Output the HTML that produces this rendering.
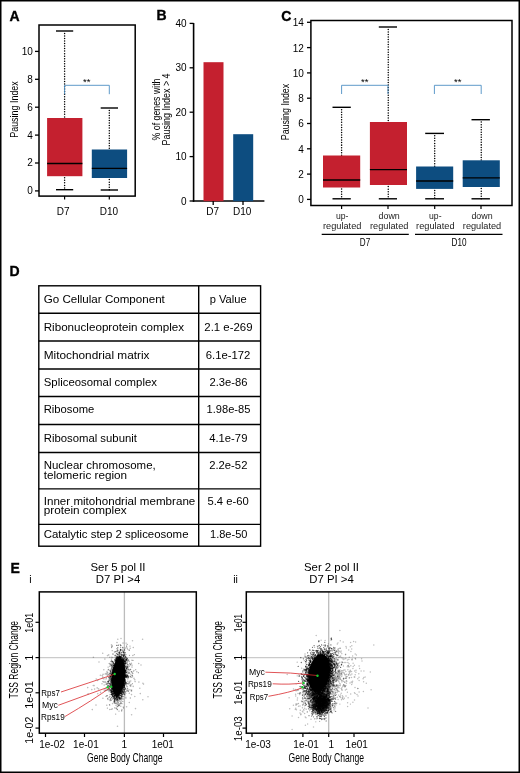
<!DOCTYPE html>
<html><head><meta charset="utf-8"><title>Figure</title>
<style>
html,body{margin:0;padding:0;background:#fff;}
body{width:520px;height:773px;overflow:hidden;position:relative;}
svg{display:block;font-family:"Liberation Sans",sans-serif;}
</style></head><body>
<svg width="520" height="773" viewBox="0 0 520 773">
<rect x="0.75" y="0.75" width="518.5" height="771.5" fill="#fff" stroke="#000" stroke-width="1.5"/>
<text transform="translate(9.6 20.5)" font-size="14" text-anchor="start" font-weight="bold" stroke="#000" stroke-width="0.35" fill="#000">A</text>
<rect x="39.00" y="25.00" width="96.20" height="171.10" fill="none" stroke="#000" stroke-width="1.5"/>
<line x1="35" y1="190.9" x2="39" y2="190.9" stroke="#000" stroke-width="1.3" />
<text transform="translate(32.8 194.3)" font-size="10" text-anchor="end" fill="#000">0</text>
<line x1="35" y1="163.0" x2="39" y2="163.0" stroke="#000" stroke-width="1.3" />
<text transform="translate(32.8 166.4)" font-size="10" text-anchor="end" fill="#000">2</text>
<line x1="35" y1="135.10000000000002" x2="39" y2="135.10000000000002" stroke="#000" stroke-width="1.3" />
<text transform="translate(32.8 138.50000000000003)" font-size="10" text-anchor="end" fill="#000">4</text>
<line x1="35" y1="107.20000000000002" x2="39" y2="107.20000000000002" stroke="#000" stroke-width="1.3" />
<text transform="translate(32.8 110.60000000000002)" font-size="10" text-anchor="end" fill="#000">6</text>
<line x1="35" y1="79.30000000000001" x2="39" y2="79.30000000000001" stroke="#000" stroke-width="1.3" />
<text transform="translate(32.8 82.70000000000002)" font-size="10" text-anchor="end" fill="#000">8</text>
<line x1="35" y1="51.400000000000006" x2="39" y2="51.400000000000006" stroke="#000" stroke-width="1.3" />
<text transform="translate(32.8 54.800000000000004)" font-size="10" text-anchor="end" fill="#000">10</text>
<text transform="translate(17.5 109.5) rotate(-90)" font-size="11" text-anchor="middle" textLength="56.5" lengthAdjust="spacingAndGlyphs" fill="#000">Pausing Index</text>
<line x1="64.6" y1="33.4" x2="64.6" y2="118" stroke="#000" stroke-width="1.5" stroke-dasharray="0.01 2.52" stroke-linecap="round"/>
<line x1="64.6" y1="177.79999999999998" x2="64.6" y2="189.7" stroke="#000" stroke-width="1.5" stroke-dasharray="0.01 2.52" stroke-linecap="round"/>
<line x1="56" y1="31" x2="73.2" y2="31" stroke="#000" stroke-width="1.4" />
<line x1="56" y1="189.7" x2="73.2" y2="189.7" stroke="#000" stroke-width="1.4" />
<rect x="47.10" y="118.00" width="35.30" height="58.20" fill="#c4202f" stroke="none" stroke-width="1"/>
<line x1="47.1" y1="163.5" x2="82.4" y2="163.5" stroke="#000" stroke-width="1.3" />
<line x1="109.3" y1="110.4" x2="109.3" y2="149.5" stroke="#000" stroke-width="1.5" stroke-dasharray="0.01 2.52" stroke-linecap="round"/>
<line x1="109.3" y1="179.6" x2="109.3" y2="190" stroke="#000" stroke-width="1.5" stroke-dasharray="0.01 2.52" stroke-linecap="round"/>
<line x1="100.7" y1="108" x2="118" y2="108" stroke="#000" stroke-width="1.4" />
<line x1="100.7" y1="190" x2="118" y2="190" stroke="#000" stroke-width="1.4" />
<rect x="91.80" y="149.50" width="35.30" height="28.50" fill="#0d4d80" stroke="none" stroke-width="1"/>
<line x1="91.8" y1="168.4" x2="127.1" y2="168.4" stroke="#000" stroke-width="1.3" />
<path d="M64.6 94.2 V85.3 H109.3 V94.2" fill="none" stroke="#4d8fc4" stroke-width="0.9"/>
<text transform="translate(86.7 84.9)" font-size="9.5" text-anchor="middle" fill="#000">**</text>
<line x1="64.6" y1="196" x2="64.6" y2="199.5" stroke="#000" stroke-width="1.2" />
<line x1="109.3" y1="196" x2="109.3" y2="199.5" stroke="#000" stroke-width="1.2" />
<text transform="translate(63.1 214.6)" font-size="10" text-anchor="middle" fill="#000">D7</text>
<text transform="translate(108.9 214.6)" font-size="10" text-anchor="middle" fill="#000">D10</text>
<text transform="translate(156.4 20.3)" font-size="14" text-anchor="start" font-weight="bold" stroke="#000" stroke-width="0.35" fill="#000">B</text>
<line x1="193.6" y1="23" x2="193.6" y2="201.8" stroke="#000" stroke-width="1.6" />
<line x1="192.8" y1="201" x2="264.4" y2="201" stroke="#000" stroke-width="1.6" />
<line x1="189.6" y1="201.0" x2="193.6" y2="201.0" stroke="#000" stroke-width="1.3" />
<text transform="translate(186.6 204.6)" font-size="10" text-anchor="end" fill="#000">0</text>
<line x1="189.6" y1="156.6" x2="193.6" y2="156.6" stroke="#000" stroke-width="1.3" />
<text transform="translate(186.6 160.2)" font-size="10" text-anchor="end" fill="#000">10</text>
<line x1="189.6" y1="112.19999999999999" x2="193.6" y2="112.19999999999999" stroke="#000" stroke-width="1.3" />
<text transform="translate(186.6 115.79999999999998)" font-size="10" text-anchor="end" fill="#000">20</text>
<line x1="189.6" y1="67.79999999999998" x2="193.6" y2="67.79999999999998" stroke="#000" stroke-width="1.3" />
<text transform="translate(186.6 71.39999999999998)" font-size="10" text-anchor="end" fill="#000">30</text>
<line x1="189.6" y1="23.399999999999977" x2="193.6" y2="23.399999999999977" stroke="#000" stroke-width="1.3" />
<text transform="translate(186.6 26.99999999999998)" font-size="10" text-anchor="end" fill="#000">40</text>
<rect x="203.50" y="62.20" width="20.00" height="139.00" fill="#c4202f" stroke="none" stroke-width="1"/>
<rect x="233.20" y="134.20" width="20.00" height="67.00" fill="#0d4d80" stroke="none" stroke-width="1"/>
<text transform="translate(212.7 215)" font-size="10" text-anchor="middle" fill="#000">D7</text>
<text transform="translate(242.2 215)" font-size="10" text-anchor="middle" fill="#000">D10</text>
<line x1="213.2" y1="201" x2="213.2" y2="205" stroke="#000" stroke-width="1.3" />
<line x1="243" y1="201" x2="243" y2="205" stroke="#000" stroke-width="1.3" />
<text transform="translate(160.2 109.5) rotate(-90)" font-size="11" text-anchor="middle" textLength="62" lengthAdjust="spacingAndGlyphs" fill="#000">% of genes with</text>
<text transform="translate(169.6 109.4) rotate(-90)" font-size="11" text-anchor="middle" textLength="72" lengthAdjust="spacingAndGlyphs" fill="#000">Pausing Index &gt; 4</text>
<text transform="translate(281.2 20.8)" font-size="14" text-anchor="start" font-weight="bold" stroke="#000" stroke-width="0.35" fill="#000">C</text>
<rect x="310.90" y="20.50" width="201.10" height="185.00" fill="none" stroke="#000" stroke-width="1.5"/>
<line x1="307" y1="199.4" x2="311" y2="199.4" stroke="#000" stroke-width="1.3" />
<text transform="translate(303.8 203.3)" font-size="10" text-anchor="end" fill="#000">0</text>
<line x1="307" y1="174.1" x2="311" y2="174.1" stroke="#000" stroke-width="1.3" />
<text transform="translate(303.8 178.0)" font-size="10" text-anchor="end" fill="#000">2</text>
<line x1="307" y1="148.8" x2="311" y2="148.8" stroke="#000" stroke-width="1.3" />
<text transform="translate(303.8 152.70000000000002)" font-size="10" text-anchor="end" fill="#000">4</text>
<line x1="307" y1="123.5" x2="311" y2="123.5" stroke="#000" stroke-width="1.3" />
<text transform="translate(303.8 127.4)" font-size="10" text-anchor="end" fill="#000">6</text>
<line x1="307" y1="98.2" x2="311" y2="98.2" stroke="#000" stroke-width="1.3" />
<text transform="translate(303.8 102.10000000000001)" font-size="10" text-anchor="end" fill="#000">8</text>
<line x1="307" y1="72.9" x2="311" y2="72.9" stroke="#000" stroke-width="1.3" />
<text transform="translate(303.8 76.80000000000001)" font-size="10" text-anchor="end" fill="#000">10</text>
<line x1="307" y1="47.599999999999994" x2="311" y2="47.599999999999994" stroke="#000" stroke-width="1.3" />
<text transform="translate(303.8 51.49999999999999)" font-size="10" text-anchor="end" fill="#000">12</text>
<line x1="307" y1="22.30000000000001" x2="311" y2="22.30000000000001" stroke="#000" stroke-width="1.3" />
<text transform="translate(303.8 26.20000000000001)" font-size="10" text-anchor="end" fill="#000">14</text>
<text transform="translate(289.3 112) rotate(-90)" font-size="11" text-anchor="middle" textLength="56.5" lengthAdjust="spacingAndGlyphs" fill="#000">Pausing Index</text>
<line x1="341.6" y1="109.7" x2="341.6" y2="155.5" stroke="#000" stroke-width="1.5" stroke-dasharray="0.01 2.52" stroke-linecap="round"/>
<line x1="341.6" y1="189.1" x2="341.6" y2="198.8" stroke="#000" stroke-width="1.5" stroke-dasharray="0.01 2.52" stroke-linecap="round"/>
<line x1="332.5" y1="107.3" x2="350.8" y2="107.3" stroke="#000" stroke-width="1.4" />
<line x1="332.5" y1="198.8" x2="350.8" y2="198.8" stroke="#000" stroke-width="1.4" />
<rect x="323.00" y="155.50" width="37.20" height="32.00" fill="#c4202f" stroke="none" stroke-width="1"/>
<line x1="323" y1="180" x2="360.2" y2="180" stroke="#000" stroke-width="1.3" />
<line x1="388.25" y1="29.4" x2="388.25" y2="122" stroke="#000" stroke-width="1.5" stroke-dasharray="0.01 2.52" stroke-linecap="round"/>
<line x1="388.25" y1="186.6" x2="388.25" y2="198.8" stroke="#000" stroke-width="1.5" stroke-dasharray="0.01 2.52" stroke-linecap="round"/>
<line x1="378.8" y1="27" x2="397" y2="27" stroke="#000" stroke-width="1.4" />
<line x1="378.8" y1="198.8" x2="397" y2="198.8" stroke="#000" stroke-width="1.4" />
<rect x="369.90" y="122.00" width="37.10" height="63.00" fill="#c4202f" stroke="none" stroke-width="1"/>
<line x1="369.9" y1="169.7" x2="407" y2="169.7" stroke="#000" stroke-width="1.3" />
<line x1="434.7" y1="135.8" x2="434.7" y2="166.5" stroke="#000" stroke-width="1.5" stroke-dasharray="0.01 2.52" stroke-linecap="round"/>
<line x1="434.7" y1="190.5" x2="434.7" y2="198.8" stroke="#000" stroke-width="1.5" stroke-dasharray="0.01 2.52" stroke-linecap="round"/>
<line x1="425.2" y1="133.4" x2="444" y2="133.4" stroke="#000" stroke-width="1.4" />
<line x1="425.2" y1="198.8" x2="444" y2="198.8" stroke="#000" stroke-width="1.4" />
<rect x="416.10" y="166.50" width="37.10" height="22.40" fill="#0d4d80" stroke="none" stroke-width="1"/>
<line x1="416.1" y1="181" x2="453.2" y2="181" stroke="#000" stroke-width="1.3" />
<line x1="481.25" y1="122.10000000000001" x2="481.25" y2="160.3" stroke="#000" stroke-width="1.5" stroke-dasharray="0.01 2.52" stroke-linecap="round"/>
<line x1="481.25" y1="188.6" x2="481.25" y2="198.8" stroke="#000" stroke-width="1.5" stroke-dasharray="0.01 2.52" stroke-linecap="round"/>
<line x1="471.5" y1="119.7" x2="489.9" y2="119.7" stroke="#000" stroke-width="1.4" />
<line x1="471.5" y1="198.8" x2="489.9" y2="198.8" stroke="#000" stroke-width="1.4" />
<rect x="462.70" y="160.30" width="37.10" height="26.70" fill="#0d4d80" stroke="none" stroke-width="1"/>
<line x1="462.7" y1="177.8" x2="499.8" y2="177.8" stroke="#000" stroke-width="1.3" />
<path d="M341.6 94 V85.3 H388 V94" fill="none" stroke="#4d8fc4" stroke-width="0.9"/>
<text transform="translate(364.8 84.9)" font-size="9.5" text-anchor="middle" fill="#000">**</text>
<path d="M434.4 94 V85.3 H481.2 V94" fill="none" stroke="#4d8fc4" stroke-width="0.9"/>
<text transform="translate(457.8 84.9)" font-size="9.5" text-anchor="middle" fill="#000">**</text>
<line x1="341.6" y1="205.5" x2="341.6" y2="209" stroke="#000" stroke-width="1.2" />
<line x1="388" y1="205.5" x2="388" y2="209" stroke="#000" stroke-width="1.2" />
<line x1="434.7" y1="205.5" x2="434.7" y2="209" stroke="#000" stroke-width="1.2" />
<line x1="481" y1="205.5" x2="481" y2="209" stroke="#000" stroke-width="1.2" />
<text transform="translate(342.2 219.2)" font-size="9.4" text-anchor="middle" textLength="12.5" lengthAdjust="spacingAndGlyphs" fill="#222">up-</text>
<text transform="translate(342.2 228.6)" font-size="9.4" text-anchor="middle" textLength="38.4" lengthAdjust="spacingAndGlyphs" fill="#222">regulated</text>
<text transform="translate(389.2 219.2)" font-size="9.4" text-anchor="middle" textLength="21.2" lengthAdjust="spacingAndGlyphs" fill="#222">down</text>
<text transform="translate(389.2 228.6)" font-size="9.4" text-anchor="middle" textLength="38.4" lengthAdjust="spacingAndGlyphs" fill="#222">regulated</text>
<text transform="translate(435.3 219.2)" font-size="9.4" text-anchor="middle" textLength="12.5" lengthAdjust="spacingAndGlyphs" fill="#222">up-</text>
<text transform="translate(435.3 228.6)" font-size="9.4" text-anchor="middle" textLength="38.4" lengthAdjust="spacingAndGlyphs" fill="#222">regulated</text>
<text transform="translate(482 219.2)" font-size="9.4" text-anchor="middle" textLength="21.2" lengthAdjust="spacingAndGlyphs" fill="#222">down</text>
<text transform="translate(482 228.6)" font-size="9.4" text-anchor="middle" textLength="38.4" lengthAdjust="spacingAndGlyphs" fill="#222">regulated</text>
<line x1="321.7" y1="234.3" x2="408.8" y2="234.3" stroke="#000" stroke-width="1.3" />
<line x1="415" y1="234.3" x2="502.5" y2="234.3" stroke="#000" stroke-width="1.3" />
<text transform="translate(365 246.3)" font-size="11.5" text-anchor="middle" textLength="10.4" lengthAdjust="spacingAndGlyphs" fill="#000">D7</text>
<text transform="translate(459 246.3)" font-size="11.5" text-anchor="middle" textLength="15" lengthAdjust="spacingAndGlyphs" fill="#000">D10</text>
<text transform="translate(9.6 276)" font-size="14" text-anchor="start" font-weight="bold" stroke="#000" stroke-width="0.35" fill="#000">D</text>
<rect x="38.80" y="285.80" width="221.80" height="260.40" fill="none" stroke="#000" stroke-width="1.4"/>
<line x1="38.8" y1="313.3" x2="260.6" y2="313.3" stroke="#000" stroke-width="1.4" />
<line x1="38.8" y1="341" x2="260.6" y2="341" stroke="#000" stroke-width="1.4" />
<line x1="38.8" y1="369" x2="260.6" y2="369" stroke="#000" stroke-width="1.4" />
<line x1="38.8" y1="396.5" x2="260.6" y2="396.5" stroke="#000" stroke-width="1.4" />
<line x1="38.8" y1="424.5" x2="260.6" y2="424.5" stroke="#000" stroke-width="1.4" />
<line x1="38.8" y1="452.5" x2="260.6" y2="452.5" stroke="#000" stroke-width="1.4" />
<line x1="38.8" y1="488.9" x2="260.6" y2="488.9" stroke="#000" stroke-width="1.4" />
<line x1="38.8" y1="524.4" x2="260.6" y2="524.4" stroke="#000" stroke-width="1.4" />
<line x1="198.7" y1="285.8" x2="198.7" y2="546.2" stroke="#000" stroke-width="1.4" />
<text transform="translate(43.7 303.09999999999997)" font-size="11" text-anchor="start" textLength="121.1" lengthAdjust="spacingAndGlyphs" fill="#000">Go Cellular Component</text>
<text transform="translate(209.7 303.09999999999997)" font-size="11" text-anchor="start" textLength="36.9" lengthAdjust="spacingAndGlyphs" fill="#000">p Value</text>
<text transform="translate(43.7 330.7)" font-size="11" text-anchor="start" textLength="140.3" lengthAdjust="spacingAndGlyphs" fill="#000">Ribonucleoprotein complex</text>
<text transform="translate(204.3 330.7)" font-size="11" text-anchor="start" textLength="48.2" lengthAdjust="spacingAndGlyphs" fill="#000">2.1 e-269</text>
<text transform="translate(43.7 358.7)" font-size="11" text-anchor="start" textLength="105.8" lengthAdjust="spacingAndGlyphs" fill="#000">Mitochondrial matrix</text>
<text transform="translate(205.7 358.7)" font-size="11" text-anchor="start" textLength="44.7" lengthAdjust="spacingAndGlyphs" fill="#000">6.1e-172</text>
<text transform="translate(43.7 386.2)" font-size="11" text-anchor="start" textLength="113.3" lengthAdjust="spacingAndGlyphs" fill="#000">Spliceosomal complex</text>
<text transform="translate(209.4 386.2)" font-size="11" text-anchor="start" textLength="38.0" lengthAdjust="spacingAndGlyphs" fill="#000">2.3e-86</text>
<text transform="translate(43.7 413.29999999999995)" font-size="11" text-anchor="start" textLength="50.6" lengthAdjust="spacingAndGlyphs" fill="#000">Ribosome</text>
<text transform="translate(206.5 413.29999999999995)" font-size="11" text-anchor="start" textLength="43.9" lengthAdjust="spacingAndGlyphs" fill="#000">1.98e-85</text>
<text transform="translate(43.7 441.59999999999997)" font-size="11" text-anchor="start" textLength="93.2" lengthAdjust="spacingAndGlyphs" fill="#000">Ribosomal subunit</text>
<text transform="translate(209.2 441.59999999999997)" font-size="11" text-anchor="start" textLength="38.2" lengthAdjust="spacingAndGlyphs" fill="#000">4.1e-79</text>
<text transform="translate(43.7 469.4)" font-size="11" text-anchor="start" textLength="112" lengthAdjust="spacingAndGlyphs" fill="#000">Nuclear chromosome,</text>
<text transform="translate(43.7 478.9)" font-size="11" text-anchor="start" textLength="83.4" lengthAdjust="spacingAndGlyphs" fill="#000">telomeric region</text>
<text transform="translate(209.2 469.4)" font-size="11" text-anchor="start" textLength="38.2" lengthAdjust="spacingAndGlyphs" fill="#000">2.2e-52</text>
<text transform="translate(43.7 504.9)" font-size="11" text-anchor="start" textLength="151.6" lengthAdjust="spacingAndGlyphs" fill="#000">Inner mitohondrial membrane</text>
<text transform="translate(43.7 514.4)" font-size="11" text-anchor="start" textLength="82.9" lengthAdjust="spacingAndGlyphs" fill="#000">protein complex</text>
<text transform="translate(207.5 504.9)" font-size="11" text-anchor="start" textLength="41.2" lengthAdjust="spacingAndGlyphs" fill="#000">5.4 e-60</text>
<text transform="translate(43.7 537.6999999999999)" font-size="11" text-anchor="start" textLength="144.8" lengthAdjust="spacingAndGlyphs" fill="#000">Catalytic step 2 spliceosome</text>
<text transform="translate(210 537.6999999999999)" font-size="11" text-anchor="start" textLength="37.4" lengthAdjust="spacingAndGlyphs" fill="#000">1.8e-50</text>
<text transform="translate(10.4 573.4)" font-size="14" text-anchor="start" font-weight="bold" stroke="#000" stroke-width="0.35" fill="#000">E</text>
<defs><clipPath id="ci"><rect x="39.3" y="591.9" width="157" height="141.3"/></clipPath><clipPath id="cii"><rect x="246.3" y="591.9" width="157.3" height="141.3"/></clipPath></defs>
<g clip-path="url(#ci)">
<line x1="124.4" y1="591.9" x2="124.4" y2="733.2" stroke="#bcbcbc" stroke-width="1.3" />
<line x1="39.3" y1="657.6" x2="196.3" y2="657.6" stroke="#cbcbcb" stroke-width="1.2" />
<g fill="none" stroke="#000" stroke-opacity="0.6" stroke-width="1.3" stroke-linecap="round">
<path d="M118.5 679.7h0M118.8 677.3h0M117.2 675.5h0M118.8 671.4h0M115.2 683.1h0M114.6 688.4h0M117.1 685.0h0M118.8 667.0h0M116.1 684.4h0M120.1 692.5h0M119.0 680.1h0M116.5 670.0h0M119.3 676.0h0M116.6 672.0h0M116.5 676.5h0M113.4 686.9h0M115.7 682.7h0M120.4 672.2h0M116.6 675.6h0M117.8 682.5h0M120.7 674.0h0M114.0 677.4h0M119.0 692.8h0M121.3 680.8h0M124.3 687.1h0M119.6 679.5h0M121.1 674.2h0M115.1 677.7h0M118.1 674.6h0M119.9 685.2h0M114.3 682.8h0M121.3 671.1h0M116.6 673.8h0M123.3 675.2h0M123.8 669.1h0M114.8 678.8h0M118.1 668.7h0M117.0 685.2h0M118.0 678.8h0M118.9 691.0h0M113.3 678.5h0M115.3 672.4h0M114.0 665.5h0M114.4 686.6h0M116.5 686.1h0M120.6 674.4h0M114.8 683.6h0M120.4 678.0h0M122.9 672.8h0M115.1 673.0h0M117.4 681.1h0M125.1 672.2h0M114.9 689.7h0M119.2 662.1h0M122.5 671.0h0M114.2 668.2h0M115.2 672.7h0M117.6 679.0h0M116.8 673.3h0M107.8 681.4h0M114.8 687.1h0M121.9 672.8h0M118.6 677.1h0M119.9 674.1h0M116.2 675.1h0M120.4 681.1h0M120.7 680.1h0M115.2 675.2h0M120.6 663.5h0M115.1 679.3h0M121.6 683.1h0M118.5 658.8h0M119.0 672.4h0M121.5 667.9h0M118.4 695.6h0M119.4 681.6h0M116.4 677.6h0M117.7 681.6h0M125.2 672.9h0M122.6 682.2h0M118.7 679.5h0M115.7 678.0h0M122.6 672.5h0M117.1 677.2h0M122.0 683.0h0M113.3 696.6h0M122.0 673.4h0M114.5 690.1h0M118.7 681.1h0M122.2 675.3h0M118.9 663.6h0M121.5 684.5h0M119.1 676.2h0M118.3 667.7h0M119.2 663.8h0M119.9 688.4h0M125.0 681.9h0M117.9 668.8h0M121.2 668.3h0M112.3 672.3h0M120.8 684.6h0M116.8 669.2h0M116.6 676.8h0M121.4 677.9h0M118.6 676.2h0M115.2 676.8h0M121.1 678.7h0M117.0 662.0h0M117.9 692.7h0M119.4 675.2h0M118.5 681.5h0M115.4 682.0h0M116.1 681.0h0M119.3 677.4h0M120.9 689.9h0M114.9 688.0h0M114.2 668.5h0M122.9 684.5h0M120.1 668.1h0M117.7 675.2h0M122.1 680.5h0M117.4 675.6h0M121.2 670.8h0M119.4 678.4h0M115.1 692.4h0M122.0 679.5h0M119.8 671.1h0M123.5 667.7h0M118.8 657.7h0M118.2 688.2h0M120.0 682.2h0M122.7 657.6h0M125.8 660.3h0M113.4 676.8h0M116.0 671.6h0M120.2 658.5h0M121.3 661.2h0M115.5 688.2h0M114.8 679.2h0M123.1 674.0h0M117.5 675.9h0M119.3 666.1h0M117.2 678.7h0M120.5 683.7h0M117.7 666.6h0M124.2 676.3h0M118.7 687.9h0M108.9 689.1h0M120.0 678.5h0M120.0 661.7h0"/>
<path d="M117.7 669.7h0M114.7 681.2h0M119.6 674.9h0M118.1 659.2h0M122.9 659.8h0M120.0 683.5h0M118.2 678.0h0M117.7 676.2h0M123.2 669.8h0M120.3 675.8h0M117.3 687.4h0M121.1 669.9h0M119.0 677.0h0M118.3 667.7h0M120.5 679.1h0M118.3 680.0h0M116.5 665.1h0M120.0 667.5h0M111.3 694.6h0M120.7 664.9h0M119.6 676.9h0M119.0 674.9h0M115.6 678.6h0M119.0 677.2h0M112.4 673.8h0M117.2 696.5h0M123.9 654.1h0M117.8 679.2h0M120.9 665.0h0M117.0 671.0h0M116.9 675.2h0M115.6 692.7h0M120.1 680.8h0M119.3 663.5h0M114.9 668.4h0M111.7 667.9h0M118.8 680.8h0M120.5 669.9h0M119.9 662.5h0M119.5 667.8h0M118.4 678.1h0M116.9 698.2h0M114.5 677.0h0M119.6 678.5h0M124.1 676.3h0M113.7 698.1h0M115.5 680.3h0M115.3 679.7h0M125.0 663.0h0M123.3 685.4h0M118.0 669.4h0M116.2 680.1h0M123.9 663.6h0M120.9 676.2h0M117.6 669.0h0M120.0 698.9h0M122.2 692.6h0M118.0 671.4h0M115.6 690.4h0M118.0 686.3h0M117.8 681.2h0M119.3 677.9h0M120.7 670.7h0M121.9 678.6h0M118.0 691.3h0M114.7 677.6h0M124.1 674.4h0M115.1 674.1h0M122.2 666.4h0M118.9 670.7h0M116.1 678.7h0M114.5 687.4h0M118.2 676.7h0M121.5 673.8h0M120.1 680.9h0M119.9 665.5h0M118.1 666.8h0M121.6 674.2h0M116.6 666.9h0M116.6 677.1h0M124.2 694.5h0M113.0 683.1h0M121.7 668.2h0M118.5 678.0h0M119.8 678.7h0M114.5 681.7h0M117.3 674.0h0M116.8 682.0h0M118.0 666.8h0M123.0 671.6h0M120.1 672.7h0M121.3 679.1h0M126.5 676.6h0M121.6 664.5h0M123.8 681.9h0M117.5 659.3h0M120.6 675.5h0M120.0 692.2h0M123.1 684.8h0M121.4 664.7h0M115.4 691.3h0M120.0 679.4h0M121.7 660.3h0M121.5 672.9h0M118.3 683.7h0M121.7 672.5h0M116.1 685.9h0M118.3 671.5h0M123.0 678.2h0M119.4 665.6h0M119.1 658.4h0M117.2 682.3h0M121.4 676.0h0M112.7 695.4h0M117.7 662.3h0M117.1 679.9h0M117.6 691.4h0M116.9 675.0h0M116.2 666.0h0M124.2 680.0h0M119.6 677.9h0M115.8 680.7h0M127.6 666.5h0M117.4 673.8h0M118.2 693.5h0M119.8 673.5h0M125.6 675.7h0M117.7 678.6h0M122.8 663.1h0M116.1 683.0h0M119.0 669.1h0M119.1 675.7h0M119.2 684.4h0M120.1 664.6h0M122.3 681.0h0M120.8 676.1h0M117.1 671.2h0M121.0 685.7h0M120.0 671.4h0M114.9 692.5h0M116.6 665.6h0M112.4 685.3h0M116.4 665.4h0M121.2 689.2h0M120.1 675.3h0M118.3 665.3h0M120.2 678.6h0M121.9 692.1h0M120.7 677.1h0M111.8 679.6h0"/>
<path d="M117.1 669.3h0M122.7 659.1h0M117.9 667.5h0M115.0 683.5h0M117.9 671.9h0M124.3 685.1h0M117.6 688.3h0M122.2 676.6h0M116.6 680.4h0M113.3 685.3h0M119.2 665.4h0M123.1 665.7h0M124.4 662.1h0M120.4 674.3h0M119.1 662.7h0M113.2 678.5h0M121.7 678.5h0M117.4 668.7h0M119.3 686.3h0M117.9 685.9h0M120.5 675.5h0M113.0 677.9h0M119.9 682.4h0M121.7 669.9h0M120.6 682.3h0M119.7 692.0h0M117.6 685.8h0M119.3 674.3h0M122.7 673.5h0M113.4 673.3h0M113.1 673.9h0M120.6 677.1h0M122.8 676.8h0M122.9 689.3h0M119.5 678.8h0M118.8 667.8h0M114.1 673.7h0M115.7 682.1h0M124.8 681.9h0M118.3 688.7h0M114.9 686.2h0M117.2 673.4h0M117.5 673.3h0M111.7 682.4h0M114.7 683.8h0M115.8 681.7h0M121.8 683.3h0M117.7 656.7h0M120.7 665.9h0M116.2 668.4h0M120.9 669.9h0M115.3 673.1h0M117.6 687.4h0M117.2 688.7h0M112.7 678.9h0M115.4 688.5h0M119.5 669.6h0M117.3 684.9h0M118.5 685.7h0M120.4 680.6h0M117.2 681.0h0M119.4 678.0h0M122.0 678.0h0M116.7 685.1h0M123.1 670.4h0M118.9 683.9h0M122.3 664.2h0M117.9 668.5h0M118.9 680.1h0M120.0 673.6h0M121.7 668.1h0M122.8 674.9h0M119.1 680.1h0M121.2 669.7h0M118.9 674.8h0M121.6 667.0h0M123.4 671.3h0M124.9 670.4h0M116.3 685.6h0M118.9 667.7h0M115.7 689.1h0M120.5 673.8h0M114.1 671.0h0M118.0 686.5h0M115.1 678.9h0M116.8 662.2h0M123.1 685.8h0M119.8 668.5h0M118.4 680.8h0M117.5 665.3h0M117.6 664.4h0M120.5 650.7h0M117.0 683.5h0M120.1 662.7h0M121.1 663.8h0M123.2 673.5h0M116.6 677.3h0M118.8 687.9h0M117.0 676.4h0M117.1 680.3h0M117.0 669.1h0M117.8 673.9h0M121.8 692.3h0M114.0 697.2h0M117.0 666.9h0M120.4 680.0h0M113.5 670.7h0M119.9 666.2h0M119.2 667.2h0M119.6 677.4h0M117.3 682.2h0M119.3 693.4h0M118.9 676.3h0M117.2 676.2h0M122.3 678.5h0M112.0 693.1h0M121.0 668.5h0M122.6 689.0h0M114.7 687.7h0M115.5 676.4h0M115.7 674.6h0M116.4 671.5h0M116.7 689.1h0M118.6 668.3h0M117.9 656.3h0M116.9 676.2h0M117.8 679.6h0M115.9 670.7h0M111.8 674.6h0M118.7 670.6h0M117.8 677.0h0M112.6 688.3h0M119.0 682.5h0M115.6 694.0h0M116.3 668.7h0M117.3 674.3h0M117.3 685.8h0M124.0 663.4h0M122.1 680.8h0M122.1 667.8h0M117.5 683.1h0M113.5 683.9h0M116.4 674.4h0M119.6 683.0h0M118.8 679.8h0M118.6 657.7h0M117.8 680.5h0M118.7 661.6h0M118.5 681.6h0M116.5 676.8h0"/>
<path d="M118.7 689.0h0M121.2 675.6h0M118.5 673.0h0M111.9 690.7h0M113.0 688.7h0M114.9 665.0h0M118.4 657.1h0M118.5 690.9h0M118.5 668.0h0M112.5 669.8h0M115.6 687.0h0M119.7 673.8h0M113.7 672.3h0M119.3 674.6h0M120.2 686.1h0M116.6 670.9h0M120.0 671.3h0M122.0 673.5h0M124.6 671.6h0M119.3 677.3h0M122.3 677.3h0M121.0 679.8h0M117.1 681.0h0M116.3 677.3h0M120.8 674.3h0M121.5 668.3h0M117.4 670.8h0M122.0 654.4h0M116.2 674.7h0M120.2 675.9h0M118.4 685.1h0M121.4 684.0h0M121.8 687.7h0M118.6 674.9h0M114.2 672.0h0M118.0 676.5h0M115.6 686.5h0M118.2 686.6h0M120.8 671.6h0M121.5 674.3h0M114.6 678.5h0M116.8 677.1h0M118.8 657.4h0M120.5 668.2h0M122.8 668.6h0M119.1 689.2h0M123.3 669.9h0M120.4 680.2h0M124.1 668.8h0M116.5 674.3h0M117.0 665.9h0M119.7 670.9h0M119.5 694.2h0M120.6 649.5h0M116.4 683.4h0M119.3 666.3h0M117.2 687.9h0M120.5 686.8h0M117.7 678.4h0M119.2 682.4h0M116.2 678.9h0M116.1 660.2h0M119.0 676.9h0M116.9 662.2h0M123.5 672.0h0M116.5 668.3h0M114.2 693.9h0M114.1 668.7h0M120.3 659.0h0M115.3 680.3h0M116.2 686.6h0M120.9 671.1h0M116.9 671.7h0M116.9 668.0h0M121.5 684.2h0M115.0 674.7h0M114.2 690.9h0M128.4 677.0h0M120.9 672.9h0M120.0 684.9h0M120.4 678.8h0M119.9 667.2h0M116.6 669.4h0M118.5 678.6h0M119.2 672.7h0M117.5 684.0h0M111.9 674.6h0M116.7 659.9h0M115.3 683.0h0M116.7 691.6h0M116.7 672.0h0M121.1 672.1h0M114.7 675.0h0M121.9 664.6h0M117.2 673.2h0M118.9 677.1h0M120.4 668.1h0M117.1 673.8h0M115.9 681.2h0M122.3 673.3h0M118.0 664.2h0M125.6 663.6h0M120.4 680.2h0M118.0 690.0h0M114.6 699.7h0M117.4 663.9h0M114.0 671.0h0M117.1 669.2h0M120.1 675.6h0M115.7 698.6h0M119.3 686.3h0M120.1 674.9h0M121.0 657.5h0M111.5 691.3h0M120.5 676.4h0M119.6 680.6h0M121.3 663.5h0M113.7 677.1h0M119.8 664.9h0M116.2 678.9h0M120.7 676.0h0M124.0 678.5h0M120.8 674.6h0M114.6 692.4h0M121.1 671.3h0M118.7 681.6h0M121.4 684.8h0M117.3 686.0h0M116.0 684.4h0M117.8 663.5h0M122.4 688.1h0M118.6 672.3h0M119.0 683.3h0M122.6 658.6h0M118.5 672.8h0M123.9 685.9h0M116.5 683.9h0M121.8 684.3h0M115.4 682.7h0M125.3 661.6h0M117.0 678.6h0M118.9 687.0h0M118.5 687.7h0M123.4 669.8h0M120.7 669.6h0M117.6 692.7h0M122.2 655.1h0M120.4 670.1h0M113.3 693.6h0M117.0 681.9h0"/>
<path d="M117.0 672.8h0M116.5 697.0h0M122.1 679.6h0M113.1 688.8h0M118.4 677.7h0M121.0 665.5h0M116.4 661.1h0M116.8 675.1h0M119.9 694.0h0M121.1 681.0h0M119.9 658.5h0M116.2 684.5h0M114.4 687.6h0M116.2 670.5h0M121.6 676.2h0M111.5 680.4h0M121.7 671.9h0M116.2 675.9h0M112.9 674.0h0M123.3 666.4h0M119.7 679.6h0M118.3 669.2h0M117.6 678.9h0M122.2 661.0h0M119.9 681.6h0M117.3 682.0h0M117.7 665.3h0M118.5 670.5h0M116.4 680.4h0M115.4 676.5h0M121.6 673.5h0M119.6 653.8h0M119.0 663.1h0M113.5 689.6h0M120.2 680.7h0M124.5 683.3h0M123.8 679.9h0M126.7 677.1h0M118.2 682.3h0M118.7 675.8h0M122.7 666.7h0M120.5 676.8h0M120.0 662.7h0M118.8 655.2h0M116.1 688.4h0M117.1 687.4h0M115.1 689.3h0M117.1 666.1h0M118.3 685.5h0M113.6 681.8h0M116.1 685.1h0M117.1 693.4h0M116.7 683.5h0M118.6 663.7h0M113.9 694.2h0M117.6 675.7h0M115.7 692.8h0M113.3 678.3h0M118.0 681.7h0M123.0 663.2h0M120.3 675.8h0M116.4 660.6h0M120.1 684.7h0M124.8 668.0h0M119.7 683.9h0M121.6 684.2h0M123.1 677.4h0M119.9 676.2h0M123.5 677.5h0M124.3 665.5h0M123.3 662.1h0M117.3 672.1h0M120.8 659.5h0M120.3 683.9h0M114.5 690.3h0M118.2 683.8h0M116.2 683.7h0M120.0 671.1h0M118.7 674.1h0M117.0 696.2h0M120.0 675.4h0M114.0 675.4h0M122.2 685.7h0M118.3 668.1h0M118.8 669.2h0M117.9 686.1h0M124.0 668.6h0M115.7 663.3h0M122.4 683.1h0M119.5 682.7h0M118.4 663.9h0M118.8 674.2h0M112.7 695.3h0M121.1 660.2h0M117.2 668.0h0M120.5 680.0h0M121.4 665.4h0M116.4 677.7h0M122.1 660.6h0M118.2 672.3h0M118.5 679.6h0M117.8 680.0h0M118.5 666.4h0M119.8 681.9h0M111.2 682.1h0M121.6 675.7h0M121.2 662.4h0M115.1 686.2h0M119.0 671.4h0M115.3 671.6h0M114.3 685.1h0M121.8 671.0h0M119.5 667.1h0M121.4 668.3h0M125.5 670.7h0M122.2 671.4h0M121.5 670.3h0M119.1 687.1h0M115.0 674.7h0M119.0 697.0h0M124.1 668.5h0M122.2 674.0h0M117.8 681.5h0M117.8 677.5h0M117.8 691.9h0M119.8 673.1h0M120.4 686.5h0M117.2 676.5h0M115.7 682.3h0M116.8 660.5h0M119.8 669.0h0M116.3 708.2h0M122.5 671.3h0M114.3 684.3h0M123.6 659.0h0M124.2 661.4h0M120.7 659.5h0M118.5 679.2h0M124.6 685.5h0M119.5 686.8h0M112.1 681.0h0M123.7 675.6h0M113.3 683.0h0M123.9 687.8h0M118.2 662.7h0M119.6 686.4h0M118.2 673.8h0M113.1 676.7h0M114.6 688.5h0M118.0 672.6h0"/>
<path d="M120.0 678.8h0M120.9 664.0h0M118.4 683.1h0M115.9 686.5h0M116.2 683.3h0M118.5 684.6h0M108.4 681.5h0M112.9 696.4h0M117.7 675.9h0M118.0 661.9h0M122.7 678.6h0M118.0 682.9h0M121.0 666.0h0M117.8 672.7h0M113.7 690.0h0M121.3 677.9h0M121.9 665.6h0M117.8 684.0h0M114.8 675.9h0M118.8 672.1h0M114.0 679.7h0M120.5 670.0h0M118.1 667.0h0M122.2 667.8h0M118.3 686.5h0M118.7 677.3h0M118.9 698.8h0M118.9 678.6h0M116.3 689.4h0M118.6 681.5h0M117.9 670.0h0M116.4 674.8h0M114.8 667.3h0M126.9 675.8h0M116.5 684.5h0M118.4 688.1h0M117.4 691.3h0M118.4 675.5h0M119.8 660.2h0M116.7 696.7h0M116.9 688.5h0M124.9 673.1h0M116.5 675.1h0M120.6 669.1h0M118.9 666.6h0M116.2 689.3h0M119.5 686.3h0M123.1 675.2h0M122.4 663.3h0M114.5 669.7h0M113.5 681.0h0M121.2 681.8h0M114.6 699.6h0M121.8 696.5h0M119.3 674.0h0M116.4 696.5h0M122.9 673.6h0M117.2 679.7h0M121.1 676.8h0M117.1 665.7h0M117.1 668.5h0M118.7 676.8h0M121.4 677.7h0M116.6 681.8h0M119.4 698.1h0M119.6 670.4h0M119.2 677.9h0M121.7 683.5h0M117.2 668.9h0M122.1 686.2h0M110.4 671.3h0M121.5 677.3h0M116.6 692.8h0M125.1 682.7h0M120.1 684.2h0M120.4 675.0h0M118.4 679.3h0M109.7 683.6h0M115.1 692.0h0M117.6 676.0h0M123.4 678.1h0M122.1 683.0h0M119.3 666.8h0M115.9 669.8h0M123.3 692.1h0M117.4 678.1h0M114.3 680.9h0M119.9 676.3h0M113.6 672.7h0M120.7 674.9h0M118.7 678.0h0M114.2 676.1h0M120.3 664.7h0M117.1 688.9h0M119.8 677.8h0M113.6 691.4h0M113.0 672.9h0M124.2 661.3h0M121.3 662.4h0M123.6 682.0h0M117.9 682.4h0M114.9 681.4h0M120.2 679.0h0M124.2 674.9h0M123.0 677.2h0M121.5 656.0h0M114.9 671.7h0M117.0 682.1h0M118.3 675.1h0M119.2 658.4h0M116.3 680.3h0M117.2 698.0h0M114.5 680.2h0M118.6 679.9h0M119.9 658.4h0M117.8 683.7h0M120.7 680.2h0M115.8 685.0h0M120.1 664.5h0M112.7 691.3h0M111.0 680.6h0M121.4 681.2h0M121.1 681.5h0M118.1 677.6h0M117.7 688.3h0M118.7 680.4h0M123.1 661.7h0M117.1 666.1h0M115.6 699.9h0M125.6 684.2h0M116.2 677.4h0M117.3 661.8h0M119.1 675.9h0M114.8 678.1h0M112.8 679.9h0M116.5 687.1h0M114.9 676.9h0M109.2 680.4h0M118.3 685.3h0M111.5 692.5h0M118.1 666.2h0M116.8 667.9h0M111.6 673.8h0M120.9 691.4h0M111.6 665.7h0M117.4 665.7h0M117.7 660.1h0M121.9 685.1h0M118.7 687.3h0M117.3 684.4h0"/>
<path d="M118.8 668.3h0M118.7 682.0h0M117.4 687.5h0M118.9 662.7h0M116.8 677.2h0M113.4 662.6h0M122.6 673.6h0M121.5 682.6h0M115.3 682.9h0M117.3 671.9h0M122.7 669.7h0M118.4 667.3h0M114.2 677.7h0M119.2 676.3h0M118.0 654.5h0M116.6 678.6h0M115.9 681.3h0M113.6 672.1h0M118.7 658.6h0M123.1 655.1h0M117.7 679.6h0M114.9 673.1h0M118.4 685.0h0M115.1 691.6h0M111.5 689.2h0M117.6 661.4h0M122.0 663.7h0M115.7 673.8h0M116.1 658.6h0M116.7 676.4h0M119.7 673.6h0M115.4 681.6h0M123.4 664.8h0M122.4 678.3h0M120.3 659.2h0M116.1 676.2h0M113.8 694.9h0M115.8 671.2h0M120.9 701.9h0M118.5 666.4h0M117.3 675.4h0M123.0 675.4h0M114.9 667.9h0M121.2 657.8h0M117.3 671.2h0M116.1 675.9h0M118.5 687.8h0M121.7 686.9h0M117.4 665.3h0M121.3 668.2h0M120.7 671.5h0M120.1 679.9h0M116.2 659.1h0M116.9 679.2h0M116.3 671.9h0M112.6 685.9h0M120.5 682.0h0M117.1 673.6h0M116.4 671.9h0M123.5 684.1h0M119.0 679.6h0M113.3 688.0h0M121.2 675.6h0M113.7 669.2h0M119.3 665.5h0M119.8 676.8h0M116.4 692.9h0M117.4 684.0h0M113.2 669.5h0M123.1 665.3h0M115.4 678.6h0M117.8 674.7h0M110.1 678.4h0M119.3 674.4h0M119.9 664.4h0M121.4 675.1h0M119.0 671.3h0M119.1 693.9h0M119.7 698.4h0M117.8 671.3h0M119.6 687.3h0M117.1 689.2h0M118.1 671.1h0M119.1 670.0h0M117.3 681.7h0M117.3 681.2h0M118.2 676.4h0M121.3 677.6h0M113.5 691.3h0M117.9 678.7h0M115.0 674.5h0M120.5 688.0h0M118.3 685.8h0M116.0 679.9h0M119.6 671.4h0M116.9 674.3h0M113.3 669.3h0M123.6 663.2h0M115.8 663.2h0M118.2 664.6h0M117.5 677.9h0M124.1 680.3h0M120.8 698.2h0M122.8 659.6h0M115.9 679.4h0M113.4 662.3h0M119.1 673.4h0M114.9 680.8h0M119.3 688.7h0M115.9 665.1h0M119.6 681.7h0M115.8 674.5h0M117.1 683.0h0M121.3 674.8h0M116.5 672.1h0M119.7 673.3h0M117.5 680.5h0M117.4 699.2h0M117.8 657.7h0M119.7 669.1h0M119.3 679.5h0M122.2 694.9h0M117.6 681.8h0M118.6 677.5h0M118.5 670.2h0M113.5 674.7h0M117.1 670.0h0M123.2 651.7h0M120.2 693.3h0M122.3 676.3h0M122.8 676.1h0M115.6 676.3h0M117.2 678.0h0M117.1 683.4h0M118.5 678.2h0M114.8 673.9h0M116.7 681.5h0M124.0 655.7h0M116.4 665.8h0M118.3 677.0h0M113.1 685.7h0M116.0 679.6h0M116.9 658.0h0M121.1 666.6h0M123.3 656.1h0M117.1 674.9h0M120.9 667.5h0M120.8 665.7h0M118.8 668.6h0M121.6 682.8h0"/>
<path d="M118.4 683.4h0M117.9 683.7h0M118.5 682.3h0M122.4 686.5h0M115.1 669.1h0M119.3 676.7h0M114.9 671.8h0M120.6 676.1h0M114.6 670.5h0M120.5 695.6h0M117.6 667.6h0M118.2 677.8h0M122.8 647.5h0M114.3 681.5h0M119.7 662.4h0M120.8 649.8h0M116.3 685.1h0M117.3 701.0h0M119.6 662.3h0M116.4 674.1h0M114.3 695.7h0M123.0 674.9h0M115.5 677.6h0M118.2 665.5h0M115.3 688.6h0M117.8 657.5h0M115.8 675.8h0M121.0 677.9h0M116.2 660.9h0M112.9 671.7h0M120.4 691.1h0M122.2 669.2h0M122.3 678.8h0M115.4 691.9h0M117.5 681.7h0M121.3 663.2h0M116.5 653.7h0M115.4 676.3h0M112.6 691.6h0M117.0 685.2h0M119.2 686.1h0M120.4 662.2h0M115.4 679.8h0M120.6 672.9h0M119.4 677.1h0M124.4 674.5h0M121.1 681.1h0M116.9 685.8h0M118.9 675.7h0M118.3 682.9h0M119.2 666.2h0M123.0 672.7h0M118.1 676.1h0M117.7 680.9h0M115.0 675.3h0M119.5 670.8h0M123.3 663.0h0M120.9 676.4h0M123.6 669.7h0M120.8 664.0h0M117.7 670.8h0M121.2 675.4h0M122.4 673.2h0M117.0 673.7h0M122.5 669.5h0M121.1 663.3h0M120.5 679.7h0M114.0 701.8h0M120.2 672.4h0M124.7 672.3h0M120.4 673.9h0M120.2 678.3h0M120.6 660.1h0M119.7 675.6h0M114.9 696.9h0M121.3 661.7h0M118.6 695.3h0M114.2 698.2h0M116.2 677.9h0M119.8 676.0h0M121.3 678.6h0M117.5 691.6h0M123.0 675.7h0M115.2 682.2h0M117.8 689.1h0M124.4 674.9h0M117.0 675.6h0M116.5 681.9h0M120.4 681.6h0M120.6 679.2h0M115.8 687.7h0M116.6 670.6h0M120.0 679.1h0M117.0 657.4h0M122.5 675.0h0M123.9 680.4h0M122.0 672.0h0M117.8 685.2h0M125.0 671.5h0M116.1 684.5h0M114.0 681.5h0M120.5 680.6h0M120.8 678.8h0M121.2 672.3h0M121.2 685.5h0M115.8 688.9h0M121.2 668.1h0M113.2 677.2h0M119.5 660.7h0M115.3 678.2h0M116.5 680.0h0M118.5 666.9h0M121.7 652.4h0M123.7 669.5h0M118.2 679.9h0M118.5 672.0h0M115.0 679.1h0M119.7 674.3h0M114.4 684.1h0M117.9 672.7h0M118.6 669.2h0M117.8 679.9h0M121.1 681.5h0M116.0 687.7h0M120.1 670.1h0M116.1 677.5h0M118.9 689.9h0M116.5 684.1h0M115.4 686.0h0M121.6 685.7h0M118.3 670.2h0M117.3 677.4h0M115.0 687.0h0M110.7 664.2h0M120.8 693.6h0M112.9 698.9h0M112.5 689.0h0M116.8 681.1h0M120.2 677.7h0M115.2 683.1h0M116.0 683.7h0M112.1 683.6h0M112.7 683.7h0M122.0 676.7h0M120.0 689.0h0M122.3 691.6h0M117.9 673.3h0M126.4 659.5h0M122.0 675.9h0M120.8 645.5h0"/>
<path d="M114.3 676.7h0M118.3 683.2h0M114.5 683.8h0M118.3 674.7h0M122.6 668.6h0M117.7 678.0h0M122.0 675.2h0M119.2 674.1h0M122.5 665.1h0M119.2 669.3h0M126.4 668.2h0M121.5 666.1h0M120.1 665.8h0M114.3 675.2h0M114.5 674.9h0M118.1 682.3h0M119.3 667.9h0M121.5 673.3h0M119.4 675.2h0M120.6 680.6h0M118.8 665.7h0M122.1 669.4h0M120.6 665.4h0M117.4 686.5h0M117.8 669.6h0M119.7 669.4h0M121.6 666.7h0M116.4 697.4h0M118.4 686.7h0M123.5 652.6h0M118.4 663.5h0M115.0 698.6h0M123.8 681.2h0M114.7 678.6h0M116.7 659.2h0M117.6 665.8h0M126.7 683.7h0M117.2 685.0h0M119.7 674.9h0M120.5 673.8h0M111.5 675.7h0M118.1 676.7h0M120.3 680.4h0M121.0 666.3h0M122.1 680.2h0M118.8 697.0h0M120.1 679.2h0M117.8 677.1h0M117.4 671.8h0M121.0 671.6h0M122.6 683.2h0M124.3 663.1h0M124.4 668.5h0M120.5 686.8h0M118.5 675.4h0M119.0 684.5h0M122.2 670.2h0M114.9 692.4h0M117.6 691.1h0M119.0 674.4h0M120.2 697.9h0M123.7 689.2h0M112.1 695.0h0M118.7 687.0h0M117.6 650.8h0M118.9 675.2h0M119.7 685.4h0M122.2 671.6h0M115.0 675.4h0M117.7 675.6h0M116.3 680.4h0M115.9 694.9h0M126.6 646.1h0M123.0 681.4h0M119.3 663.4h0M113.6 688.5h0M111.6 684.0h0M117.7 684.3h0M121.2 672.3h0M123.7 677.8h0M119.5 692.0h0M120.0 671.5h0M120.0 672.0h0M120.1 659.5h0M119.8 676.5h0M119.1 670.8h0M117.1 681.3h0M117.3 683.6h0M115.8 668.9h0M120.0 677.0h0M110.7 681.1h0M123.0 664.9h0M115.8 673.7h0M119.5 680.0h0M110.0 679.0h0M117.5 661.1h0M119.2 686.9h0M120.5 677.8h0M119.3 670.2h0M116.3 687.1h0M115.9 675.3h0M118.8 685.4h0M123.3 660.4h0M118.1 677.5h0M115.7 686.5h0M120.3 675.1h0M114.5 676.1h0M116.8 683.5h0M115.4 665.1h0M119.3 685.7h0M114.7 667.2h0M111.8 692.2h0M118.1 694.6h0M116.4 674.1h0M116.0 694.5h0M120.6 683.1h0M121.7 710.8h0M117.3 687.3h0M121.2 663.6h0M118.5 685.8h0M123.1 666.5h0M118.3 645.2h0M108.9 677.7h0M116.4 688.4h0M122.3 682.2h0M117.7 675.5h0M120.6 665.8h0M114.2 686.6h0M115.6 685.1h0M121.7 682.5h0M121.2 677.1h0M115.3 684.9h0M123.8 687.6h0M114.7 689.7h0M117.4 673.0h0M121.8 678.1h0M120.8 673.4h0M120.3 690.1h0M120.1 675.3h0M115.1 671.4h0M117.2 683.8h0M118.5 682.9h0M118.7 675.7h0M119.8 677.2h0M117.1 693.1h0M116.3 676.0h0M113.4 677.9h0M118.4 664.4h0M119.0 677.7h0M115.6 677.4h0"/>
<path d="M112.6 670.7h0M123.0 666.8h0M113.3 663.4h0M118.0 668.6h0M119.4 675.9h0M115.8 665.7h0M118.6 676.4h0M117.9 678.1h0M121.9 687.7h0M114.9 679.8h0M123.4 666.6h0M118.4 661.5h0M121.7 664.3h0M117.6 659.0h0M122.4 670.0h0M120.6 690.5h0M118.7 673.6h0M120.7 693.6h0M117.5 677.2h0M122.8 658.8h0M113.2 679.3h0M121.4 668.9h0M119.1 666.9h0M122.2 669.7h0M119.7 667.7h0M116.3 677.1h0M116.4 687.0h0M125.7 657.2h0M120.5 663.0h0M117.5 679.9h0M115.8 666.2h0M117.1 667.1h0M118.2 675.5h0M119.4 684.2h0M117.6 684.6h0M118.9 691.5h0M115.3 681.5h0M117.3 676.3h0M122.9 662.0h0M116.4 679.2h0M115.3 669.9h0M117.7 658.2h0M115.4 672.7h0M116.6 699.1h0M113.7 685.1h0M119.6 668.6h0M119.2 678.4h0M118.2 677.2h0M117.3 671.3h0M118.6 669.4h0M119.2 660.4h0M117.7 665.2h0M118.5 682.4h0M115.4 694.1h0M114.1 678.6h0M119.0 680.3h0M116.1 680.1h0M121.6 669.0h0M121.9 678.7h0M118.8 675.1h0M117.6 680.9h0M114.8 689.8h0M118.8 666.1h0M117.0 682.8h0M121.6 681.6h0M115.1 682.1h0M120.1 682.3h0M114.9 683.8h0M123.3 669.5h0M120.4 675.7h0M115.5 679.3h0M119.3 676.4h0M123.0 687.0h0M115.9 673.2h0M119.6 672.7h0M114.2 678.2h0M119.8 666.2h0M110.6 685.5h0M114.2 672.4h0M120.2 673.5h0M120.1 674.8h0M121.0 667.7h0M112.3 675.7h0M123.7 672.5h0M117.8 678.8h0M116.2 692.4h0M116.0 676.7h0M119.5 667.1h0M118.7 677.7h0M116.1 676.8h0M113.4 677.8h0M124.9 671.5h0M118.8 685.1h0M115.1 685.4h0M118.3 685.9h0M119.0 681.4h0M122.4 668.8h0M113.4 685.0h0M121.8 654.9h0M119.6 678.6h0M118.2 679.0h0M118.0 673.6h0M115.0 676.9h0M119.6 691.0h0M119.3 686.3h0M118.9 683.5h0M118.6 668.4h0M118.9 674.7h0M115.9 684.0h0M120.8 685.1h0M120.0 674.6h0M115.9 674.0h0M121.0 687.3h0M110.5 676.6h0M115.0 675.6h0M118.4 693.7h0M120.5 675.5h0M120.5 664.9h0M116.0 686.2h0M113.7 693.0h0M120.6 672.2h0M114.1 681.1h0M116.1 677.1h0M112.6 672.8h0M118.7 682.3h0M115.8 685.7h0M117.7 687.3h0M122.4 665.8h0M120.7 660.7h0M115.7 683.5h0M118.3 678.1h0M117.0 666.0h0M122.5 664.6h0M118.0 662.0h0M113.0 684.2h0M119.2 672.6h0M114.2 681.0h0M113.0 682.4h0M119.5 671.4h0M117.1 667.2h0M117.4 664.3h0M117.5 678.9h0M116.0 698.8h0M122.7 678.1h0M124.2 680.3h0M118.1 674.4h0M112.9 673.9h0M122.7 677.5h0M121.8 681.9h0M119.3 662.1h0"/>
<path d="M112.8 680.1h0M119.1 672.2h0M117.6 669.7h0M121.9 668.9h0M117.1 673.7h0M118.0 668.7h0M118.6 684.2h0M123.2 677.7h0M119.3 681.3h0M118.0 667.1h0M119.0 661.4h0M120.5 665.3h0M117.6 664.2h0M118.8 678.1h0M119.3 692.1h0M122.0 676.6h0M121.3 668.7h0M117.8 674.3h0M116.8 673.0h0M120.8 672.2h0M118.2 670.7h0M118.0 700.0h0M122.0 694.7h0M119.8 682.3h0M115.7 665.4h0M119.3 663.2h0M121.2 671.1h0M119.4 698.9h0M116.1 695.3h0M117.3 670.7h0M114.8 692.2h0M119.2 680.2h0M118.8 678.3h0M119.8 679.3h0M123.4 652.6h0M116.2 681.2h0M117.8 678.5h0M114.7 695.4h0M119.0 690.1h0M113.2 669.8h0M115.8 671.7h0M121.2 671.0h0M115.6 683.7h0M115.9 673.0h0M121.3 678.6h0M120.8 664.2h0M121.6 669.5h0M122.0 674.9h0M120.1 689.2h0M123.9 677.9h0M115.3 688.8h0M117.4 682.7h0M123.4 671.9h0M115.6 682.2h0M115.7 681.0h0M120.6 656.6h0M117.8 668.7h0M121.1 668.0h0M117.3 699.5h0M120.1 671.9h0M119.7 652.7h0M119.9 679.5h0M117.9 669.6h0M120.4 665.5h0M121.0 683.6h0M118.6 673.2h0M114.9 685.0h0M112.7 675.3h0M116.7 690.9h0M118.0 689.1h0M116.5 703.1h0M123.1 682.1h0M121.3 672.4h0M122.7 675.9h0M112.8 661.5h0M118.2 672.9h0M114.3 700.5h0M117.4 684.2h0M118.8 679.8h0M114.1 680.2h0M115.9 676.3h0M115.6 666.5h0M115.0 683.5h0M118.2 687.0h0M115.4 686.0h0M115.1 671.9h0M118.1 689.2h0M118.5 677.5h0M115.9 680.7h0M115.6 688.8h0M121.1 668.9h0M115.8 688.4h0M115.9 669.2h0M116.0 670.2h0M117.6 675.6h0M118.3 665.9h0M122.6 676.7h0M115.3 703.2h0M118.6 696.9h0M120.5 679.7h0M113.4 667.5h0M118.8 684.9h0M116.5 685.2h0M112.8 682.7h0M122.8 669.9h0M117.6 681.5h0M119.3 692.6h0M121.0 676.1h0M119.6 670.1h0M120.2 670.8h0M113.3 673.6h0M117.2 668.8h0M118.6 663.3h0M121.4 676.2h0M119.1 664.7h0M113.6 679.0h0M115.2 689.2h0M119.0 663.9h0M117.1 672.9h0M117.2 691.5h0M114.7 693.1h0M120.4 669.9h0M119.1 684.8h0M121.6 672.8h0M120.3 672.9h0M119.4 661.4h0M116.9 677.8h0M119.2 666.5h0M115.0 669.8h0M116.9 667.9h0M123.7 670.7h0M116.0 675.8h0M123.2 666.2h0M120.0 682.0h0M121.1 672.2h0M117.3 683.7h0M116.8 683.7h0M121.2 662.6h0M120.0 683.2h0M123.4 660.5h0M118.2 674.3h0M116.2 674.9h0M118.0 669.6h0M116.3 683.4h0M125.9 675.9h0M114.7 681.5h0M117.6 678.1h0M121.4 675.5h0M119.4 662.6h0M123.1 676.1h0"/>
<path d="M114.6 683.1h0M118.9 665.9h0M119.0 696.9h0M118.3 670.0h0M120.5 672.5h0M113.4 686.3h0M120.2 677.4h0M118.3 671.9h0M124.6 669.7h0M118.9 666.2h0M117.3 687.0h0M112.9 681.6h0M115.5 692.3h0M118.0 673.6h0M123.4 671.5h0M119.4 683.3h0M117.1 689.2h0M122.3 678.0h0M113.3 681.5h0M116.4 683.8h0M118.8 670.9h0M120.9 670.3h0M124.8 669.3h0M116.5 682.1h0M118.4 681.6h0M113.1 672.3h0M115.0 666.1h0M120.9 676.8h0M119.5 676.1h0M118.3 677.1h0M119.2 662.6h0M116.3 686.2h0M116.9 678.2h0M116.1 667.5h0M126.6 659.3h0M115.7 669.1h0M113.9 675.1h0M120.1 691.8h0M117.9 673.7h0M121.0 670.2h0M119.5 667.9h0M117.1 675.9h0M112.2 694.0h0M117.6 668.5h0M121.7 669.1h0M122.0 684.7h0M123.9 671.1h0M118.0 674.9h0M112.5 681.5h0M115.1 680.2h0M123.8 674.8h0M123.0 666.9h0M121.7 678.7h0M122.1 680.2h0M124.3 677.3h0M123.1 693.4h0M113.5 673.0h0M122.0 671.8h0M119.7 680.8h0M121.1 676.8h0M118.9 670.2h0M121.4 667.8h0M125.0 675.5h0M119.2 667.8h0M123.7 671.8h0M119.7 663.0h0M125.3 666.1h0M120.8 675.5h0M119.9 676.1h0M116.3 669.6h0M121.0 667.1h0M118.2 682.1h0M119.6 667.9h0M117.8 688.4h0M113.5 684.0h0M117.1 690.9h0M117.3 696.9h0M118.8 666.4h0M118.2 686.4h0M115.9 688.0h0M115.3 681.0h0M119.3 675.8h0M118.8 669.5h0M118.7 671.3h0M116.3 683.9h0M118.2 673.4h0M119.7 674.9h0M117.5 686.0h0M120.5 677.2h0M112.0 681.0h0M118.9 668.9h0M123.7 659.2h0M122.0 665.3h0M118.5 670.8h0M116.4 684.9h0M116.0 667.9h0M118.5 681.0h0M117.8 679.3h0M117.3 678.2h0M115.8 676.5h0M117.6 682.2h0M119.5 682.2h0M117.5 693.7h0M116.3 689.6h0M114.0 684.7h0M118.9 656.8h0M116.7 679.0h0M120.0 682.1h0M119.2 669.1h0M121.8 669.1h0M118.4 690.7h0M115.0 681.2h0M114.8 686.3h0M115.8 682.2h0M120.1 680.8h0M123.7 668.0h0M113.2 674.2h0M116.0 667.1h0M120.0 677.0h0M119.7 686.8h0M110.6 676.3h0M122.0 685.4h0M120.4 674.1h0M116.4 682.3h0M121.3 672.4h0M118.6 666.8h0M119.5 659.7h0M120.1 676.5h0M113.9 674.8h0M115.0 684.2h0M123.7 683.4h0M121.1 679.0h0M118.3 693.9h0M117.7 674.7h0M122.2 673.9h0M116.3 690.2h0M118.2 683.8h0M118.4 694.2h0M118.3 684.5h0M116.2 676.3h0M120.5 671.0h0M113.0 683.2h0M123.7 677.8h0M120.8 668.3h0M116.2 683.8h0M119.7 679.6h0M118.8 675.8h0M118.4 679.0h0M117.4 679.4h0M116.8 680.6h0"/>
<path d="M119.0 674.9h0M116.7 676.9h0M115.9 673.7h0M116.6 667.2h0M118.0 677.6h0M118.3 680.9h0M115.3 684.6h0M116.5 693.3h0M116.7 666.4h0M121.9 683.5h0M114.6 690.3h0M121.9 660.0h0M121.0 671.0h0M117.3 669.2h0M117.8 666.3h0M116.8 678.2h0M125.4 688.7h0M120.6 670.5h0M124.2 689.7h0M115.6 660.8h0M120.2 668.9h0M118.2 680.2h0M120.8 676.0h0M118.4 672.2h0M121.7 672.8h0M112.2 674.1h0M116.3 658.8h0M117.9 672.7h0M121.8 696.2h0M118.2 660.2h0M120.5 686.6h0M117.0 670.0h0M123.5 657.0h0M118.7 670.4h0M121.5 685.5h0M114.7 693.7h0M120.0 677.7h0M121.0 688.2h0M118.9 672.5h0M119.7 687.3h0M118.9 680.4h0M117.8 681.3h0M117.0 671.3h0M122.2 689.2h0M115.6 688.1h0M116.7 672.9h0M121.6 673.4h0M119.6 667.9h0M117.2 682.7h0M120.7 679.3h0M122.4 667.9h0M118.5 673.7h0M117.6 678.5h0M115.6 673.3h0M117.5 663.2h0M121.5 683.4h0M123.0 690.6h0M116.0 675.9h0M118.0 664.7h0M117.6 676.8h0M122.8 670.8h0M116.7 671.2h0M113.6 686.4h0M121.8 678.1h0M121.4 667.6h0M118.3 681.1h0M118.1 685.5h0M117.0 687.0h0M116.6 664.7h0M121.0 681.1h0M115.4 675.9h0M115.2 674.2h0M121.0 664.5h0M117.3 675.6h0M118.4 674.9h0M110.7 692.2h0M120.2 676.2h0M121.4 680.6h0M121.6 677.1h0M118.4 692.2h0M119.3 657.7h0M118.3 673.5h0M117.3 692.3h0M125.3 661.0h0M118.9 686.6h0M124.6 650.0h0M120.2 679.2h0M123.8 668.8h0M115.3 660.8h0M125.9 667.1h0M124.5 679.7h0M123.3 670.0h0M121.8 676.1h0M125.6 656.4h0M117.1 672.8h0M119.2 683.8h0M114.1 673.9h0M114.9 675.9h0M120.6 667.7h0M125.8 659.4h0M119.6 684.1h0M112.2 693.6h0M123.2 679.6h0M117.2 682.3h0M124.0 678.1h0M117.3 690.4h0M122.7 667.2h0M118.2 674.3h0M114.0 668.0h0M116.4 692.2h0M121.6 680.9h0M125.8 676.5h0M121.3 667.3h0M112.1 679.8h0M117.4 694.8h0M113.4 693.9h0M119.5 664.7h0M114.2 674.3h0M121.8 680.8h0M120.1 685.0h0M119.8 672.4h0M117.2 691.0h0M118.6 692.9h0M115.3 680.7h0M120.4 666.6h0M123.8 668.1h0M121.0 678.0h0M119.2 688.9h0M115.6 666.7h0M121.8 661.6h0M118.7 684.9h0M117.5 678.1h0M115.2 687.7h0M119.9 686.7h0M123.2 675.7h0M117.0 670.5h0M117.2 691.3h0M122.6 678.1h0M113.0 674.9h0M118.5 684.2h0M117.3 685.9h0M123.3 674.1h0M117.4 688.9h0M117.2 674.8h0M117.1 666.5h0M114.8 679.6h0M125.2 675.1h0M112.8 691.6h0M124.2 675.7h0M117.6 671.5h0"/>
<path d="M110.7 679.3h0M121.3 684.8h0M119.1 680.9h0M122.4 672.0h0M122.1 679.8h0M115.4 673.9h0M116.4 688.9h0M120.1 676.2h0M118.6 690.3h0M121.9 669.6h0M119.5 666.6h0M115.1 673.4h0M115.8 662.3h0M117.7 672.8h0M116.3 682.8h0M121.3 692.2h0M118.7 678.8h0M124.5 687.0h0M122.6 679.6h0M117.4 664.5h0M118.4 686.0h0M122.3 669.1h0M118.8 690.7h0M117.0 679.0h0M121.7 674.2h0M123.4 662.9h0M120.8 669.2h0M117.8 672.6h0M122.5 674.6h0M118.0 669.7h0M117.4 671.9h0M119.1 683.5h0M119.3 668.0h0M114.4 669.3h0M121.5 675.6h0M125.8 674.6h0M122.2 674.3h0M117.7 684.2h0M123.4 664.0h0M120.6 675.3h0M116.2 680.3h0M114.6 672.2h0M119.6 685.4h0M116.3 663.4h0M115.2 660.5h0M119.0 676.6h0M117.7 696.1h0M116.9 678.0h0M115.5 678.4h0M124.2 684.2h0M117.9 677.6h0M116.2 668.3h0M118.6 668.6h0M117.1 677.9h0M114.1 665.7h0M114.1 679.9h0M120.5 685.9h0M116.1 680.9h0M114.4 684.5h0M117.1 685.6h0M116.1 677.2h0M116.2 678.3h0M117.3 695.5h0M118.6 664.8h0M117.4 687.6h0M119.4 685.9h0M121.5 679.9h0M115.3 682.5h0M114.9 676.0h0M121.9 664.2h0M113.4 675.1h0M111.5 694.5h0M117.7 686.8h0M117.1 660.5h0M119.4 681.6h0M125.6 670.7h0M120.0 681.4h0M120.3 684.4h0M118.6 674.6h0M120.8 682.5h0M118.6 682.8h0M123.0 669.1h0M115.5 671.4h0M118.2 685.0h0M118.4 686.3h0M119.6 682.4h0M121.9 678.5h0M117.4 657.6h0M117.7 679.2h0M115.0 680.1h0M122.0 661.8h0M123.1 669.3h0M121.2 690.3h0M120.8 683.9h0M116.2 684.2h0M121.7 667.4h0M118.2 682.8h0M114.5 689.6h0M118.6 685.6h0M117.0 688.0h0M122.5 677.8h0M125.8 682.4h0M117.3 683.7h0M117.3 684.2h0M119.2 698.1h0M117.3 676.8h0M115.8 669.4h0M119.4 672.0h0M115.7 692.0h0M120.8 676.4h0M112.8 680.8h0M120.6 660.9h0M117.5 679.8h0M120.0 681.5h0M118.6 679.0h0M120.0 664.3h0M123.1 682.2h0M115.3 684.3h0M116.6 677.3h0M118.6 669.1h0M120.7 673.8h0M123.9 676.2h0M116.6 681.5h0M111.6 679.2h0M118.8 680.5h0M117.3 679.0h0M120.3 666.6h0M120.0 688.0h0M118.9 681.8h0M123.9 685.4h0M118.1 669.8h0M119.2 694.9h0M119.4 674.8h0M119.0 681.4h0M115.2 674.2h0M122.5 672.0h0M111.4 674.4h0M110.4 683.3h0M123.0 688.8h0M121.0 671.9h0M122.1 680.6h0M119.6 667.1h0M119.0 682.4h0M116.6 681.9h0M114.6 701.6h0M113.2 690.4h0M114.8 675.1h0M121.5 671.1h0M118.4 688.4h0M120.3 671.8h0"/>
<path d="M118.3 678.2h0M114.4 673.6h0M118.0 675.6h0M121.5 674.4h0M119.7 670.8h0M115.4 671.8h0M114.6 679.4h0M117.4 667.9h0M121.5 665.7h0M120.1 674.3h0M116.9 674.3h0M115.0 683.7h0M117.3 677.8h0M118.8 665.8h0M119.7 676.9h0M118.0 677.0h0M123.3 671.5h0M120.3 681.6h0M116.4 692.0h0M116.5 682.2h0M126.5 660.5h0M113.1 679.4h0M114.4 690.3h0M118.6 671.8h0M118.2 682.5h0M120.5 662.7h0M120.0 692.6h0M120.8 671.3h0M119.6 681.6h0M116.8 680.6h0M117.5 680.5h0M116.5 681.8h0M119.1 684.1h0M117.0 661.6h0M114.9 686.0h0M116.3 685.4h0M125.8 663.8h0M126.9 658.2h0M121.3 662.8h0M125.3 677.0h0M123.7 675.2h0M119.4 677.5h0M119.6 685.6h0M122.1 683.7h0M121.7 667.5h0M115.5 684.9h0M117.5 666.3h0M116.7 677.5h0M115.3 686.3h0M116.8 677.7h0M119.8 661.9h0M118.7 661.1h0M122.3 661.0h0M122.1 662.0h0M120.8 668.0h0M116.0 674.0h0M116.9 677.8h0M119.0 676.8h0M119.7 673.7h0M117.7 680.4h0M119.0 671.5h0M114.0 671.7h0M115.2 659.6h0M118.9 669.7h0M119.7 663.8h0M114.8 666.8h0M113.5 686.2h0M117.0 670.7h0M117.8 680.9h0M121.9 678.3h0M116.2 687.1h0M112.6 688.6h0M115.0 676.9h0M121.2 663.6h0M112.0 680.3h0M118.4 683.6h0M122.2 677.6h0M121.9 673.7h0M120.2 683.8h0M119.2 678.2h0M119.0 667.9h0M116.3 690.4h0M117.8 671.3h0M115.2 679.1h0M115.6 685.2h0M115.0 674.4h0M124.1 684.1h0M118.1 673.4h0M117.7 673.9h0M122.5 671.9h0M115.1 689.9h0M113.6 686.0h0M120.6 682.1h0M112.4 666.9h0M116.8 663.3h0M119.2 681.4h0M117.3 676.9h0M117.7 682.8h0M119.1 679.8h0M118.0 670.1h0M118.4 667.7h0M117.5 670.2h0M121.0 665.0h0M121.6 670.5h0M115.3 688.1h0M116.6 674.3h0M119.7 680.4h0M119.6 685.7h0M114.2 691.8h0M120.7 682.5h0M119.8 678.8h0M118.2 666.0h0M112.9 678.4h0M115.9 687.1h0M115.4 664.2h0M120.8 665.2h0M116.6 673.3h0M120.8 672.3h0M118.2 664.6h0M120.5 681.3h0M117.0 697.7h0M115.4 693.1h0M123.4 675.7h0M116.5 683.7h0M116.1 675.5h0M117.9 677.1h0M116.2 673.9h0M120.5 664.4h0M114.5 675.8h0M117.3 673.9h0M117.7 669.5h0M116.6 683.0h0M115.8 683.3h0M118.4 673.7h0M113.7 665.6h0M120.2 671.7h0M120.0 661.9h0M119.7 673.1h0M119.3 675.3h0M117.3 678.4h0M121.7 678.2h0M122.9 666.0h0M119.2 667.0h0M121.7 691.2h0M116.8 678.4h0M115.4 677.6h0M116.6 677.5h0M118.6 680.0h0M118.3 677.4h0M114.3 675.6h0"/>
<path d="M113.8 677.0h0M120.5 657.1h0M120.7 679.7h0M116.3 676.0h0M114.2 689.5h0M119.1 669.3h0M118.5 665.0h0M118.3 685.1h0M115.8 674.9h0M117.3 675.0h0M118.3 672.3h0M116.0 672.8h0M118.2 676.4h0M119.2 677.6h0M121.6 667.2h0M119.1 688.6h0M115.5 680.8h0M112.2 688.6h0M118.3 676.5h0M119.5 690.5h0M117.1 670.7h0M118.5 677.9h0M118.3 689.9h0M117.2 688.3h0M121.8 670.9h0M119.4 673.2h0M122.1 663.2h0M117.1 667.4h0M116.6 669.2h0M120.5 683.3h0M120.5 685.9h0M118.2 702.9h0M118.3 684.2h0M114.3 666.0h0M116.3 656.2h0M117.5 685.2h0M119.3 658.9h0M122.1 689.0h0M120.6 674.1h0M117.4 684.9h0M116.5 678.3h0M117.3 672.9h0M118.9 687.8h0M121.0 685.1h0M117.6 665.2h0M112.2 678.9h0M116.3 676.2h0M116.6 696.9h0M118.8 675.3h0M114.5 682.9h0M121.4 686.3h0M118.8 676.9h0M122.1 682.3h0M119.9 681.2h0M118.7 671.2h0M121.5 667.0h0M119.4 666.4h0M116.8 645.4h0M114.9 667.3h0M117.3 664.7h0M118.3 664.9h0M120.3 674.7h0M118.7 673.7h0M120.7 673.9h0M119.6 674.3h0M119.2 680.4h0M114.8 672.9h0M119.9 666.7h0M120.2 677.4h0M124.0 660.7h0M117.2 671.1h0M115.9 670.5h0M119.0 664.4h0M116.7 671.9h0M115.9 668.2h0M124.2 661.0h0M118.9 678.2h0M114.3 668.3h0M118.7 680.9h0M120.5 683.5h0M122.4 667.1h0M122.9 676.0h0M117.2 683.0h0M119.7 697.7h0M117.8 679.4h0M119.8 690.5h0M118.4 673.4h0M111.8 685.8h0M116.4 685.5h0M120.4 676.2h0M117.9 675.2h0M121.4 693.4h0M115.7 673.3h0M120.2 671.0h0M120.4 668.9h0M116.9 677.1h0M121.5 687.0h0M116.4 674.4h0M117.4 680.9h0M114.4 685.6h0M115.6 675.5h0M119.4 667.3h0M119.6 682.4h0M118.7 664.0h0M116.7 679.1h0M122.0 671.4h0M118.0 677.7h0M121.0 670.8h0M122.5 671.3h0M114.1 679.7h0M119.6 673.3h0M120.7 672.4h0M123.3 691.8h0M124.1 667.5h0M116.4 675.6h0M114.2 679.1h0M114.3 667.8h0M114.9 687.2h0M115.3 688.4h0M124.9 652.6h0M117.7 676.0h0M118.0 674.0h0M112.2 686.2h0M121.2 666.8h0M116.9 685.1h0M123.3 674.7h0M119.3 677.0h0M119.4 680.8h0M118.6 675.0h0M118.3 686.1h0M120.1 675.7h0M120.8 666.3h0M117.1 687.8h0M115.7 681.9h0M119.3 684.1h0M111.5 688.4h0M120.8 663.9h0M118.3 705.1h0M114.6 683.9h0M121.0 681.0h0M120.9 682.8h0M121.0 675.7h0M121.5 675.7h0M122.2 682.9h0M116.5 680.2h0M117.2 673.2h0M116.7 671.2h0M123.5 676.7h0M119.2 663.3h0M118.3 667.9h0"/>
<path d="M115.5 672.5h0M117.1 677.4h0M115.3 679.2h0M116.8 678.7h0M121.5 673.0h0M119.6 679.1h0M123.8 685.3h0M117.3 676.1h0M119.4 674.3h0M114.5 667.6h0M115.9 676.6h0M120.3 668.5h0M115.0 679.6h0M118.1 673.4h0M118.3 683.8h0M118.4 690.4h0M119.9 668.2h0M117.9 681.5h0M117.6 678.7h0M117.9 663.7h0M120.9 664.4h0M122.6 676.1h0M119.1 670.4h0M119.2 684.4h0M117.7 676.2h0M118.3 682.3h0M121.2 685.0h0M118.3 669.0h0M118.7 668.3h0M117.0 686.8h0M122.3 684.3h0M116.3 691.6h0M113.6 691.6h0M119.1 680.2h0M127.3 675.4h0M119.4 678.7h0M114.6 692.6h0M119.8 682.7h0M110.3 684.5h0M119.8 667.8h0M115.6 682.2h0M115.9 678.8h0M122.4 672.5h0M115.8 677.9h0M114.4 670.3h0M117.2 675.7h0M125.2 672.7h0M122.6 677.3h0M119.6 673.7h0M119.0 701.1h0M114.9 668.0h0M116.5 669.7h0M118.2 670.3h0M120.2 679.6h0M118.8 689.4h0M118.1 660.1h0M115.4 680.7h0M118.8 659.6h0M117.5 664.7h0M121.3 664.8h0M117.8 684.7h0M119.7 658.8h0M117.2 658.8h0M116.0 687.7h0M116.0 683.3h0M125.1 676.5h0M120.2 672.8h0M124.4 666.3h0M119.2 667.2h0M119.2 673.9h0M114.3 670.2h0M117.9 680.0h0M122.1 676.8h0M120.8 674.3h0M116.8 677.4h0M118.8 675.1h0M122.7 680.6h0M122.7 679.6h0M117.5 665.1h0M116.3 683.5h0M114.7 670.7h0M113.1 676.5h0M123.9 655.9h0M115.7 679.1h0M118.7 685.3h0M115.6 665.3h0M121.2 679.2h0M120.3 668.7h0M118.3 678.3h0M117.3 706.6h0M119.5 664.7h0M123.8 678.4h0M120.5 689.1h0M119.7 686.2h0M119.6 679.4h0M125.1 672.8h0M120.9 686.3h0M122.5 664.5h0M118.7 690.0h0M121.7 686.8h0M119.3 678.2h0M120.7 670.2h0M119.2 690.6h0M119.4 683.9h0M118.8 690.5h0M115.3 651.7h0M122.4 681.1h0M114.4 679.9h0M118.2 671.3h0M114.7 681.1h0M123.8 685.0h0M118.4 675.7h0M118.0 693.5h0M120.6 660.4h0M116.9 685.0h0M116.9 668.1h0M119.7 681.1h0M112.1 664.9h0M113.4 690.3h0M117.8 687.0h0M115.1 673.2h0M118.9 671.8h0M117.3 677.1h0M123.5 667.0h0M116.3 683.0h0M121.1 684.9h0M119.0 693.0h0M114.1 693.3h0M116.4 686.4h0M117.3 668.1h0M120.3 682.9h0M119.1 677.9h0M122.3 661.0h0M117.6 675.6h0M124.6 670.9h0M114.3 690.6h0M118.8 668.4h0M117.8 668.8h0M120.9 661.4h0M116.9 659.8h0M119.8 676.4h0M115.5 689.0h0M115.4 673.0h0M122.0 685.8h0M117.8 674.0h0M115.3 664.2h0M123.7 672.9h0M118.8 672.5h0M121.6 678.5h0M122.6 663.9h0"/>
<path d="M121.8 666.7h0M122.4 679.7h0M118.6 667.3h0M117.3 675.4h0M120.2 682.5h0M124.8 658.6h0M117.1 685.3h0M117.8 678.6h0M119.2 679.1h0M121.0 673.0h0M115.3 668.2h0M119.8 667.0h0M118.4 688.8h0M120.2 660.3h0M120.3 685.0h0M115.5 678.1h0M113.4 668.7h0M120.6 672.0h0M117.2 677.5h0M116.2 670.8h0M117.0 678.1h0M121.0 664.7h0M119.4 682.9h0M122.2 678.9h0M118.8 668.6h0M123.9 673.8h0M116.2 670.5h0M117.9 687.0h0M118.3 678.0h0M122.1 684.0h0M122.7 679.1h0M118.3 676.0h0M116.6 684.4h0M124.7 657.7h0M124.1 663.6h0M120.4 670.0h0M115.6 684.5h0M122.5 667.3h0M115.1 676.0h0M118.7 675.2h0M121.2 666.9h0M122.2 664.0h0M123.0 674.4h0M114.2 668.1h0M117.4 681.4h0M119.5 665.0h0M121.4 665.3h0M118.3 697.0h0M113.7 686.8h0M118.8 657.8h0M119.6 670.1h0M114.2 697.9h0M117.8 681.9h0M123.2 677.1h0M116.4 675.9h0M118.0 678.3h0M117.5 668.3h0M119.3 686.6h0M121.3 684.9h0M120.6 678.9h0M124.6 677.8h0M116.1 674.2h0M119.8 690.9h0M120.7 669.6h0M117.2 663.9h0M115.8 686.8h0M121.0 703.2h0M124.7 661.4h0M111.8 678.4h0M113.6 675.1h0M118.3 675.2h0M120.4 691.3h0M113.8 680.9h0M118.5 661.7h0M117.7 664.6h0M120.2 676.8h0M115.4 674.1h0M118.8 672.8h0M115.4 686.8h0M126.6 668.7h0M118.5 686.0h0M120.4 675.4h0M118.4 677.4h0M120.5 675.9h0M112.2 685.7h0M121.5 688.0h0M118.2 663.9h0M117.3 669.3h0M115.5 674.1h0M118.7 671.9h0M120.9 675.0h0M117.8 673.0h0M122.8 694.0h0M117.3 668.4h0M122.2 683.0h0M121.2 670.5h0M117.2 675.4h0M112.9 685.8h0M120.7 672.7h0M118.7 686.3h0M118.5 675.6h0M121.5 686.6h0M122.3 666.1h0M116.8 688.7h0M115.6 674.8h0M116.7 660.8h0M114.1 680.8h0M118.0 687.1h0M118.3 682.7h0M116.3 690.9h0M118.0 668.0h0M116.5 664.5h0M116.7 670.8h0M112.2 687.8h0M110.9 673.2h0M117.2 668.6h0M119.4 678.1h0M120.6 680.6h0M119.3 674.7h0M114.5 678.3h0M120.4 680.1h0M121.8 681.0h0M121.8 678.3h0M112.1 661.3h0M123.2 675.9h0M115.5 695.2h0M122.6 666.9h0M118.8 680.3h0M121.2 680.8h0M119.6 657.3h0M108.8 688.7h0M117.0 683.5h0M116.9 675.5h0M121.4 678.8h0M117.8 667.6h0M113.7 664.5h0M117.1 679.8h0M119.3 673.4h0M120.2 679.9h0M125.1 679.5h0M118.9 698.4h0M118.5 678.6h0M121.5 670.9h0M117.3 684.4h0M114.8 667.7h0M124.0 674.6h0M117.6 675.9h0M114.0 676.1h0M117.8 667.8h0M124.1 680.5h0"/>
<path d="M118.4 685.1h0M117.5 674.6h0M119.3 668.5h0M114.2 673.6h0M121.1 683.0h0M121.3 673.7h0M119.7 652.2h0M113.6 679.4h0M117.6 677.5h0M119.2 685.5h0M118.4 685.1h0M114.7 663.8h0M124.3 670.4h0M119.9 677.9h0M119.7 673.1h0M117.9 684.7h0M120.6 668.2h0M113.3 685.2h0M115.1 676.7h0M114.7 684.4h0M115.5 671.1h0M121.2 693.5h0M118.6 681.3h0M125.5 663.0h0M121.7 670.4h0M118.9 667.8h0M118.2 662.8h0M119.6 680.5h0M125.8 662.6h0M122.8 671.7h0M113.8 680.2h0M120.7 683.0h0M119.1 653.0h0M116.4 687.2h0M123.0 687.2h0M117.2 662.6h0M118.3 667.7h0M119.8 667.8h0M123.4 662.1h0M112.2 681.2h0M117.8 687.9h0M123.2 680.3h0M118.8 668.4h0M121.5 668.1h0M111.4 690.4h0M120.3 673.7h0M119.6 682.1h0M119.5 675.3h0M119.4 674.8h0M116.4 679.9h0M111.2 691.1h0M114.3 694.9h0M120.8 677.5h0M121.2 679.7h0M116.0 687.2h0M116.3 672.5h0M119.7 673.5h0M119.3 672.7h0M127.3 676.9h0M113.4 673.2h0M119.3 687.0h0M118.6 671.6h0M112.6 693.1h0M122.1 671.0h0M115.1 696.2h0M115.9 665.9h0M120.9 681.3h0M120.4 664.4h0M115.5 673.8h0M122.0 669.5h0M122.0 668.1h0M119.6 684.0h0M116.1 673.3h0M118.2 663.9h0M117.0 696.6h0M120.5 671.3h0M119.5 670.4h0M118.6 677.1h0M119.9 690.1h0M117.7 671.5h0M122.1 675.6h0M123.3 660.2h0M118.2 675.5h0M114.8 684.1h0M113.9 692.2h0M117.5 657.9h0M112.8 685.4h0M120.9 661.1h0M119.0 667.4h0M117.0 681.8h0M120.0 669.6h0M117.6 670.3h0M119.5 678.0h0M110.0 686.6h0M116.7 677.1h0M118.6 661.3h0M119.5 673.4h0M115.0 676.3h0M110.9 690.5h0M115.3 681.5h0M120.5 677.1h0M112.2 685.4h0M118.9 669.1h0M112.1 666.1h0M113.6 686.0h0M112.8 689.4h0M118.8 683.1h0M117.2 675.9h0M118.4 685.7h0M119.9 667.8h0M124.7 665.8h0M120.1 662.4h0M111.4 691.7h0M118.5 678.4h0M112.7 694.1h0M118.5 676.3h0M116.6 681.6h0M121.4 672.0h0M120.0 679.5h0M125.0 683.6h0M118.4 670.5h0M122.3 678.8h0M117.7 685.8h0M123.3 671.8h0M113.5 682.8h0M120.7 683.8h0M116.5 694.5h0M115.8 680.3h0M117.9 695.7h0M118.9 687.1h0M112.9 683.6h0M121.7 684.3h0M114.8 670.2h0M121.2 660.2h0M121.6 677.7h0M119.5 680.0h0M118.2 673.8h0M117.5 677.1h0M119.9 665.5h0M119.3 679.3h0M118.5 674.8h0M119.9 675.5h0M118.6 682.8h0M119.5 674.9h0M116.2 681.8h0M119.4 695.4h0M117.9 690.4h0M118.9 674.8h0M119.3 689.4h0M115.8 681.2h0"/>
<path d="M116.7 677.7h0M117.7 691.5h0M121.5 676.0h0M123.6 666.2h0M117.1 692.0h0M118.5 663.9h0M119.3 675.7h0M115.9 687.5h0M119.1 675.7h0M113.1 674.8h0M113.8 681.4h0M124.3 668.8h0M116.1 678.6h0M119.4 679.7h0M119.6 666.9h0M121.7 660.3h0M118.1 679.3h0M116.2 676.1h0M125.6 669.9h0M116.5 660.9h0M117.0 659.3h0M120.9 677.1h0M116.9 659.1h0M121.0 671.8h0M119.9 668.2h0M120.3 673.1h0M123.1 651.0h0M119.6 676.5h0M118.1 675.9h0M118.0 685.0h0M119.5 672.6h0M122.4 676.4h0M116.2 681.2h0M117.8 674.7h0M123.3 672.4h0M117.1 665.4h0M117.4 673.3h0M116.4 673.2h0M115.1 693.5h0M117.6 673.7h0M116.9 680.2h0M117.1 685.4h0M117.6 684.9h0M125.6 671.2h0M114.8 670.7h0M116.5 666.5h0M124.1 665.6h0M119.4 678.9h0M121.6 685.2h0M114.6 672.7h0M119.0 672.2h0M120.4 672.0h0M121.6 669.1h0M124.1 654.7h0M115.3 669.7h0M124.3 660.7h0M121.7 674.0h0M117.9 676.3h0M116.7 670.8h0M116.9 671.0h0M121.7 689.2h0M121.4 673.8h0M116.7 699.9h0M117.5 679.0h0M113.8 683.3h0M126.6 672.5h0M115.7 673.7h0M114.3 682.3h0M117.6 666.5h0M116.3 686.9h0M121.8 676.3h0M116.6 685.2h0M118.7 670.3h0M119.5 679.4h0M115.2 664.7h0M118.7 670.8h0M117.3 669.4h0M117.5 671.6h0M118.7 684.7h0M114.0 691.9h0M114.8 674.5h0M120.6 669.4h0M117.4 687.1h0M118.8 680.7h0M112.4 673.5h0M123.0 671.1h0M120.9 682.1h0M117.5 695.6h0M114.6 677.6h0M119.8 682.8h0M120.1 669.1h0M117.6 654.7h0M121.6 674.3h0M115.6 682.5h0M114.5 695.9h0M118.4 687.9h0M116.9 693.4h0M121.3 667.0h0M120.8 666.5h0M116.4 680.5h0M119.4 678.9h0M116.3 666.2h0M120.3 667.5h0M114.2 676.6h0M117.1 682.1h0M120.7 657.6h0M117.7 671.6h0M120.6 670.3h0M122.0 676.4h0M118.3 665.7h0M122.0 690.5h0M114.7 677.3h0M117.2 698.9h0M116.5 675.7h0M116.6 673.6h0M120.7 670.4h0M113.8 681.0h0M114.4 675.7h0M122.1 669.6h0M115.7 692.3h0M120.6 659.5h0M116.0 677.8h0M119.8 676.7h0M116.5 672.1h0M121.7 671.5h0M115.9 687.0h0M117.6 690.5h0M119.5 673.3h0M123.9 668.5h0M119.5 683.2h0M115.8 680.4h0M117.9 679.3h0M118.8 674.9h0M120.2 670.1h0M116.7 684.9h0M118.8 665.7h0M125.2 670.9h0M120.9 676.9h0M120.2 661.9h0M116.9 669.4h0M117.4 677.7h0M117.3 682.3h0M118.9 662.8h0M117.1 673.7h0M125.0 680.7h0M118.3 682.5h0M120.1 686.0h0M118.9 683.8h0M116.7 669.5h0M122.4 672.3h0"/>
</g>
<g fill="none" stroke="#000" stroke-opacity="0.36" stroke-width="1.3" stroke-linecap="round">
<path d="M112.9 683.0h0M122.6 679.3h0M121.5 659.5h0M125.1 691.5h0M116.7 674.9h0M127.2 644.4h0M128.5 676.0h0M125.3 652.8h0M117.4 669.8h0M113.1 668.1h0M110.0 673.2h0M133.0 660.4h0M120.2 678.4h0M115.6 680.3h0M121.4 681.9h0M119.7 666.0h0M120.1 665.4h0M109.5 688.9h0M126.0 654.7h0M115.3 665.5h0M114.8 692.4h0M121.2 657.4h0M121.9 676.6h0M113.9 685.7h0M109.4 683.3h0M117.8 670.4h0M106.9 674.6h0M113.3 663.7h0M113.1 684.2h0M114.6 683.7h0M116.0 692.3h0M124.5 684.1h0M125.7 664.0h0M118.9 684.8h0M114.2 693.0h0M117.2 681.1h0M124.2 678.3h0M112.3 690.1h0M116.0 661.2h0M121.9 670.4h0M114.4 684.7h0M122.0 666.2h0M117.7 685.7h0M118.4 689.7h0M111.5 697.7h0M113.4 673.0h0M122.0 669.9h0M124.2 671.4h0M114.0 701.9h0M119.2 677.3h0M127.3 675.9h0M119.6 660.3h0M107.8 682.9h0M115.6 685.4h0M119.7 692.1h0M117.1 704.8h0M116.1 671.8h0M125.2 677.2h0M116.6 669.5h0M118.6 688.7h0M120.8 680.7h0M113.7 688.0h0M120.6 664.2h0M115.8 679.6h0M112.6 679.9h0M112.0 675.2h0M115.0 677.6h0M122.9 662.3h0M120.5 689.9h0M112.5 674.1h0M118.5 678.5h0M126.4 666.0h0M117.0 675.2h0M126.1 643.1h0M116.2 679.5h0M122.7 671.5h0M112.7 694.7h0M112.2 650.7h0M119.9 674.2h0M123.3 692.5h0M121.1 650.2h0M117.7 690.6h0M117.8 675.1h0M116.9 681.6h0M115.7 675.3h0M119.3 692.3h0M115.2 680.1h0M121.7 676.1h0M112.8 680.5h0M120.0 679.1h0M111.6 647.5h0M124.4 681.6h0M121.3 675.3h0M110.2 670.2h0M117.8 690.7h0M121.4 676.1h0M119.0 674.4h0M118.0 693.3h0M115.4 680.3h0M120.4 680.7h0M121.9 683.3h0M120.6 695.3h0M122.3 671.4h0M117.7 682.1h0M116.1 690.1h0M116.5 667.8h0M120.1 693.0h0M121.1 672.2h0M121.9 666.9h0M116.5 672.9h0M117.4 680.5h0M124.4 664.9h0M120.7 677.4h0M116.5 679.6h0M122.0 694.8h0M109.8 705.1h0M110.0 700.7h0M113.5 676.5h0M115.1 695.4h0M127.8 690.8h0M116.7 677.7h0M125.9 682.9h0M123.3 686.7h0M110.2 690.0h0M128.0 668.4h0M122.0 670.6h0M123.2 680.9h0M120.8 693.4h0M123.7 676.0h0M107.9 672.9h0M131.1 690.8h0M121.3 695.5h0M106.0 696.4h0M120.1 672.3h0M107.3 675.3h0M123.5 656.5h0M122.0 691.4h0M113.1 679.2h0M121.4 691.2h0M113.4 691.8h0M123.5 696.6h0M126.0 677.1h0M116.5 658.0h0M113.0 680.3h0M116.2 679.3h0M115.8 659.1h0M116.5 660.0h0M117.0 675.2h0M117.8 687.7h0M114.3 673.2h0M132.4 683.6h0M132.3 675.5h0M116.4 690.6h0M117.9 690.1h0M122.3 678.7h0M116.4 695.4h0M119.5 682.8h0M115.7 692.1h0"/>
<path d="M129.5 655.4h0M125.4 680.0h0M112.1 690.9h0M121.1 675.4h0M122.0 666.8h0M118.3 683.0h0M115.0 674.6h0M111.7 670.4h0M122.6 682.6h0M114.5 682.5h0M120.6 647.4h0M117.7 665.8h0M119.7 677.5h0M111.9 646.5h0M123.0 698.8h0M117.9 673.0h0M114.8 669.4h0M114.6 659.4h0M114.9 682.5h0M115.7 660.1h0M114.4 680.9h0M111.8 691.4h0M113.8 696.7h0M122.3 672.3h0M117.5 695.5h0M122.4 690.9h0M126.4 682.7h0M119.8 667.0h0M121.0 668.0h0M123.5 666.4h0M112.2 680.0h0M119.2 664.0h0M116.8 664.8h0M114.6 669.5h0M122.5 675.4h0M111.3 691.7h0M121.1 678.6h0M126.1 672.5h0M117.7 703.9h0M109.1 687.5h0M116.2 685.5h0M117.3 675.4h0M114.1 672.9h0M123.5 678.7h0M117.0 642.5h0M121.1 653.6h0M123.0 690.9h0M119.4 659.8h0M111.4 686.6h0M130.0 646.1h0M119.8 683.5h0M113.3 684.4h0M117.5 690.0h0M116.8 680.1h0M107.4 708.1h0M117.1 694.4h0M115.2 676.1h0M118.4 670.6h0M120.7 683.4h0M113.3 693.1h0M126.5 659.2h0M123.0 668.7h0M114.0 670.4h0M116.8 683.4h0M109.1 677.7h0M117.0 674.8h0M119.7 678.6h0M112.3 677.0h0M111.0 671.5h0M115.2 673.8h0M121.6 666.7h0M124.1 686.0h0M110.8 661.6h0M126.0 674.0h0M123.1 679.5h0M116.8 689.6h0M119.7 666.7h0M115.5 676.5h0M110.6 689.7h0M108.8 681.6h0M115.2 688.4h0M109.9 696.4h0M114.6 677.3h0M118.9 700.1h0M126.0 659.8h0M123.5 668.4h0M111.5 694.0h0M113.9 688.7h0M121.2 654.7h0M114.4 675.3h0M121.5 692.7h0M123.3 670.0h0M120.4 679.9h0M121.7 672.7h0M118.9 678.5h0M120.4 665.8h0M127.7 667.3h0M116.2 663.3h0M116.9 651.0h0M118.2 680.4h0M115.0 665.3h0M126.5 676.5h0M125.6 687.9h0M113.4 686.2h0M113.8 683.3h0M119.7 684.3h0M117.1 673.9h0M118.9 679.9h0M122.6 663.5h0M110.4 673.9h0M114.0 682.4h0M118.1 671.4h0M117.7 676.9h0M120.7 658.8h0M120.5 670.6h0M119.7 663.8h0M125.8 660.2h0M114.4 680.6h0M119.4 667.5h0M114.3 677.8h0M122.5 676.1h0M115.4 663.0h0M117.3 666.3h0M119.6 703.8h0M121.4 697.0h0M114.6 687.7h0M113.8 692.7h0M132.8 673.5h0M118.8 681.5h0M109.1 697.5h0M119.0 673.4h0M124.0 669.9h0M123.4 681.8h0M123.7 684.4h0M118.3 672.8h0M102.9 681.5h0M124.4 664.0h0M116.9 677.5h0M127.4 688.4h0M120.1 688.3h0M116.3 690.6h0M124.1 678.5h0M120.0 670.0h0M115.5 663.4h0M114.1 682.2h0M108.8 674.5h0M121.2 674.1h0M107.1 690.2h0M121.9 668.2h0M116.5 677.6h0M124.2 671.1h0M119.5 694.5h0M122.3 678.4h0M121.0 689.8h0M116.3 669.3h0M117.6 663.1h0M118.7 677.3h0"/>
<path d="M122.0 677.4h0M124.7 675.7h0M111.1 700.2h0M110.5 690.8h0M116.9 668.1h0M125.1 662.5h0M113.5 686.3h0M124.2 671.1h0M108.9 686.4h0M119.2 690.6h0M116.7 685.3h0M119.5 662.3h0M115.0 673.5h0M118.7 658.3h0M120.3 681.0h0M113.3 680.2h0M119.7 686.7h0M130.8 674.2h0M121.6 688.6h0M120.6 657.3h0M109.6 673.9h0M113.0 672.4h0M109.5 704.7h0M113.7 668.1h0M130.3 669.5h0M116.6 661.6h0M111.4 660.6h0M121.7 672.6h0M118.9 657.7h0M111.6 687.0h0M115.5 697.1h0M122.2 676.7h0M124.7 677.8h0M119.9 675.8h0M121.1 686.5h0M118.2 679.8h0M117.9 668.5h0M122.4 650.2h0M115.0 684.6h0M120.3 670.0h0M124.3 676.8h0M118.6 652.5h0M121.1 698.1h0M118.7 679.3h0M117.6 685.7h0M108.7 679.9h0M120.8 693.0h0M119.3 691.6h0M112.7 682.9h0M115.2 657.6h0M111.0 671.8h0M110.5 685.1h0M116.8 648.7h0M119.5 684.9h0M117.6 663.3h0M115.1 669.6h0M111.8 680.5h0M118.6 694.6h0M111.3 668.6h0M122.2 665.5h0M124.2 665.0h0M111.1 709.3h0M120.0 673.8h0M119.9 667.3h0M115.0 664.9h0M115.6 680.8h0M114.3 670.4h0M130.7 664.5h0M118.0 688.1h0M114.2 673.3h0M124.5 693.8h0M111.9 684.3h0M120.9 678.4h0M109.1 691.7h0M130.3 698.0h0M121.1 682.0h0M112.9 676.8h0M123.3 669.6h0M120.4 661.1h0M122.3 690.7h0M111.4 678.3h0M117.8 691.8h0M110.7 698.4h0M121.9 660.5h0M112.3 687.7h0M114.8 687.8h0M116.9 675.1h0M110.8 688.9h0M118.0 683.5h0M111.2 682.2h0M111.1 672.6h0M123.5 661.9h0M125.5 676.1h0M120.1 699.6h0M121.7 684.0h0M113.6 683.3h0M108.3 683.2h0M118.9 665.8h0M118.0 693.7h0M118.4 680.9h0M117.2 677.8h0M123.9 693.8h0M112.2 692.8h0M112.4 687.4h0M116.6 689.1h0M115.7 676.9h0M116.7 700.7h0M116.3 686.2h0M114.2 680.2h0M115.0 698.6h0M118.4 670.3h0M114.5 703.0h0M121.3 663.9h0M121.0 668.4h0M120.1 680.3h0M122.7 667.2h0M126.8 676.1h0M120.7 679.8h0M117.3 690.4h0M117.8 673.8h0M125.3 666.3h0M118.7 674.0h0M116.5 657.7h0M118.2 673.2h0M115.7 676.5h0M121.6 667.9h0M123.3 660.4h0M106.0 678.9h0M113.7 679.9h0M119.8 668.7h0M119.8 689.9h0M123.4 667.8h0M109.9 664.2h0M114.6 702.4h0M125.8 666.4h0M121.2 672.4h0M123.8 685.9h0M119.5 675.4h0M122.0 661.8h0M120.3 691.0h0M121.2 685.0h0M121.6 670.6h0M128.7 673.1h0M127.5 649.0h0M126.6 670.1h0M119.7 692.6h0M128.7 669.7h0M119.3 666.8h0M118.3 679.7h0M119.5 675.5h0M122.0 703.7h0M116.5 679.4h0M113.0 687.3h0M112.8 668.3h0M106.7 695.7h0M117.3 685.4h0M115.9 674.5h0"/>
<path d="M118.5 674.2h0M124.2 680.5h0M117.8 682.5h0M123.6 671.7h0M119.0 679.7h0M121.0 688.4h0M127.0 672.4h0M118.3 687.8h0M112.2 671.9h0M120.0 679.8h0M116.2 666.3h0M119.1 691.8h0M121.4 676.1h0M114.1 666.0h0M118.3 679.8h0M116.7 672.3h0M124.4 669.1h0M117.1 686.9h0M120.4 703.8h0M129.3 693.2h0M121.2 670.8h0M121.6 672.0h0M115.2 698.3h0M122.4 685.3h0M123.8 687.6h0M118.8 659.2h0M122.9 674.7h0M124.1 670.1h0M117.0 689.2h0M120.4 688.3h0M119.9 672.3h0M122.1 675.8h0M116.2 658.6h0M117.4 680.7h0M127.8 660.4h0M120.4 698.8h0M114.6 684.9h0M116.7 658.6h0M115.8 688.8h0M116.8 682.2h0M110.7 672.7h0M117.5 662.1h0M118.6 705.2h0M119.4 684.5h0M120.7 691.9h0M120.0 671.4h0M115.5 690.5h0M122.9 681.6h0M113.4 681.0h0M117.1 675.9h0M120.5 683.7h0M115.3 669.6h0M125.5 661.3h0M115.5 677.7h0M119.3 704.9h0M123.8 682.8h0M110.9 682.3h0M121.4 671.3h0M124.8 678.6h0M118.7 677.1h0M122.4 692.1h0M124.3 679.3h0M117.1 682.2h0M117.5 689.6h0M121.6 667.4h0M126.6 672.3h0M121.3 680.2h0M112.2 686.3h0M121.1 671.5h0M118.4 672.4h0M124.5 669.0h0M115.8 667.7h0M113.9 678.8h0M124.0 689.6h0M112.8 673.7h0M123.5 663.2h0M118.5 669.2h0M126.2 691.4h0M119.2 686.2h0M127.3 662.2h0M118.1 688.7h0M119.1 687.8h0M120.9 699.4h0M123.7 659.0h0M110.4 677.1h0M109.2 676.7h0M116.7 670.2h0M113.9 684.5h0M119.0 664.9h0M121.1 667.8h0M119.8 687.8h0M120.3 644.7h0M110.8 677.6h0M116.7 680.7h0M112.2 694.4h0M110.3 670.8h0M118.3 678.9h0M120.4 663.1h0M119.8 683.4h0M113.5 671.9h0M114.4 680.8h0M118.6 680.2h0M116.4 694.2h0M120.8 684.4h0M117.0 668.1h0M122.5 684.4h0M108.5 685.9h0M126.7 685.9h0M111.6 681.3h0M123.7 659.8h0M114.7 683.4h0M123.4 655.5h0M118.8 676.6h0M117.6 677.3h0M119.0 669.4h0M121.5 676.9h0M117.7 677.5h0M115.9 670.2h0M112.9 696.6h0M111.5 691.8h0M119.8 661.1h0M115.6 676.2h0M125.6 675.4h0M115.3 689.6h0M112.8 679.2h0M115.7 687.2h0M128.6 659.9h0M113.4 681.7h0M124.0 688.2h0M117.4 709.6h0M111.4 659.1h0M111.5 687.8h0M124.0 685.2h0M113.0 686.3h0M125.2 681.8h0M113.6 685.7h0M121.3 689.1h0M117.7 653.2h0M125.5 689.3h0M124.2 686.4h0M111.9 689.0h0M122.9 691.2h0M118.9 670.7h0M126.4 657.8h0M119.7 692.5h0M116.3 677.6h0M123.1 687.5h0M118.7 706.0h0M116.9 678.9h0M114.6 697.5h0M121.1 690.0h0M115.0 680.4h0M112.5 683.6h0M135.7 669.7h0M111.6 677.0h0M113.4 690.2h0M120.5 684.1h0"/>
<path d="M117.5 692.2h0M130.3 664.8h0M119.6 683.7h0M123.4 692.5h0M124.3 686.1h0M116.9 656.5h0M124.0 664.9h0M119.8 681.2h0M123.3 666.2h0M120.8 676.3h0M128.2 691.2h0M120.2 674.8h0M113.0 672.7h0M122.3 662.0h0M117.1 668.1h0M122.4 663.4h0M119.2 658.0h0M114.8 699.1h0M116.2 681.0h0M124.3 672.3h0M116.2 688.3h0M121.0 665.7h0M118.3 661.4h0M114.2 663.2h0M115.8 668.2h0M115.2 694.0h0M115.4 684.0h0M115.1 655.1h0M127.0 671.4h0M119.0 669.4h0M122.8 676.3h0M115.0 667.0h0M117.7 690.2h0M119.7 665.8h0M121.7 674.5h0M118.8 673.3h0M119.3 697.2h0M119.5 677.4h0M120.9 673.8h0M115.6 683.4h0M123.4 672.4h0M125.8 693.2h0M132.9 655.5h0M118.7 683.9h0M121.9 677.8h0M106.9 683.8h0M120.1 665.3h0M116.0 667.4h0M117.9 672.8h0M138.4 672.7h0M114.0 676.2h0M122.1 668.0h0M118.4 661.3h0M119.8 678.3h0M121.3 661.5h0M109.7 689.8h0M118.2 665.3h0M115.2 674.3h0M121.3 670.3h0M121.9 684.2h0M111.5 686.0h0M113.3 673.2h0M119.8 695.0h0M124.2 686.1h0M116.8 675.5h0M117.9 673.3h0M107.9 684.0h0M119.8 697.1h0M113.4 690.8h0M122.0 675.1h0M110.5 676.4h0M109.2 663.4h0M122.0 698.1h0M124.8 674.4h0M112.0 666.9h0M119.7 669.6h0M121.5 659.5h0M124.2 691.0h0M118.1 687.4h0M116.7 665.9h0M120.1 680.3h0M126.3 667.3h0M114.1 665.7h0M119.1 662.4h0M124.4 674.8h0M116.9 664.9h0M113.5 693.7h0M125.5 680.8h0M123.7 660.0h0M113.6 673.7h0M121.6 690.8h0M113.1 688.4h0M124.8 680.7h0M115.4 670.9h0M113.4 681.8h0M121.5 668.1h0M110.1 694.5h0M117.6 674.7h0M120.6 670.4h0M121.2 671.7h0M121.7 682.5h0M122.6 674.7h0M120.9 675.5h0M115.7 714.1h0M120.7 662.5h0M118.3 668.7h0M120.8 677.3h0M119.7 655.0h0M121.3 661.5h0M122.7 678.6h0M123.0 679.7h0M120.9 670.6h0M116.4 687.6h0M122.7 684.6h0M106.5 677.8h0M113.1 688.4h0M117.5 695.0h0M122.9 674.9h0M122.1 673.2h0M119.2 678.9h0M118.2 670.2h0M110.7 699.1h0M115.2 669.2h0M110.8 690.5h0M118.4 673.3h0M120.6 667.4h0M114.2 676.4h0M119.3 663.4h0M121.1 673.6h0M125.0 659.0h0M128.4 676.8h0M126.0 684.8h0M121.3 673.8h0M124.4 690.9h0M111.3 669.5h0M128.9 671.9h0M115.9 678.5h0M124.5 667.6h0M123.2 685.8h0M111.7 691.6h0M119.6 686.9h0M118.5 688.1h0M120.3 670.9h0M119.4 705.3h0M129.1 666.4h0M122.4 685.6h0M127.4 658.6h0M120.9 672.8h0M115.3 671.3h0M123.5 677.4h0M125.3 682.9h0M117.0 685.7h0M119.2 671.2h0M117.5 680.9h0M127.3 669.3h0M122.8 701.4h0M122.1 688.4h0"/>
<path d="M122.3 664.9h0M125.4 681.4h0M117.7 674.9h0M119.7 691.5h0M120.1 681.3h0M117.3 664.9h0M120.8 706.2h0M117.5 693.3h0M121.0 673.2h0M120.7 687.5h0M117.8 695.4h0M127.1 663.7h0M115.4 679.5h0M120.4 671.7h0M129.3 650.4h0M121.1 669.5h0M107.3 672.9h0M110.7 665.7h0M123.1 671.7h0M115.5 694.0h0M118.2 692.9h0M120.1 690.0h0M119.0 681.3h0M124.9 655.4h0M126.8 669.0h0M130.5 676.3h0M115.5 655.5h0M112.8 689.0h0M117.2 683.6h0M116.3 666.0h0M116.1 697.4h0M122.2 691.6h0M117.1 673.2h0M115.2 684.7h0M117.6 692.1h0M127.6 667.3h0M114.7 673.7h0M114.7 691.1h0M109.5 675.9h0M117.6 649.7h0M114.5 678.7h0M127.3 683.5h0M118.6 666.4h0M112.0 690.7h0M108.6 669.3h0M111.9 689.1h0M118.3 671.7h0M118.3 661.9h0M121.4 694.9h0M128.0 689.2h0M118.1 676.3h0M114.3 671.8h0M113.0 674.5h0M114.5 700.7h0M116.3 695.1h0M122.0 668.6h0M123.0 699.1h0M121.7 698.9h0M116.7 684.2h0M111.9 664.5h0M117.2 674.8h0M119.9 665.4h0M117.6 665.9h0M123.0 671.5h0M114.9 696.6h0M131.6 690.9h0M125.1 666.8h0M112.2 661.7h0M123.5 708.0h0M118.6 695.4h0M119.4 687.3h0M120.8 672.0h0M114.1 687.3h0M114.8 674.0h0M121.4 664.5h0M123.9 685.0h0M118.6 677.7h0M120.4 670.1h0M122.5 658.0h0M122.8 659.7h0M116.4 678.9h0M119.0 675.4h0M120.1 656.8h0M114.4 695.6h0M116.1 670.2h0M113.4 684.2h0M119.5 675.6h0M115.4 678.5h0M121.7 694.9h0M118.3 677.9h0M118.0 682.2h0M116.0 680.2h0M116.1 685.4h0M117.9 659.8h0M131.3 671.7h0M113.8 666.0h0M118.1 676.6h0M118.1 671.0h0M111.6 689.9h0M106.1 684.4h0M113.1 654.1h0M115.9 669.5h0M121.7 669.1h0M117.3 679.6h0M113.8 688.7h0M113.9 672.9h0M130.1 685.7h0M124.0 687.7h0M123.3 669.2h0M116.9 684.1h0M114.6 688.6h0M124.4 676.3h0M112.5 676.8h0M127.4 675.9h0M123.9 678.0h0M112.3 696.5h0M119.5 656.6h0M129.7 663.5h0M125.4 694.8h0M125.7 668.2h0M125.4 683.4h0M113.2 672.9h0M121.6 694.0h0M120.0 671.6h0M115.2 661.4h0M120.0 677.1h0M122.6 683.0h0M113.0 677.7h0M114.7 695.6h0M118.1 663.6h0M127.0 676.9h0M112.3 691.6h0M120.8 670.4h0M107.4 695.7h0M116.4 680.4h0M115.0 669.5h0M116.1 688.6h0M117.5 668.5h0M119.2 671.5h0M119.1 664.3h0M119.0 691.5h0M121.2 663.8h0M114.4 679.8h0M108.1 667.1h0M120.5 670.9h0M118.4 678.0h0M127.0 674.7h0M127.7 664.6h0M119.2 665.9h0M123.8 679.9h0M126.9 677.2h0M118.3 671.5h0M114.8 672.0h0M123.9 661.8h0M122.0 674.3h0M115.7 687.6h0M124.9 654.2h0"/>
<path d="M127.3 658.9h0M120.1 671.3h0M118.5 691.9h0M120.8 656.7h0M119.8 679.9h0M122.6 666.7h0M111.9 697.4h0M115.2 701.2h0M129.2 672.7h0M123.2 670.0h0M125.9 661.5h0M124.1 672.4h0M120.0 679.1h0M112.5 662.1h0M120.2 683.0h0M121.0 677.8h0M115.3 660.6h0M118.0 668.8h0M117.1 672.7h0M119.5 684.0h0M106.0 690.5h0M120.2 649.9h0M121.3 689.1h0M119.3 667.2h0M118.4 674.0h0M113.0 689.6h0M122.7 667.5h0M134.3 654.6h0M124.2 680.6h0M113.6 673.0h0M122.2 696.8h0M117.1 683.8h0M121.9 661.0h0M124.4 691.3h0M122.8 663.3h0M115.9 662.2h0M113.4 696.9h0M120.5 670.5h0M124.8 671.8h0M117.9 670.9h0M121.3 679.7h0M116.2 690.6h0M118.0 671.7h0M127.7 675.8h0M119.7 685.6h0M118.2 681.3h0M115.9 680.3h0M112.4 692.4h0M115.7 690.1h0M116.5 684.8h0M122.3 677.5h0M119.0 711.1h0M123.1 685.9h0M116.3 688.1h0M111.4 679.0h0M119.8 680.4h0M125.5 657.8h0M113.2 680.3h0M116.1 665.4h0M123.9 676.5h0M118.8 664.8h0M126.9 675.4h0M118.6 695.4h0M116.8 689.8h0M116.1 681.3h0M121.5 684.8h0M119.9 659.6h0M117.0 683.0h0M117.7 697.6h0M120.3 678.8h0M117.7 674.5h0M120.0 664.3h0M129.4 673.3h0M118.5 682.7h0M113.3 677.0h0M113.3 696.4h0M109.1 686.0h0M122.0 687.8h0M117.1 684.3h0M124.7 686.1h0M118.0 686.8h0M119.7 657.6h0M119.8 668.6h0M115.8 671.2h0M113.9 672.7h0M110.1 670.5h0M123.6 666.3h0M116.5 664.0h0M107.9 685.3h0M117.8 678.2h0M120.4 670.9h0M110.0 699.6h0M118.9 684.0h0M107.6 698.5h0M126.8 668.8h0M119.0 672.3h0M110.3 686.6h0M114.2 678.3h0M123.6 681.2h0M106.8 705.2h0M118.3 669.3h0M118.4 669.9h0M120.0 681.0h0M114.7 695.8h0M109.3 690.7h0M121.9 682.7h0M122.4 665.5h0M117.7 672.8h0M121.4 679.1h0M122.6 669.5h0M119.6 684.4h0M117.9 680.0h0M114.7 686.2h0M116.5 673.4h0M108.1 683.2h0M119.1 666.1h0M129.0 683.2h0M122.6 676.7h0M121.7 678.6h0M118.5 681.3h0M121.3 698.0h0M121.6 657.9h0M112.5 674.4h0M114.4 692.4h0M112.2 669.8h0M124.3 665.2h0M118.3 694.2h0M117.8 647.8h0M121.4 671.7h0M110.1 684.3h0M126.3 667.0h0M122.3 670.8h0M117.2 668.2h0M125.1 692.5h0M124.0 673.3h0M129.0 672.6h0M115.4 684.5h0M124.0 664.4h0M124.4 690.9h0M122.5 659.7h0M120.3 685.8h0M120.8 693.4h0M114.8 696.2h0M125.7 677.2h0M115.7 675.1h0M128.5 669.7h0M118.5 674.9h0M118.2 672.1h0M121.1 675.0h0M117.7 679.9h0M121.5 669.6h0M117.5 677.6h0M129.3 670.2h0M120.4 677.2h0M122.4 676.9h0M110.6 677.3h0M116.3 677.6h0"/>
</g>
<g fill="none" stroke="#000" stroke-opacity="0.26" stroke-width="1.6" stroke-linecap="round">
<path d="M127.7 674.0h0M121.1 696.3h0M116.1 673.4h0M129.3 682.4h0M134.8 679.7h0M127.7 667.4h0M109.9 679.4h0M91.8 689.6h0M130.0 676.3h0M117.5 694.3h0M119.3 692.3h0M142.9 683.3h0M129.7 682.7h0M122.4 681.0h0M120.5 693.6h0M102.8 677.0h0M126.7 663.1h0M118.7 667.1h0M124.4 689.4h0M135.1 681.6h0M112.2 682.8h0M125.8 697.4h0M97.2 687.9h0M100.6 692.4h0M124.5 683.9h0M129.1 681.2h0M113.0 684.1h0M132.4 672.8h0M120.1 659.0h0M132.0 667.1h0M112.0 672.3h0M110.7 675.5h0M133.2 686.4h0M134.8 696.5h0M110.4 686.7h0M135.5 708.6h0M104.9 659.1h0M124.7 671.2h0M109.3 685.4h0M111.5 644.9h0M119.5 679.3h0M126.5 690.1h0M121.7 673.3h0M112.8 654.0h0M115.2 693.4h0M126.6 706.8h0M118.2 650.7h0M128.4 691.1h0M107.5 655.6h0M121.3 687.7h0M108.0 674.7h0M111.6 661.2h0M105.9 682.4h0M115.8 668.0h0M92.3 709.6h0M109.8 677.3h0M107.7 685.6h0M103.8 682.1h0M117.7 691.5h0M108.2 669.9h0M117.2 709.4h0M104.2 685.0h0M112.8 683.4h0M126.5 677.8h0M122.4 680.8h0M113.5 675.2h0M102.2 675.6h0M111.5 675.1h0M127.3 681.2h0M124.5 692.7h0M94.6 689.1h0M119.3 675.7h0M105.9 688.4h0M131.6 690.0h0M118.7 686.9h0M129.3 702.5h0M132.5 676.4h0M120.6 679.4h0M121.9 669.1h0M127.7 664.9h0M111.1 684.3h0M113.5 674.7h0M97.8 693.8h0M119.5 675.1h0M124.4 679.2h0M112.2 708.9h0M114.8 692.8h0M138.7 663.5h0M120.5 664.5h0M130.6 669.6h0M108.0 699.4h0M129.2 661.5h0M131.9 677.3h0M148.0 696.7h0M113.7 674.2h0M110.3 681.0h0M120.0 688.0h0M120.4 654.6h0M111.0 700.2h0M131.6 671.9h0M118.1 674.8h0M119.7 651.6h0M128.9 665.0h0M121.0 638.5h0M122.0 696.7h0M96.0 705.1h0M124.5 664.9h0M102.9 698.2h0M122.2 685.4h0M116.7 665.6h0M128.6 660.6h0M129.0 649.7h0M109.8 657.2h0M133.3 647.5h0M107.5 689.6h0M121.9 709.6h0M138.9 682.1h0M126.8 647.8h0M110.2 674.1h0M117.6 656.6h0M109.7 666.3h0M130.7 681.0h0M116.0 673.6h0M122.6 665.8h0M116.7 651.6h0M126.5 690.0h0M123.3 683.4h0M123.3 707.0h0M121.6 656.5h0M108.5 690.2h0M130.7 686.2h0M128.3 677.9h0M103.8 669.7h0M100.4 675.3h0M105.1 681.6h0M117.7 647.8h0M127.2 686.8h0M104.8 682.3h0M127.0 670.9h0M128.5 677.8h0M130.8 677.3h0M117.7 685.1h0M127.7 678.9h0M114.7 665.9h0M115.5 669.0h0M121.6 679.0h0M118.5 677.0h0M121.2 700.3h0M132.1 665.3h0M123.8 670.8h0M118.3 673.3h0M112.7 657.5h0M93.3 685.5h0M131.9 660.3h0M124.7 669.7h0M122.3 663.8h0M116.9 675.6h0M94.1 685.6h0M117.8 639.2h0M126.2 674.7h0M121.5 681.8h0M114.9 661.3h0M114.5 671.2h0M142.8 699.7h0M114.1 671.5h0M122.7 684.6h0M111.9 663.0h0M139.8 688.3h0M102.7 653.2h0M110.4 681.9h0M125.0 670.2h0M102.0 683.8h0M125.6 675.2h0M113.9 686.6h0M118.6 659.5h0M120.2 656.5h0M129.5 681.6h0M108.5 682.2h0M132.5 640.7h0M117.7 702.3h0M102.6 677.6h0M103.9 678.9h0M93.4 657.2h0M113.4 680.0h0M123.2 682.3h0M131.5 684.7h0M127.1 659.7h0M117.5 726.2h0M143.5 684.1h0M127.1 690.2h0M114.8 707.9h0M115.1 676.2h0M142.6 639.2h0M123.1 649.0h0M112.1 676.7h0M115.4 680.1h0M110.9 676.8h0M106.3 673.4h0M104.2 690.1h0M105.2 690.4h0M114.7 672.9h0M132.0 675.5h0M98.6 688.9h0M87.7 687.6h0M114.8 655.7h0M120.0 671.6h0M141.0 665.0h0M140.3 693.6h0M112.5 665.3h0M133.5 671.3h0M120.9 672.2h0M106.0 673.6h0M108.7 654.9h0M116.0 705.3h0M136.8 671.8h0M120.7 684.3h0M134.0 678.4h0M114.0 671.6h0M131.6 714.8h0M112.3 645.9h0M128.0 673.5h0M120.7 695.7h0M119.9 655.6h0M97.7 680.5h0M106.5 683.9h0M105.2 674.1h0M103.1 674.4h0M114.3 687.1h0M133.9 670.5h0M109.7 709.5h0M123.2 685.4h0M125.9 698.1h0M130.3 684.9h0M127.6 661.3h0M112.5 676.4h0M120.2 676.7h0M122.6 676.3h0M114.5 652.1h0M128.4 683.9h0M109.6 686.6h0M123.5 676.9h0M99.0 662.0h0M112.6 703.6h0M109.8 673.2h0M107.0 671.5h0M123.0 643.1h0M88.1 693.9h0M119.6 667.0h0M129.9 689.7h0M96.2 679.0h0M131.4 663.4h0M115.8 692.5h0M116.3 658.4h0M111.7 657.3h0M125.3 648.1h0M130.2 648.2h0M119.7 653.4h0M115.7 693.6h0M131.5 694.6h0M118.2 678.6h0"/>
</g>
<path d="M119.6 655.5C127.5 664 128 686 116.6 697.5C109.5 689 109 668 119.6 655.5Z" fill="#000"/>
</g>
<path d="M61 692 Q90 682.5 114.5 674.2" fill="none" stroke="#d8282c" stroke-width="0.8"/>
<path d="M58.3 705.3 Q85 695.5 107.5 687.4" fill="none" stroke="#d8282c" stroke-width="0.8"/>
<path d="M65 716.5 Q93 700 111 687" fill="none" stroke="#d8282c" stroke-width="0.8"/>
<circle cx="114.7" cy="674" r="1.2" fill="#16cc30"/>
<circle cx="107.7" cy="687.2" r="1.2" fill="#16cc30"/>
<circle cx="111.2" cy="686.7" r="1.2" fill="#16cc30"/>
<rect x="39.30" y="591.90" width="157.00" height="141.30" fill="none" stroke="#000" stroke-width="1.5"/>
<line x1="45.5" y1="733.2" x2="45.5" y2="737.0" stroke="#000" stroke-width="1.2" />
<text transform="translate(52 748.4)" font-size="10" text-anchor="middle" fill="#000">1e-02</text>
<line x1="84.5" y1="733.2" x2="84.5" y2="737.0" stroke="#000" stroke-width="1.2" />
<text transform="translate(85.9 748.4)" font-size="10" text-anchor="middle" fill="#000">1e-01</text>
<line x1="124.4" y1="733.2" x2="124.4" y2="737.0" stroke="#000" stroke-width="1.2" />
<text transform="translate(124.2 748.4)" font-size="10" text-anchor="middle" fill="#000">1</text>
<line x1="163.5" y1="733.2" x2="163.5" y2="737.0" stroke="#000" stroke-width="1.2" />
<text transform="translate(162.8 748.4)" font-size="10" text-anchor="middle" fill="#000">1e01</text>
<line x1="35.5" y1="622.3" x2="39.3" y2="622.3" stroke="#000" stroke-width="1.2" />
<text transform="translate(33.1 622.8) rotate(-90)" font-size="10" text-anchor="middle" textLength="20" lengthAdjust="spacingAndGlyphs" fill="#000">1e01</text>
<line x1="35.5" y1="657.6" x2="39.3" y2="657.6" stroke="#000" stroke-width="1.2" />
<text transform="translate(33.1 657.6) rotate(-90)" font-size="10" text-anchor="middle" fill="#000">1</text>
<line x1="35.5" y1="692.8" x2="39.3" y2="692.8" stroke="#000" stroke-width="1.2" />
<text transform="translate(33.1 695.1) rotate(-90)" font-size="10" text-anchor="middle" textLength="27.5" lengthAdjust="spacingAndGlyphs" fill="#000">1e-01</text>
<line x1="35.5" y1="728.1" x2="39.3" y2="728.1" stroke="#000" stroke-width="1.2" />
<text transform="translate(33.1 730.2) rotate(-90)" font-size="10" text-anchor="middle" textLength="27" lengthAdjust="spacingAndGlyphs" fill="#000">1e-02</text>
<text transform="translate(18 659.7) rotate(-90)" font-size="12.2" text-anchor="middle" textLength="77.5" lengthAdjust="spacingAndGlyphs" fill="#000">TSS Region Change</text>
<text transform="translate(124.8 761.8)" font-size="12.2" text-anchor="middle" textLength="75.5" lengthAdjust="spacingAndGlyphs" fill="#000">Gene Body Change</text>
<text transform="translate(30.5 582.6)" font-size="10.5" text-anchor="middle" fill="#000">i</text>
<text transform="translate(118 570.5)" font-size="11" text-anchor="middle" textLength="55" lengthAdjust="spacingAndGlyphs" fill="#000">Ser 5 pol II</text>
<text transform="translate(118 583.2)" font-size="11" text-anchor="middle" textLength="44.5" lengthAdjust="spacingAndGlyphs" fill="#000">D7 PI &gt;4</text>
<text transform="translate(41.3 695.6)" font-size="9.2" text-anchor="start" textLength="18.6" lengthAdjust="spacingAndGlyphs" fill="#000">Rps7</text>
<text transform="translate(42 707.5)" font-size="9.2" text-anchor="start" textLength="15.9" lengthAdjust="spacingAndGlyphs" fill="#000">Myc</text>
<text transform="translate(41 719.6)" font-size="9.2" text-anchor="start" textLength="23.7" lengthAdjust="spacingAndGlyphs" fill="#000">Rps19</text>
<g clip-path="url(#cii)">
<line x1="328.7" y1="591.9" x2="328.7" y2="733.2" stroke="#bcbcbc" stroke-width="1.3" />
<line x1="246.3" y1="657.6" x2="403.6" y2="657.6" stroke="#cbcbcb" stroke-width="1.2" />
<g fill="none" stroke="#000" stroke-opacity="0.6" stroke-width="1.3" stroke-linecap="round">
<path d="M320.7 678.2h0M318.8 682.7h0M318.5 671.9h0M319.9 666.7h0M322.5 658.9h0M324.9 686.6h0M316.5 666.7h0M321.5 678.0h0M326.6 678.3h0M316.4 689.8h0M320.1 687.1h0M314.4 681.3h0M308.5 665.6h0M323.2 689.7h0M317.6 683.6h0M316.6 693.5h0M319.8 682.8h0M316.1 682.9h0M320.4 651.9h0M321.0 679.5h0M326.7 671.9h0M305.0 656.1h0M314.2 680.0h0M315.8 668.3h0M312.4 686.4h0M323.0 685.9h0M315.0 668.3h0M311.5 674.3h0M310.3 669.4h0M322.2 657.6h0M312.8 655.7h0M316.8 676.7h0M324.6 670.1h0M326.6 671.2h0M319.9 675.4h0M320.9 681.3h0M314.8 685.4h0M309.9 665.6h0M314.5 677.2h0M322.4 655.3h0M306.5 669.8h0M322.5 678.9h0M327.8 676.2h0M315.4 661.9h0M312.5 686.7h0M316.8 659.8h0M325.1 673.1h0M313.4 684.6h0M316.7 660.6h0M317.4 656.2h0M329.6 663.4h0M310.3 668.9h0M313.0 681.1h0M326.6 661.1h0M316.8 679.0h0M305.3 694.5h0M313.9 675.8h0M321.3 697.3h0M335.1 664.0h0M314.6 668.7h0M312.5 670.2h0M325.9 651.4h0M319.0 669.4h0M326.5 665.5h0M318.4 663.3h0M321.4 665.0h0M329.9 679.9h0M325.5 657.7h0M317.4 661.3h0M324.7 670.6h0M319.6 677.1h0M312.9 676.2h0M316.4 668.3h0M316.0 674.1h0M321.9 677.6h0M318.1 668.8h0M317.5 681.5h0M319.4 667.6h0M317.4 665.7h0M307.0 667.1h0M319.4 673.7h0M325.0 674.4h0M319.7 673.1h0M323.2 678.9h0M329.0 672.6h0M298.1 689.9h0M312.6 687.8h0M326.4 653.2h0M327.3 688.7h0M321.0 681.7h0M315.2 676.9h0M317.6 692.9h0M314.4 669.3h0M318.8 666.9h0M315.4 656.6h0M319.3 676.3h0M301.9 679.1h0M324.5 685.9h0M309.3 698.6h0M306.4 670.4h0M331.6 639.3h0M314.2 670.1h0M317.7 666.9h0M321.1 681.4h0M325.9 670.1h0M323.0 653.8h0M321.7 664.9h0M317.7 658.5h0M330.8 650.7h0M311.3 670.5h0M313.1 689.9h0M330.5 658.9h0M319.9 669.6h0M326.5 676.2h0M323.2 672.6h0M322.7 675.6h0M327.8 664.8h0M318.6 694.0h0M327.6 659.9h0M319.3 668.9h0M309.0 683.0h0M318.2 678.6h0M320.9 671.2h0M319.6 678.5h0M315.3 675.0h0M315.4 662.5h0M329.9 648.1h0M315.4 680.7h0M321.1 681.0h0M321.3 667.1h0M325.7 659.3h0M326.3 658.2h0M319.5 668.9h0M321.2 667.5h0M318.6 679.6h0M316.4 675.7h0M329.6 672.1h0M321.2 678.6h0M323.6 656.8h0M306.5 664.5h0M322.2 677.5h0M322.3 676.5h0M318.2 669.0h0M327.1 687.2h0M323.1 672.8h0M310.5 674.8h0M333.1 668.9h0M315.0 669.9h0M324.3 676.9h0M317.8 671.8h0"/>
<path d="M316.8 684.5h0M333.2 678.3h0M325.9 658.2h0M336.6 663.5h0M318.6 673.4h0M316.4 677.6h0M324.4 670.0h0M334.2 675.3h0M327.5 676.1h0M322.6 679.3h0M315.9 679.8h0M325.6 679.2h0M326.0 676.3h0M326.5 664.4h0M324.9 668.8h0M320.0 662.9h0M317.6 664.9h0M326.2 671.5h0M311.1 667.7h0M317.3 673.4h0M322.2 669.6h0M319.4 671.1h0M319.0 674.8h0M318.9 668.3h0M309.6 681.6h0M319.2 690.9h0M319.1 660.8h0M312.9 667.9h0M322.6 679.9h0M305.4 673.3h0M323.8 666.9h0M320.2 684.3h0M335.1 667.0h0M318.2 670.3h0M321.7 690.2h0M320.6 669.6h0M320.0 691.4h0M322.3 671.2h0M311.6 681.4h0M314.2 686.5h0M313.3 692.1h0M319.0 661.2h0M332.9 678.7h0M309.6 683.5h0M311.0 686.2h0M313.8 667.1h0M321.9 658.2h0M320.2 680.5h0M313.7 663.9h0M330.1 681.9h0M323.6 668.6h0M305.3 680.0h0M321.0 680.2h0M310.6 676.7h0M316.4 686.8h0M316.4 679.4h0M318.0 690.3h0M322.7 671.8h0M318.5 684.5h0M313.9 673.0h0M317.6 662.0h0M322.9 653.6h0M318.9 671.4h0M325.0 667.9h0M322.6 671.1h0M324.8 678.5h0M310.0 671.0h0M326.4 663.2h0M323.8 665.3h0M309.8 669.9h0M316.7 684.9h0M312.3 684.7h0M320.2 673.3h0M318.6 667.6h0M320.0 659.7h0M318.9 662.5h0M311.8 674.2h0M313.8 670.4h0M328.7 663.6h0M320.4 677.6h0M318.1 680.0h0M319.6 665.9h0M316.1 673.9h0M313.6 693.0h0M325.8 659.3h0M319.4 671.1h0M314.8 665.4h0M322.8 678.4h0M314.8 680.9h0M311.2 665.0h0M313.0 677.0h0M333.2 682.4h0M310.4 668.9h0M319.8 666.9h0M322.9 677.0h0M314.1 679.5h0M327.9 684.8h0M303.8 685.0h0M320.5 671.3h0M320.9 662.1h0M325.2 662.7h0M323.1 674.5h0M316.5 663.8h0M320.2 660.1h0M325.8 664.0h0M316.0 683.5h0M324.7 677.7h0M323.6 673.7h0M323.7 678.1h0M318.4 676.9h0M322.7 664.2h0M328.0 662.9h0M313.1 650.5h0M318.7 657.5h0M326.5 660.3h0M320.0 691.7h0M313.3 671.0h0M313.1 673.0h0M314.6 685.7h0M310.3 681.1h0M316.4 684.7h0M315.1 684.0h0M306.5 668.8h0M330.7 669.3h0M315.9 673.0h0M313.9 682.4h0M318.6 681.6h0M319.4 696.4h0M312.4 671.4h0M327.2 671.3h0M325.0 657.7h0M319.1 656.1h0M323.3 670.3h0M319.9 682.6h0M322.1 686.4h0M320.9 667.6h0M332.1 655.5h0M326.7 674.8h0M308.1 664.4h0M316.4 670.6h0M316.3 679.0h0M312.4 687.4h0M319.1 661.7h0M321.3 665.8h0M316.3 673.5h0M317.6 672.7h0M316.6 675.2h0M327.8 669.1h0M321.9 668.2h0M319.7 661.2h0"/>
<path d="M321.2 683.1h0M310.5 675.5h0M328.0 669.4h0M322.6 684.5h0M320.5 682.9h0M320.9 664.7h0M327.3 666.9h0M321.8 685.2h0M322.1 685.9h0M323.1 675.1h0M321.6 670.4h0M307.9 680.2h0M315.8 668.9h0M314.9 673.2h0M314.4 696.0h0M317.1 659.9h0M308.4 675.5h0M317.6 677.2h0M324.8 680.9h0M323.6 676.1h0M319.7 692.4h0M318.8 675.9h0M315.7 680.4h0M308.7 682.8h0M310.8 691.6h0M315.7 682.1h0M316.6 672.8h0M319.7 668.1h0M310.7 673.0h0M317.8 658.7h0M318.8 698.8h0M315.4 676.7h0M314.1 679.8h0M320.5 684.7h0M314.3 679.1h0M313.1 669.4h0M329.8 675.8h0M320.4 683.9h0M317.6 682.7h0M326.5 672.4h0M315.8 682.0h0M310.6 695.6h0M322.1 671.6h0M308.1 691.3h0M316.9 665.0h0M324.3 684.5h0M317.3 681.9h0M318.1 656.4h0M330.3 655.5h0M323.6 681.8h0M312.7 687.8h0M309.6 650.0h0M317.9 686.0h0M325.1 654.5h0M319.5 682.4h0M328.1 680.6h0M323.3 655.8h0M328.3 662.1h0M318.2 665.1h0M315.9 677.9h0M312.2 673.2h0M319.9 690.1h0M313.0 670.4h0M307.8 668.3h0M323.2 686.0h0M320.0 680.0h0M319.6 679.6h0M318.0 684.8h0M315.7 658.8h0M330.9 676.2h0M308.4 679.9h0M313.6 672.9h0M318.2 660.0h0M316.9 674.5h0M320.6 680.4h0M319.2 658.5h0M320.9 667.9h0M306.2 674.5h0M321.2 668.2h0M318.1 682.7h0M319.8 665.0h0M304.1 685.3h0M319.9 668.6h0M318.6 689.8h0M312.7 671.4h0M317.3 674.2h0M321.8 666.4h0M316.0 684.8h0M318.1 682.9h0M318.4 673.6h0M319.6 664.5h0M314.1 662.1h0M319.8 676.8h0M317.4 662.9h0M313.5 693.9h0M322.1 671.2h0M316.4 666.3h0M321.2 664.2h0M314.7 665.0h0M316.1 676.3h0M331.6 659.4h0M320.3 672.2h0M327.5 674.0h0M312.6 659.8h0M316.7 679.1h0M320.7 664.6h0M305.6 672.5h0M321.8 682.1h0M314.3 670.8h0M318.6 665.1h0M313.9 672.8h0M313.7 677.5h0M318.7 670.9h0M327.8 665.0h0M321.9 677.1h0M319.1 669.6h0M317.9 664.0h0M320.5 663.5h0M317.9 671.7h0M312.4 668.5h0M315.6 670.9h0M315.7 666.7h0M320.2 697.7h0M317.1 671.6h0M323.8 673.2h0M312.0 686.9h0M312.3 662.0h0M307.3 694.3h0M321.4 680.7h0M321.4 676.5h0M328.3 672.8h0M319.2 668.5h0M323.2 663.7h0M316.4 672.6h0M326.1 673.5h0M325.5 684.4h0M325.3 673.8h0M325.4 686.6h0M321.2 658.7h0M311.7 672.6h0M308.9 680.2h0M316.0 666.0h0M317.2 680.6h0M320.7 671.6h0M321.5 664.7h0M316.4 669.5h0M328.4 660.2h0M319.2 658.2h0M320.7 670.3h0M329.8 675.2h0"/>
<path d="M322.2 678.2h0M316.7 670.4h0M326.4 660.3h0M310.9 668.2h0M325.1 644.8h0M308.8 669.8h0M321.4 672.8h0M313.3 685.5h0M315.4 680.7h0M325.4 659.8h0M321.5 665.3h0M306.9 696.7h0M319.2 656.7h0M318.4 674.7h0M328.5 671.5h0M320.1 684.3h0M312.7 681.9h0M320.3 661.6h0M323.6 674.4h0M327.1 672.9h0M312.2 676.5h0M318.2 663.8h0M320.0 651.2h0M316.2 686.4h0M324.9 662.7h0M311.5 677.5h0M316.3 671.8h0M321.1 657.3h0M309.0 671.7h0M320.0 675.9h0M328.7 675.3h0M321.4 672.8h0M308.0 693.6h0M329.1 664.8h0M323.9 672.3h0M311.8 686.0h0M321.1 679.9h0M313.2 686.7h0M316.8 667.8h0M317.6 670.1h0M307.0 679.2h0M321.8 676.3h0M322.8 683.4h0M324.6 668.0h0M314.0 668.1h0M316.8 671.4h0M314.2 671.0h0M322.5 683.0h0M312.8 677.5h0M331.5 676.9h0M321.5 673.1h0M326.2 674.7h0M315.8 675.5h0M324.8 679.0h0M330.0 648.0h0M320.6 672.6h0M322.0 686.2h0M321.5 681.8h0M323.5 661.3h0M320.7 663.6h0M324.0 669.2h0M320.0 677.5h0M326.5 667.8h0M317.9 673.8h0M319.1 676.9h0M313.1 658.1h0M319.1 660.1h0M320.2 678.6h0M327.2 671.8h0M320.7 681.8h0M322.5 664.5h0M308.3 673.1h0M317.0 667.7h0M310.8 672.6h0M324.9 690.1h0M314.2 668.0h0M325.4 659.8h0M320.0 683.8h0M317.9 660.6h0M312.6 669.1h0M320.3 681.5h0M318.8 691.6h0M315.7 673.4h0M316.0 672.0h0M329.9 656.3h0M320.9 660.2h0M321.6 669.9h0M324.9 658.8h0M320.6 681.1h0M319.0 677.8h0M321.5 670.3h0M318.1 665.2h0M307.6 677.9h0M327.2 666.8h0M312.3 685.6h0M310.5 690.7h0M321.8 660.2h0M316.5 677.0h0M302.2 701.7h0M327.8 680.8h0M325.8 660.8h0M325.5 683.7h0M330.6 663.4h0M326.3 674.2h0M310.8 677.1h0M322.2 674.6h0M313.0 683.6h0M327.4 675.2h0M313.2 676.0h0M312.4 676.0h0M335.5 671.2h0M325.7 663.5h0M326.8 674.3h0M313.1 688.1h0M318.8 690.2h0M323.2 687.6h0M311.1 671.5h0M319.2 677.8h0M321.7 672.9h0M326.9 659.0h0M317.1 685.3h0M318.0 672.0h0M314.2 652.6h0M322.5 678.5h0M325.0 663.5h0M309.1 679.8h0M319.6 670.7h0M324.6 675.6h0M312.4 680.5h0M322.1 659.4h0M313.6 654.7h0M324.3 666.6h0M320.5 684.3h0M315.2 677.9h0M323.6 664.8h0M314.9 679.0h0M320.5 661.2h0M306.1 688.2h0M313.3 676.2h0M320.0 666.8h0M321.2 671.9h0M317.0 666.4h0M328.7 676.9h0M311.1 683.7h0M323.6 681.7h0M324.3 658.6h0M309.3 689.8h0M316.2 683.8h0M305.5 688.4h0M320.2 674.8h0"/>
<path d="M314.8 670.6h0M311.7 672.0h0M321.3 683.7h0M316.8 664.1h0M327.6 664.6h0M310.5 673.4h0M320.2 670.4h0M316.0 668.2h0M325.9 662.9h0M317.4 682.2h0M319.2 669.7h0M320.1 668.8h0M322.6 668.8h0M316.1 681.3h0M318.1 677.2h0M312.3 687.8h0M328.8 648.5h0M326.5 673.2h0M306.3 681.3h0M314.3 658.3h0M316.0 684.5h0M310.1 658.0h0M318.0 677.2h0M322.9 677.9h0M316.6 662.9h0M317.4 671.7h0M327.2 674.1h0M333.9 679.6h0M341.5 664.6h0M323.4 686.7h0M325.5 671.9h0M323.9 669.0h0M325.9 666.8h0M313.8 667.8h0M318.2 663.8h0M320.2 661.1h0M311.5 678.1h0M321.8 665.3h0M321.9 683.9h0M316.2 665.5h0M322.8 671.2h0M318.4 669.0h0M324.6 681.1h0M312.4 676.2h0M314.3 677.8h0M320.8 667.5h0M313.6 688.4h0M311.6 666.8h0M328.0 652.9h0M309.5 674.8h0M321.3 670.2h0M321.3 675.2h0M311.6 668.1h0M316.2 675.8h0M332.8 670.5h0M321.3 681.2h0M321.2 683.1h0M324.3 675.0h0M324.0 672.5h0M331.3 656.5h0M323.6 680.9h0M317.4 673.8h0M328.0 658.1h0M305.6 666.9h0M324.9 670.2h0M315.9 672.2h0M324.6 669.0h0M324.4 677.1h0M320.2 677.5h0M310.3 669.7h0M315.3 683.5h0M311.7 690.3h0M319.6 683.6h0M320.7 674.7h0M322.4 662.0h0M324.2 675.2h0M312.1 672.6h0M316.3 672.5h0M324.7 666.6h0M325.1 671.0h0M321.6 672.4h0M307.9 685.5h0M323.6 681.6h0M318.0 684.5h0M310.2 676.2h0M320.2 673.8h0M321.1 680.0h0M322.6 676.2h0M315.1 676.5h0M315.1 654.7h0M323.1 667.1h0M327.9 670.7h0M313.5 665.6h0M312.3 682.5h0M321.0 675.4h0M327.8 664.0h0M317.2 657.7h0M319.6 670.5h0M318.8 673.8h0M317.6 674.9h0M312.5 683.6h0M317.1 666.9h0M319.7 670.5h0M316.5 664.7h0M321.2 688.4h0M314.1 681.8h0M325.1 659.3h0M318.4 653.4h0M327.4 679.3h0M312.2 664.6h0M313.1 677.9h0M315.0 670.6h0M326.4 687.0h0M322.5 652.3h0M322.2 685.1h0M328.2 669.9h0M325.3 674.7h0M313.9 686.2h0M317.6 676.2h0M323.1 682.9h0M307.0 684.6h0M313.6 682.0h0M323.5 665.7h0M313.6 676.3h0M313.8 661.3h0M323.4 683.0h0M315.5 690.5h0M319.3 668.4h0M315.2 683.9h0M327.9 671.6h0M317.2 661.3h0M315.5 673.6h0M326.1 666.8h0M318.7 664.6h0M316.0 680.3h0M310.7 680.9h0M326.1 669.0h0M317.2 678.9h0M314.5 663.5h0M318.5 672.3h0M310.8 675.2h0M321.5 678.3h0M326.6 660.1h0M321.2 683.5h0M325.8 681.5h0M319.6 685.0h0M323.2 667.3h0M322.8 672.1h0M315.6 669.5h0M304.1 688.2h0"/>
<path d="M311.4 673.2h0M312.6 678.7h0M319.9 658.2h0M311.5 670.9h0M315.8 687.9h0M318.4 671.4h0M318.6 689.2h0M325.8 672.4h0M312.5 679.9h0M315.3 670.9h0M324.2 670.6h0M323.7 676.3h0M330.9 658.6h0M320.0 676.9h0M320.4 685.0h0M332.7 672.1h0M312.1 679.9h0M324.8 658.4h0M316.7 686.4h0M324.9 668.1h0M331.2 665.6h0M327.4 679.3h0M327.0 664.3h0M320.6 685.6h0M319.0 677.3h0M323.1 652.7h0M311.0 672.2h0M323.9 658.4h0M317.2 668.1h0M324.5 667.3h0M325.6 664.7h0M327.2 663.1h0M323.5 677.1h0M325.8 673.0h0M316.0 681.7h0M319.6 660.7h0M320.4 668.2h0M328.5 655.8h0M307.0 679.3h0M307.8 679.2h0M302.9 681.5h0M336.9 655.0h0M320.8 679.9h0M319.5 683.9h0M308.1 689.7h0M317.8 681.9h0M316.7 667.2h0M317.6 671.4h0M309.9 678.0h0M304.9 670.8h0M312.7 692.5h0M312.8 685.7h0M320.5 665.9h0M317.6 674.3h0M317.3 654.8h0M323.0 667.1h0M319.2 680.1h0M317.2 661.6h0M326.4 658.1h0M321.6 693.5h0M324.2 666.9h0M334.0 680.2h0M311.0 677.7h0M314.9 672.8h0M316.1 677.9h0M334.7 664.6h0M326.8 673.0h0M316.4 665.4h0M321.5 674.0h0M312.0 669.0h0M317.5 655.4h0M318.6 678.2h0M324.9 676.5h0M320.9 693.8h0M316.2 674.7h0M319.6 662.0h0M324.1 668.1h0M327.4 685.7h0M326.8 659.0h0M319.9 685.8h0M320.6 667.9h0M313.9 675.3h0M320.6 670.2h0M317.0 678.0h0M326.5 654.9h0M319.6 659.0h0M319.2 681.3h0M315.1 680.3h0M316.5 671.9h0M322.0 670.0h0M322.4 686.8h0M317.0 673.9h0M317.5 667.3h0M322.3 673.9h0M326.3 679.1h0M331.3 668.6h0M319.9 672.8h0M312.3 678.7h0M310.8 675.9h0M317.1 672.2h0M324.7 664.0h0M313.1 692.3h0M319.5 670.5h0M321.6 670.8h0M315.2 678.8h0M323.5 670.1h0M315.3 674.0h0M321.3 671.0h0M322.0 682.7h0M318.8 675.0h0M315.6 689.1h0M315.0 676.6h0M318.7 665.1h0M309.3 673.3h0M325.0 669.1h0M324.7 675.9h0M327.7 663.8h0M312.5 674.5h0M315.0 674.4h0M325.4 675.0h0M319.4 667.3h0M318.0 678.4h0M310.7 681.0h0M322.8 651.2h0M308.3 672.8h0M316.7 666.6h0M328.6 675.6h0M314.0 660.9h0M318.9 671.7h0M316.8 665.9h0M326.1 658.6h0M318.5 678.2h0M320.3 669.1h0M318.5 690.8h0M321.5 661.9h0M314.0 674.2h0M313.9 669.9h0M321.0 663.4h0M325.2 675.5h0M315.2 666.6h0M313.0 688.5h0M326.5 668.9h0M300.6 692.9h0M316.0 673.9h0M327.1 676.5h0M314.9 665.7h0M319.0 683.9h0M318.3 674.1h0M316.9 660.6h0M313.1 680.4h0"/>
<path d="M318.2 681.3h0M319.4 658.9h0M317.1 678.7h0M327.1 676.5h0M317.6 660.2h0M318.2 677.9h0M315.1 669.2h0M327.2 655.7h0M320.2 678.5h0M326.8 684.8h0M311.4 673.2h0M312.6 691.8h0M325.8 664.3h0M319.8 679.4h0M314.1 676.3h0M312.9 668.3h0M327.5 673.6h0M325.3 692.0h0M328.2 692.1h0M317.7 671.5h0M302.3 686.7h0M311.0 674.0h0M314.4 686.8h0M317.4 664.0h0M335.5 652.8h0M320.1 664.6h0M324.1 664.6h0M305.9 670.0h0M311.9 657.7h0M320.1 678.7h0M315.1 670.4h0M310.6 676.6h0M331.8 662.2h0M321.5 677.3h0M328.6 663.1h0M299.5 693.2h0M321.1 658.4h0M312.7 673.9h0M323.2 658.0h0M316.7 672.1h0M324.3 683.7h0M319.0 672.7h0M326.8 668.4h0M314.9 671.2h0M324.5 684.4h0M320.9 671.7h0M323.2 682.2h0M309.0 694.3h0M321.4 658.3h0M311.6 675.8h0M324.6 673.0h0M312.8 693.8h0M316.5 671.9h0M324.3 662.9h0M317.4 650.9h0M322.2 675.6h0M313.6 683.2h0M318.4 667.5h0M327.2 672.7h0M314.9 687.9h0M316.9 655.6h0M317.4 670.0h0M324.2 664.6h0M320.8 664.4h0M322.5 679.4h0M325.8 678.7h0M325.6 678.7h0M323.8 678.9h0M323.2 669.8h0M317.7 679.7h0M311.3 686.1h0M308.7 665.3h0M319.9 669.4h0M323.1 669.8h0M325.2 659.7h0M316.9 681.0h0M315.8 681.7h0M316.4 683.8h0M316.4 678.5h0M325.8 662.9h0M316.7 656.6h0M314.3 678.4h0M319.3 690.8h0M310.4 672.4h0M318.0 661.0h0M318.6 661.3h0M324.5 663.1h0M323.9 664.5h0M316.8 664.5h0M324.4 690.9h0M320.6 680.2h0M327.0 661.1h0M323.6 678.0h0M320.8 668.7h0M319.6 662.8h0M314.6 671.0h0M329.3 672.4h0M315.3 675.5h0M321.7 671.2h0M312.2 658.7h0M334.0 663.9h0M314.0 662.5h0M318.4 654.4h0M321.3 664.1h0M315.5 669.4h0M325.1 659.5h0M317.2 680.9h0M327.4 682.0h0M308.7 696.8h0M314.4 657.9h0M321.2 684.5h0M315.1 672.3h0M324.4 665.2h0M311.8 674.7h0M331.3 679.0h0M320.0 679.3h0M317.3 670.8h0M321.5 703.0h0M323.4 661.1h0M317.9 660.0h0M317.4 681.9h0M309.6 663.2h0M317.4 663.5h0M327.2 666.8h0M319.6 670.6h0M310.6 685.3h0M319.0 670.1h0M332.4 677.6h0M322.9 684.1h0M316.0 669.7h0M318.1 678.4h0M314.1 660.7h0M318.7 673.5h0M309.3 664.1h0M319.1 665.8h0M320.7 670.6h0M318.4 675.0h0M314.5 679.6h0M324.2 679.9h0M318.5 675.6h0M317.5 671.5h0M315.8 671.6h0M320.2 671.6h0M318.5 657.1h0M327.2 670.5h0M318.2 670.5h0M303.0 692.0h0M321.8 668.9h0M312.0 658.5h0M312.1 685.5h0"/>
<path d="M311.6 707.3h0M308.7 672.3h0M310.6 662.2h0M319.4 673.0h0M311.2 676.7h0M313.6 683.7h0M317.1 679.1h0M320.9 667.1h0M323.3 664.2h0M316.0 667.0h0M319.1 665.0h0M318.2 657.2h0M325.9 661.4h0M312.5 691.8h0M315.2 688.2h0M317.9 662.1h0M322.0 677.8h0M323.7 657.9h0M324.3 679.8h0M310.0 673.6h0M323.6 655.0h0M322.4 688.2h0M315.7 675.8h0M321.6 644.9h0M327.2 664.0h0M320.1 676.6h0M319.9 672.5h0M318.0 695.7h0M319.1 670.4h0M312.9 688.8h0M329.4 684.6h0M327.1 665.1h0M311.5 656.3h0M322.0 671.1h0M322.6 677.2h0M326.8 656.0h0M325.0 683.3h0M322.0 670.3h0M314.2 681.4h0M329.8 674.5h0M321.8 655.7h0M312.5 663.5h0M311.5 693.0h0M319.1 670.5h0M313.5 653.1h0M316.0 688.8h0M322.5 681.3h0M325.6 664.5h0M308.3 668.1h0M321.6 662.8h0M325.0 682.7h0M320.5 654.3h0M320.8 679.7h0M325.7 678.8h0M319.9 671.0h0M323.7 673.2h0M310.8 689.4h0M323.7 669.9h0M331.7 661.5h0M328.2 672.7h0M315.1 679.4h0M319.5 694.6h0M323.3 680.6h0M310.1 679.8h0M324.5 664.5h0M332.4 668.9h0M324.9 666.0h0M321.8 670.6h0M304.4 687.3h0M326.1 680.6h0M314.1 687.8h0M318.3 660.2h0M321.2 667.4h0M318.5 673.0h0M324.5 676.5h0M326.4 656.2h0M320.6 667.5h0M326.2 674.8h0M319.9 666.5h0M320.5 656.6h0M318.3 682.6h0M319.3 681.2h0M324.8 662.2h0M320.8 671.6h0M328.1 676.1h0M321.5 684.6h0M324.5 676.8h0M307.7 681.7h0M326.2 673.2h0M320.0 678.5h0M315.7 671.3h0M322.4 659.3h0M317.6 667.7h0M318.6 652.1h0M312.0 677.9h0M308.1 674.3h0M315.4 673.8h0M315.8 676.4h0M323.1 663.3h0M317.1 683.3h0M328.9 659.3h0M321.0 682.4h0M317.7 680.3h0M312.7 690.8h0M303.1 670.7h0M324.0 669.3h0M325.4 676.3h0M322.3 685.0h0M319.1 660.6h0M321.2 680.2h0M320.4 692.3h0M321.6 668.1h0M317.9 687.6h0M335.4 695.4h0M319.6 671.9h0M323.3 673.0h0M320.4 677.3h0M308.7 680.1h0M318.1 662.5h0M320.2 676.9h0M323.8 686.6h0M317.1 663.3h0M310.8 674.4h0M324.1 669.7h0M319.2 692.5h0M318.5 668.8h0M324.8 668.6h0M324.1 675.5h0M318.8 686.4h0M320.2 665.6h0M319.6 675.6h0M309.7 687.9h0M326.7 675.6h0M321.5 659.1h0M316.3 686.7h0M325.8 663.5h0M314.4 667.0h0M318.7 680.6h0M328.0 669.3h0M313.2 656.4h0M318.5 677.9h0M312.5 668.8h0M328.8 660.0h0M333.8 647.5h0M321.9 685.4h0M321.1 685.3h0M318.4 680.0h0M304.2 698.2h0M322.2 683.2h0M316.1 672.2h0"/>
<path d="M318.5 685.3h0M323.1 675.9h0M320.6 662.9h0M309.1 683.7h0M324.8 685.1h0M309.1 677.6h0M321.7 680.8h0M317.6 655.3h0M321.5 682.9h0M323.1 674.4h0M327.6 673.9h0M328.1 684.5h0M324.2 667.3h0M321.9 677.0h0M330.9 668.2h0M312.3 674.3h0M323.5 688.2h0M320.2 673.0h0M313.5 677.0h0M303.6 676.2h0M318.2 673.4h0M315.8 676.6h0M322.5 679.4h0M317.1 676.2h0M321.1 681.1h0M317.1 670.2h0M322.7 669.9h0M327.5 664.5h0M328.6 653.0h0M325.0 668.5h0M315.8 686.3h0M315.7 671.5h0M317.8 658.4h0M313.1 669.8h0M325.9 673.1h0M315.2 677.0h0M311.7 677.8h0M306.6 675.5h0M314.5 669.0h0M315.2 680.3h0M318.1 682.2h0M315.1 671.4h0M323.0 667.3h0M315.6 658.0h0M315.6 673.0h0M315.8 675.8h0M320.7 671.3h0M308.4 681.0h0M323.9 670.6h0M317.5 676.2h0M317.9 678.9h0M324.5 689.6h0M324.0 680.9h0M324.9 651.2h0M330.7 665.0h0M328.0 671.5h0M309.9 655.9h0M322.9 655.6h0M331.0 675.2h0M307.9 691.8h0M312.6 689.2h0M320.7 683.5h0M326.0 669.2h0M317.4 682.5h0M322.2 683.9h0M323.4 669.5h0M325.8 672.5h0M324.9 670.9h0M322.6 672.9h0M336.3 662.3h0M327.7 667.7h0M326.2 666.1h0M317.2 665.6h0M321.7 669.0h0M314.1 680.4h0M316.7 674.7h0M320.0 670.4h0M313.5 666.5h0M318.5 661.1h0M319.3 676.6h0M317.1 665.5h0M320.3 677.1h0M319.2 668.4h0M308.6 682.3h0M321.1 672.0h0M324.6 667.7h0M320.2 683.2h0M315.1 658.8h0M326.1 661.1h0M314.2 684.0h0M308.2 676.3h0M318.2 667.3h0M330.1 686.4h0M310.0 665.1h0M329.0 677.6h0M309.7 688.0h0M311.5 676.6h0M324.0 673.4h0M321.3 680.8h0M324.0 653.0h0M313.5 676.3h0M311.9 674.9h0M307.6 674.5h0M313.6 675.1h0M326.4 675.1h0M313.8 669.7h0M326.0 679.3h0M319.0 672.9h0M317.1 667.8h0M316.9 670.4h0M321.9 674.7h0M326.4 663.6h0M322.8 682.3h0M319.2 680.9h0M313.2 674.2h0M330.1 665.2h0M330.3 675.6h0M334.8 660.9h0M323.9 677.1h0M316.3 664.7h0M314.9 655.6h0M317.9 678.0h0M319.3 654.8h0M317.3 672.2h0M312.5 672.9h0M316.8 676.4h0M328.5 681.4h0M308.3 675.8h0M314.2 679.2h0M320.8 675.0h0M318.0 680.6h0M311.7 671.6h0M328.2 684.1h0M331.1 654.2h0M314.0 669.3h0M316.9 677.5h0M322.2 671.8h0M317.5 694.3h0M318.4 657.3h0M313.7 679.8h0M319.6 677.4h0M330.6 661.0h0M313.7 668.2h0M312.5 672.2h0M330.9 665.1h0M318.8 678.7h0M319.1 702.9h0M326.3 668.7h0M319.8 661.7h0M328.7 678.7h0"/>
<path d="M325.6 645.8h0M318.8 640.8h0M323.3 659.6h0M321.8 661.2h0M318.2 668.7h0M321.6 664.2h0M311.1 678.6h0M324.9 672.5h0M317.3 671.2h0M315.6 680.5h0M324.7 664.0h0M327.2 675.5h0M314.7 674.0h0M323.5 682.4h0M323.2 685.9h0M318.9 680.0h0M323.7 660.1h0M321.3 670.8h0M312.3 685.5h0M314.2 694.0h0M305.2 686.1h0M327.0 652.7h0M319.6 661.9h0M316.8 686.7h0M322.8 675.8h0M312.2 681.4h0M318.5 664.8h0M326.9 682.0h0M322.1 685.2h0M315.4 712.3h0M318.6 684.3h0M320.7 671.1h0M318.6 677.8h0M320.4 676.9h0M322.4 680.9h0M317.2 665.9h0M328.9 673.3h0M319.0 697.7h0M329.8 659.8h0M310.4 686.8h0M314.4 680.5h0M316.4 682.1h0M320.8 670.0h0M309.4 670.6h0M321.3 667.3h0M313.2 669.9h0M316.8 669.3h0M331.5 676.1h0M323.8 670.0h0M318.2 671.4h0M317.2 679.8h0M317.6 683.7h0M320.5 667.0h0M307.7 684.4h0M326.0 681.7h0M325.0 671.1h0M322.7 669.9h0M325.5 662.0h0M324.3 663.8h0M320.0 667.3h0M328.3 665.7h0M317.1 661.4h0M319.1 656.9h0M316.2 680.6h0M316.6 677.7h0M314.2 665.5h0M311.9 672.4h0M311.3 679.5h0M329.7 656.4h0M319.9 678.6h0M322.7 663.7h0M320.2 675.4h0M318.9 672.2h0M328.0 658.9h0M314.7 674.5h0M321.2 672.0h0M322.9 672.7h0M322.7 693.1h0M319.6 648.0h0M309.2 691.7h0M324.7 672.4h0M326.8 674.8h0M317.4 658.5h0M313.9 693.5h0M318.1 675.0h0M316.2 669.0h0M329.3 676.2h0M317.2 651.7h0M307.9 671.8h0M321.6 674.7h0M312.8 677.0h0M321.3 673.8h0M321.7 670.6h0M321.1 684.0h0M319.2 676.3h0M321.4 658.8h0M318.1 677.6h0M323.4 657.9h0M322.8 675.2h0M318.2 667.4h0M313.2 679.9h0M310.7 669.9h0M322.9 683.7h0M327.5 652.1h0M320.4 696.2h0M326.5 664.8h0M319.0 669.1h0M314.4 672.2h0M320.0 675.8h0M305.2 687.5h0M313.2 671.5h0M314.7 694.7h0M311.2 676.7h0M324.9 669.7h0M318.1 675.7h0M328.1 690.1h0M320.5 685.9h0M326.1 672.4h0M325.2 680.6h0M324.7 660.6h0M315.4 671.8h0M325.5 683.7h0M324.8 657.5h0M320.6 680.0h0M316.2 665.2h0M319.5 684.2h0M315.8 682.0h0M320.7 684.6h0M313.4 678.9h0M315.9 696.8h0M313.8 680.8h0M312.7 684.1h0M311.8 679.1h0M311.7 671.4h0M322.9 672.5h0M319.5 675.8h0M331.3 664.8h0M318.3 693.3h0M318.1 668.1h0M309.8 685.2h0M313.8 685.0h0M316.5 679.5h0M328.5 677.6h0M310.1 680.4h0M310.9 696.7h0M316.1 669.9h0M315.7 685.2h0M328.0 656.8h0M327.4 666.6h0M311.0 669.6h0"/>
<path d="M317.6 687.7h0M316.1 666.8h0M307.9 669.8h0M320.5 670.4h0M329.2 664.3h0M309.5 683.0h0M318.2 670.5h0M313.3 662.4h0M312.7 683.5h0M322.9 672.7h0M317.3 683.9h0M314.3 684.5h0M322.6 676.1h0M324.3 674.0h0M318.1 665.4h0M312.7 694.8h0M317.1 676.9h0M323.0 667.9h0M312.5 674.5h0M322.6 670.2h0M322.5 674.7h0M314.9 674.8h0M326.0 666.2h0M323.9 672.4h0M318.2 673.4h0M315.2 679.1h0M321.6 662.9h0M319.5 685.0h0M307.2 684.5h0M324.7 680.2h0M317.6 683.5h0M321.6 655.4h0M316.9 665.0h0M317.3 670.1h0M312.4 676.7h0M316.4 672.2h0M313.3 666.2h0M327.8 670.9h0M314.3 653.1h0M321.0 670.5h0M316.5 675.1h0M312.2 679.9h0M309.0 675.5h0M318.0 683.3h0M318.9 674.7h0M320.1 669.1h0M315.8 678.1h0M326.4 661.0h0M319.1 678.9h0M304.5 674.5h0M317.6 696.9h0M317.9 667.2h0M309.5 673.4h0M315.6 667.5h0M332.2 665.2h0M315.8 665.1h0M320.1 677.0h0M309.6 663.3h0M322.9 678.2h0M327.3 662.6h0M325.1 656.6h0M327.6 668.9h0M319.5 675.7h0M313.9 677.9h0M315.7 676.2h0M314.7 688.9h0M317.5 678.5h0M322.8 679.6h0M302.5 695.2h0M315.0 673.0h0M317.0 667.3h0M318.4 680.6h0M330.2 673.5h0M322.9 675.9h0M317.4 675.6h0M323.1 657.9h0M314.6 670.4h0M318.2 687.9h0M320.3 685.1h0M331.1 672.8h0M320.2 677.1h0M318.7 684.8h0M319.7 660.6h0M318.4 694.6h0M315.7 666.4h0M321.5 665.9h0M310.8 680.8h0M317.5 688.0h0M318.6 681.0h0M325.0 660.2h0M307.2 670.0h0M326.6 676.6h0M325.5 684.3h0M318.4 670.9h0M323.6 687.9h0M322.9 655.0h0M325.1 651.3h0M322.2 674.6h0M318.7 663.6h0M321.1 661.6h0M306.3 680.1h0M329.3 670.6h0M318.9 677.6h0M323.6 671.9h0M322.7 659.8h0M317.3 667.6h0M315.0 682.7h0M320.8 682.7h0M305.3 690.9h0M312.7 682.7h0M321.8 667.2h0M328.6 669.9h0M326.2 657.8h0M310.4 687.2h0M316.9 679.7h0M332.5 670.5h0M314.7 662.3h0M310.7 680.4h0M325.6 677.4h0M322.1 667.2h0M316.1 685.2h0M323.5 663.4h0M327.3 672.0h0M317.2 662.1h0M327.4 669.1h0M306.2 686.5h0M329.1 675.6h0M313.9 678.8h0M314.7 676.6h0M319.4 677.3h0M312.2 677.7h0M315.9 686.1h0M316.7 658.7h0M325.9 678.0h0M320.6 659.2h0M318.5 666.3h0M324.1 687.9h0M315.3 680.4h0M325.6 676.9h0M315.8 675.4h0M316.3 680.8h0M320.6 679.1h0M308.9 692.1h0M316.5 674.6h0M326.3 687.4h0M321.3 666.1h0M303.7 679.9h0M327.3 671.6h0M309.7 658.7h0M320.5 670.2h0"/>
<path d="M304.4 686.3h0M317.1 661.7h0M328.3 660.6h0M316.0 664.5h0M328.2 671.5h0M315.1 682.0h0M320.2 653.5h0M314.0 688.3h0M331.1 655.4h0M337.1 678.9h0M311.1 680.3h0M330.9 676.6h0M329.3 677.4h0M318.7 658.1h0M326.3 675.9h0M326.5 679.7h0M315.0 673.2h0M321.4 666.3h0M314.8 671.0h0M320.8 680.3h0M313.0 669.0h0M315.0 696.5h0M316.2 694.7h0M316.9 685.1h0M320.4 684.6h0M310.5 690.2h0M330.2 668.4h0M321.5 665.7h0M309.4 682.3h0M330.6 678.1h0M318.9 670.7h0M329.1 675.3h0M327.1 668.2h0M328.2 665.2h0M308.7 658.4h0M316.2 676.7h0M324.7 688.7h0M312.9 679.1h0M312.9 664.0h0M322.9 685.6h0M324.0 664.3h0M328.4 678.0h0M310.7 678.5h0M333.5 683.8h0M310.0 694.4h0M322.7 672.4h0M318.8 674.2h0M320.8 657.9h0M318.6 675.5h0M324.0 673.3h0M317.0 678.6h0M303.4 691.1h0M314.4 657.1h0M314.5 661.6h0M324.1 655.9h0M318.4 678.7h0M319.2 664.3h0M315.5 685.8h0M314.2 663.7h0M326.0 664.8h0M312.9 672.0h0M314.5 668.2h0M328.1 657.0h0M320.0 677.2h0M330.1 670.4h0M321.2 670.9h0M323.7 660.6h0M314.3 668.3h0M322.5 656.9h0M322.5 664.2h0M323.0 659.2h0M315.2 678.0h0M316.9 681.0h0M312.5 681.3h0M312.3 680.4h0M328.2 658.5h0M316.9 677.3h0M330.4 656.7h0M324.5 678.6h0M324.8 684.7h0M323.5 670.9h0M318.8 677.1h0M316.1 688.5h0M323.4 675.8h0M312.9 675.9h0M316.3 650.7h0M318.7 670.9h0M302.6 684.3h0M325.9 682.2h0M322.9 676.1h0M320.0 676.6h0M315.8 662.0h0M316.3 691.5h0M326.2 666.7h0M314.8 681.9h0M320.4 677.3h0M321.4 679.3h0M315.6 673.0h0M322.7 667.8h0M324.9 668.7h0M316.0 665.1h0M317.8 674.3h0M330.0 681.1h0M318.5 675.9h0M318.2 673.0h0M314.7 684.2h0M324.8 680.6h0M315.1 682.5h0M329.9 658.8h0M315.8 673.1h0M334.6 666.7h0M324.5 674.2h0M320.6 676.4h0M318.4 677.9h0M319.0 658.0h0M318.4 658.1h0M323.6 673.1h0M314.0 676.1h0M314.7 684.0h0M309.1 692.8h0M332.7 670.2h0M322.1 665.8h0M317.6 676.0h0M314.6 664.6h0M326.8 658.7h0M316.1 673.5h0M313.8 672.9h0M318.5 674.6h0M324.0 663.1h0M320.8 672.0h0M312.6 673.9h0M315.1 677.5h0M312.9 670.9h0M322.9 674.5h0M319.4 669.8h0M323.6 672.5h0M318.6 683.1h0M326.3 658.5h0M328.1 679.7h0M314.7 680.0h0M320.5 681.9h0M314.2 665.1h0M319.3 676.6h0M320.6 672.9h0M324.8 673.2h0M326.7 666.4h0M324.2 656.2h0M324.8 667.4h0M320.5 686.5h0M324.3 664.3h0"/>
<path d="M313.7 670.6h0M316.5 667.3h0M319.1 675.1h0M315.1 665.3h0M320.7 670.0h0M323.9 670.8h0M320.9 673.5h0M318.7 669.9h0M324.0 679.7h0M324.5 681.0h0M320.2 668.4h0M329.3 662.0h0M303.7 676.1h0M321.1 670.0h0M318.7 688.3h0M316.0 692.2h0M316.8 668.2h0M320.6 683.1h0M322.7 666.9h0M315.1 673.1h0M315.7 679.8h0M325.1 673.0h0M325.1 660.2h0M315.2 670.7h0M310.2 671.9h0M313.0 687.1h0M318.0 681.4h0M312.1 674.8h0M328.6 669.2h0M320.7 679.5h0M319.5 674.9h0M314.3 689.2h0M321.1 682.2h0M321.0 669.6h0M314.5 660.3h0M318.2 666.4h0M312.9 676.2h0M312.5 677.9h0M329.8 680.5h0M316.6 664.7h0M336.8 667.3h0M312.5 647.3h0M318.7 684.2h0M321.8 690.2h0M312.6 678.4h0M311.1 654.2h0M323.1 671.0h0M331.5 673.6h0M313.7 669.3h0M310.2 673.8h0M322.0 668.3h0M316.4 677.5h0M329.4 650.7h0M317.5 666.5h0M312.4 673.0h0M327.3 668.8h0M320.7 675.9h0M323.9 659.5h0M314.6 689.5h0M322.7 661.0h0M319.5 671.1h0M315.2 668.7h0M314.2 665.3h0M313.7 674.2h0M313.5 678.8h0M319.6 667.5h0M323.9 670.7h0M321.7 668.2h0M317.6 680.7h0M322.8 684.3h0M318.6 673.8h0M326.5 671.9h0M316.4 683.4h0M322.4 665.5h0M306.6 674.1h0M319.5 677.4h0M321.5 664.3h0M315.8 688.3h0M316.8 678.4h0M318.4 683.1h0M314.5 691.2h0M317.6 667.7h0M325.3 662.7h0M316.7 673.2h0M314.8 683.3h0M314.4 667.7h0M321.5 669.2h0M314.0 671.5h0M328.7 676.3h0M329.1 652.1h0M309.6 673.2h0M314.6 671.0h0M318.5 683.8h0M323.4 675.5h0M321.1 665.0h0M319.8 662.0h0M312.1 694.4h0M302.3 680.8h0M313.6 682.7h0M322.9 680.0h0M320.7 670.3h0M321.1 671.3h0M316.7 668.3h0M312.2 654.6h0M329.1 660.4h0M332.8 680.4h0M317.5 670.2h0M333.5 654.5h0M328.4 681.5h0M318.3 656.1h0M314.8 684.5h0M316.3 680.8h0M305.3 694.2h0M323.8 663.5h0M316.4 665.7h0M319.2 697.1h0M320.2 681.9h0M310.3 683.9h0M313.8 697.9h0M323.1 676.7h0M307.9 686.8h0M322.1 660.7h0M315.2 673.1h0M323.5 661.1h0M330.6 690.0h0M317.4 672.9h0M317.5 675.2h0M315.2 679.2h0M309.6 676.7h0M324.2 685.4h0M322.9 683.4h0M323.9 680.3h0M329.5 669.7h0M327.2 652.7h0M314.8 669.9h0M325.0 683.6h0M321.6 673.2h0M314.1 679.5h0M326.4 675.2h0M319.5 676.1h0M318.7 659.5h0M326.7 663.5h0M314.7 691.8h0M319.8 671.2h0M315.8 665.7h0M318.6 663.7h0M307.1 679.0h0M320.3 678.3h0M317.0 667.8h0M307.9 668.8h0"/>
<path d="M320.6 654.2h0M335.8 672.7h0M313.4 685.7h0M322.0 675.2h0M321.1 667.6h0M319.2 682.4h0M310.6 675.4h0M322.2 671.8h0M316.1 670.9h0M337.3 676.4h0M320.2 662.9h0M325.8 679.8h0M307.6 674.7h0M317.9 697.6h0M321.4 655.8h0M317.9 692.1h0M324.2 668.2h0M316.9 681.4h0M321.2 663.2h0M317.6 699.0h0M313.5 690.6h0M313.5 684.5h0M316.5 671.9h0M324.2 677.1h0M311.6 666.6h0M316.6 679.6h0M318.9 674.1h0M325.6 657.0h0M321.2 665.4h0M313.7 682.5h0M316.0 661.1h0M322.5 686.8h0M311.5 667.5h0M314.3 660.4h0M322.8 681.7h0M319.7 657.0h0M314.8 672.3h0M321.7 668.4h0M311.9 695.0h0M332.2 668.0h0M321.5 665.0h0M324.6 675.7h0M318.7 676.9h0M318.7 668.2h0M326.0 662.8h0M325.6 665.0h0M311.1 668.8h0M306.6 660.4h0M322.1 669.4h0M320.8 662.7h0M324.9 669.6h0M312.2 666.7h0M321.4 677.4h0M315.2 679.2h0M319.2 660.9h0M316.1 669.3h0M322.5 691.5h0M319.9 671.7h0M320.4 681.9h0M316.9 664.9h0M314.0 694.6h0M309.8 688.8h0M324.9 645.9h0M314.2 673.6h0M320.8 683.3h0M319.2 672.8h0M313.1 683.9h0M319.3 682.6h0M312.7 682.1h0M313.2 654.5h0M322.5 651.3h0M320.0 669.3h0M323.8 698.1h0M332.7 673.8h0M315.9 688.6h0M326.0 678.3h0M318.2 676.2h0M325.0 675.6h0M316.9 673.0h0M321.6 657.8h0M319.7 665.7h0M302.0 686.6h0M313.5 667.2h0M322.2 653.9h0M307.0 683.5h0M316.2 685.8h0M329.1 671.7h0M314.1 681.3h0M320.2 665.7h0M319.0 694.2h0M334.8 674.3h0M318.1 666.4h0M316.3 674.9h0M311.4 679.3h0M313.2 687.8h0M318.8 671.5h0M315.0 698.7h0M316.9 652.0h0M309.5 671.6h0M307.5 675.7h0M316.6 681.9h0M312.2 664.6h0M325.6 672.6h0M330.8 665.6h0M322.0 681.3h0M322.5 679.0h0M321.1 684.4h0M317.9 673.9h0M325.6 686.2h0M336.2 651.0h0M316.2 678.3h0M321.3 684.7h0M315.1 673.5h0M329.7 669.6h0M311.7 673.9h0M310.0 662.1h0M317.4 672.9h0M304.7 677.4h0M321.2 678.0h0M310.7 675.2h0M314.8 674.3h0M327.0 672.9h0M328.8 662.6h0M328.1 669.8h0M313.9 674.9h0M323.9 673.2h0M319.8 669.7h0M320.5 655.4h0M323.4 674.9h0M319.6 665.7h0M308.6 670.1h0M312.1 672.4h0M318.3 673.2h0M321.1 685.9h0M317.8 681.8h0M317.6 667.3h0M329.2 660.3h0M326.5 683.3h0M320.3 669.2h0M307.9 684.1h0M312.6 673.4h0M318.6 674.9h0M321.7 683.8h0M321.7 679.3h0M328.1 678.9h0M316.9 664.7h0M325.6 681.9h0M325.8 675.4h0M317.7 665.4h0M318.2 678.7h0"/>
<path d="M320.4 666.1h0M318.0 672.7h0M320.2 676.6h0M321.2 670.2h0M315.1 673.2h0M321.5 662.8h0M328.6 665.2h0M320.7 679.4h0M313.3 668.2h0M315.4 678.1h0M321.0 661.2h0M310.7 661.5h0M323.5 659.0h0M308.5 678.7h0M322.1 672.2h0M326.5 662.3h0M313.3 669.5h0M314.5 672.2h0M328.5 663.7h0M320.3 653.8h0M322.1 650.6h0M323.6 666.4h0M314.8 655.8h0M332.3 665.6h0M314.4 686.0h0M318.5 680.1h0M319.1 665.9h0M309.4 682.6h0M321.2 683.5h0M309.8 681.2h0M330.2 665.0h0M312.3 692.9h0M335.3 665.3h0M316.3 666.5h0M317.7 672.7h0M328.4 652.7h0M321.4 672.0h0M321.0 669.3h0M324.1 669.5h0M328.4 662.9h0M319.8 670.3h0M315.8 686.9h0M317.6 670.1h0M333.5 656.9h0M319.5 688.9h0M328.5 669.5h0M312.6 657.4h0M322.3 673.1h0M314.7 681.1h0M323.3 663.3h0M316.6 673.7h0M326.0 666.2h0M317.8 698.7h0M311.9 686.9h0M316.8 680.9h0M327.5 670.7h0M314.8 675.6h0M309.6 667.2h0M321.2 673.4h0M315.0 676.7h0M321.2 675.1h0M321.8 681.6h0M312.7 695.9h0M323.2 700.5h0M311.0 667.6h0M323.4 680.3h0M314.9 663.5h0M322.1 690.0h0M332.9 681.9h0M320.5 663.5h0M308.5 668.9h0M319.6 679.2h0M312.8 674.7h0M317.3 669.1h0M322.3 667.0h0M324.3 682.5h0M325.7 672.6h0M319.2 678.7h0M318.7 641.7h0M314.1 669.9h0M320.5 683.6h0M312.7 682.6h0M308.6 668.6h0M325.4 659.8h0M322.6 683.2h0M311.4 663.8h0M319.6 680.4h0M319.4 665.8h0M323.7 666.7h0M317.1 670.0h0M320.5 646.6h0M325.9 679.3h0M316.7 674.4h0M320.7 661.5h0M321.4 670.2h0M319.8 687.3h0M324.2 680.4h0M322.5 665.5h0M324.1 680.2h0M328.6 669.4h0M321.2 675.9h0M331.6 660.6h0M316.1 672.1h0M324.8 681.4h0M314.5 675.9h0M317.4 669.1h0M321.6 674.3h0M325.5 689.6h0M311.0 683.5h0M320.1 664.9h0M318.8 666.3h0M308.2 685.4h0M329.7 651.5h0M320.8 668.3h0M325.1 660.0h0M324.7 677.1h0M321.8 678.5h0M327.3 674.8h0M311.9 686.5h0M321.0 665.0h0M323.9 673.7h0M317.0 659.8h0M323.8 661.5h0M318.3 685.2h0M318.4 678.5h0M310.5 675.9h0M324.8 684.2h0M327.4 692.0h0M314.7 684.3h0M323.4 651.8h0M313.5 687.0h0M318.9 655.6h0M314.9 676.5h0M313.1 678.7h0M330.7 669.7h0M317.0 668.4h0M316.2 658.4h0M323.0 681.8h0M319.4 664.3h0M309.4 673.7h0M327.1 665.6h0M308.6 675.3h0M313.4 681.5h0M317.7 669.3h0M321.4 661.9h0M316.6 657.5h0M315.3 678.1h0M322.1 666.2h0M316.0 676.8h0M323.9 683.2h0"/>
<path d="M314.7 681.5h0M318.4 674.8h0M308.9 660.0h0M316.7 693.6h0M315.3 677.4h0M320.3 677.7h0M322.8 669.2h0M321.3 680.4h0M320.5 678.9h0M320.1 667.7h0M312.0 689.7h0M315.4 675.9h0M312.6 677.7h0M327.2 679.8h0M331.4 668.8h0M317.2 692.9h0M320.2 694.1h0M318.5 686.4h0M326.1 692.0h0M324.8 697.1h0M330.4 670.6h0M316.8 659.6h0M324.6 678.9h0M307.6 684.5h0M332.9 681.0h0M319.4 685.6h0M313.6 668.4h0M302.5 698.0h0M318.3 672.1h0M322.9 656.2h0M308.2 655.4h0M319.9 652.7h0M313.1 673.4h0M325.0 659.7h0M318.2 671.3h0M319.1 676.7h0M315.4 695.1h0M316.1 689.2h0M324.3 674.7h0M321.7 666.0h0M310.5 661.9h0M316.9 675.1h0M310.9 686.1h0M316.9 671.5h0M317.7 683.9h0M314.8 680.4h0M320.1 661.2h0M317.5 679.7h0M322.6 671.4h0M317.2 672.5h0M314.6 686.2h0M316.7 661.5h0M319.4 665.3h0M305.5 703.2h0M316.5 672.6h0M316.3 681.6h0M322.9 667.1h0M306.7 669.6h0M320.8 668.4h0M318.3 675.3h0M323.6 673.0h0M317.3 677.3h0M323.5 658.3h0M319.6 679.9h0M319.0 658.2h0M309.5 679.4h0M324.1 680.0h0M321.5 689.2h0M319.9 676.9h0M321.0 668.9h0M318.0 674.9h0M317.8 657.3h0M318.5 675.8h0M314.9 676.9h0M314.0 675.2h0M318.3 680.0h0M330.7 668.4h0M315.6 697.6h0M324.7 674.9h0M325.7 671.3h0M311.1 688.6h0M329.9 656.6h0M317.9 664.1h0M318.0 648.3h0M318.0 659.6h0M323.0 662.3h0M324.2 682.3h0M311.8 672.3h0M314.7 680.7h0M330.2 692.6h0M314.0 680.3h0M317.8 669.0h0M325.5 662.0h0M313.1 663.3h0M320.0 682.3h0M329.8 684.1h0M321.1 682.1h0M321.1 670.0h0M317.1 674.5h0M325.7 674.4h0M327.5 669.0h0M326.6 663.1h0M321.3 670.3h0M321.1 676.7h0M307.3 679.0h0M312.4 689.7h0M314.5 679.4h0M326.9 669.7h0M313.3 698.3h0M318.0 686.9h0M327.9 670.4h0M320.4 665.9h0M322.2 667.5h0M323.8 681.1h0M307.2 676.6h0M308.4 677.2h0M325.5 671.8h0M317.3 671.6h0M326.6 654.9h0M329.4 649.2h0M318.3 675.2h0M320.5 666.5h0M318.7 681.7h0M316.6 670.4h0M311.3 680.6h0M318.7 676.8h0M316.2 660.4h0M314.7 687.1h0M318.5 682.1h0M321.0 671.6h0M314.2 681.8h0M323.6 674.9h0M318.9 657.7h0M326.8 681.9h0M328.4 670.7h0M308.0 693.5h0M319.1 682.9h0M312.9 672.2h0M321.7 671.3h0M322.2 669.8h0M319.5 684.0h0M315.4 679.0h0M319.7 670.5h0M316.9 676.6h0M316.4 668.6h0M319.5 689.7h0M310.9 693.4h0M329.9 670.7h0M315.0 683.8h0M320.8 670.4h0"/>
<path d="M340.6 667.4h0M316.7 673.6h0M302.3 677.8h0M307.9 689.0h0M319.8 670.1h0M320.5 674.1h0M314.3 666.0h0M312.1 676.4h0M320.2 680.9h0M321.2 675.0h0M315.5 655.0h0M322.4 670.1h0M318.0 689.4h0M327.4 658.2h0M318.7 678.4h0M326.1 669.7h0M321.6 687.5h0M315.2 687.5h0M304.8 670.0h0M313.8 710.5h0M316.2 675.8h0M319.1 682.2h0M321.1 668.5h0M327.4 668.2h0M312.0 676.8h0M323.6 678.0h0M326.5 663.9h0M316.7 681.4h0M321.8 680.2h0M331.4 656.7h0M302.1 674.3h0M324.4 668.4h0M316.0 662.5h0M317.1 680.9h0M320.5 676.4h0M322.1 674.7h0M318.6 671.8h0M323.0 668.7h0M314.9 658.2h0M323.3 668.8h0M321.1 671.4h0M313.1 678.7h0M320.4 666.9h0M328.3 663.6h0M321.2 674.6h0M317.8 673.9h0M311.6 665.8h0M331.6 671.5h0M314.7 683.4h0M332.8 664.1h0M323.0 680.6h0M320.4 679.7h0M330.1 660.6h0M310.8 682.0h0M313.8 688.9h0M311.1 677.5h0M311.9 670.4h0M302.8 671.9h0M327.0 671.6h0M327.4 668.6h0M318.0 668.1h0M320.4 684.2h0M319.0 681.4h0M320.1 683.8h0M326.4 650.5h0M327.9 659.7h0M315.5 685.0h0M326.2 695.4h0M314.3 677.4h0M321.8 683.8h0M320.5 691.9h0M320.2 671.0h0M323.4 661.8h0M319.5 659.6h0M315.5 694.8h0M328.1 662.1h0M323.6 668.1h0M312.5 658.9h0M324.2 662.0h0M325.2 666.2h0M318.6 691.9h0M324.5 670.1h0M323.9 670.9h0M322.2 679.0h0M314.0 686.0h0M318.5 675.1h0M323.2 671.2h0M326.3 658.9h0M320.9 680.8h0M320.2 666.1h0M320.9 676.8h0M318.0 673.2h0M317.6 678.9h0M327.7 689.9h0M320.0 688.3h0M315.6 667.4h0M313.1 667.8h0M322.3 672.6h0M322.7 670.9h0M316.3 676.9h0M324.5 666.9h0M327.3 676.5h0M317.9 671.4h0M323.7 686.4h0M306.1 674.8h0M317.4 667.0h0M322.7 662.7h0M314.4 674.7h0M313.5 663.7h0M308.0 676.3h0M326.0 667.0h0M316.8 670.2h0M319.7 665.0h0M316.1 680.1h0M337.8 659.9h0M321.6 657.6h0M321.1 648.9h0M316.8 700.4h0M316.0 669.9h0M323.6 652.8h0M323.4 676.4h0M320.3 664.7h0M311.5 678.5h0M323.6 677.6h0M323.7 665.2h0M319.6 672.0h0M321.9 672.4h0M314.1 671.1h0M314.9 680.4h0M322.0 658.5h0M316.3 660.5h0M322.4 658.3h0M316.2 706.4h0M318.7 691.0h0M310.8 677.4h0M322.1 694.2h0M318.3 681.7h0M328.2 664.8h0M307.6 652.8h0M322.1 673.1h0M315.9 676.8h0M317.4 653.0h0M314.5 668.2h0M317.1 670.2h0M317.7 646.8h0M308.3 694.2h0M316.0 686.8h0M318.0 670.4h0M313.4 682.3h0M323.8 670.2h0"/>
<path d="M322.6 670.9h0M325.4 678.2h0M317.8 680.3h0M321.4 672.6h0M318.0 671.1h0M318.3 672.0h0M316.8 686.3h0M317.2 674.8h0M320.7 661.6h0M319.3 668.8h0M325.5 663.6h0M319.3 672.4h0M321.7 677.7h0M314.0 681.9h0M321.5 659.4h0M321.2 675.1h0M323.0 651.5h0M310.9 675.8h0M318.6 685.6h0M319.4 683.6h0M308.2 680.0h0M326.0 676.5h0M320.9 679.0h0M329.3 686.8h0M312.3 680.4h0M329.8 661.8h0M316.9 669.6h0M331.0 653.9h0M309.2 677.8h0M326.0 665.1h0M328.1 653.5h0M313.3 673.8h0M317.1 674.1h0M318.9 678.5h0M316.8 666.7h0M327.3 659.1h0M326.2 670.5h0M314.9 676.7h0M314.0 675.3h0M315.4 689.5h0M303.4 658.8h0M316.8 669.2h0M320.7 668.5h0M324.2 667.1h0M323.8 669.0h0M313.8 681.6h0M324.8 667.9h0M308.4 676.0h0M334.5 658.7h0M315.7 681.1h0M310.9 678.7h0M316.4 672.1h0M310.4 666.6h0M324.9 670.5h0M330.5 670.4h0M319.1 671.8h0M326.1 667.6h0M313.5 667.5h0M320.8 658.7h0M307.8 674.9h0M309.2 692.0h0M324.5 674.5h0M322.8 669.4h0M322.2 682.0h0M314.4 660.8h0M317.9 675.3h0M325.6 665.7h0M319.9 672.6h0M318.0 665.0h0M324.9 668.2h0M323.3 677.0h0M322.1 672.0h0M314.9 677.4h0M313.1 668.6h0M303.1 679.9h0M311.1 666.9h0M313.5 676.2h0M320.2 685.9h0M323.4 675.7h0M311.9 695.3h0M323.3 670.4h0M322.1 661.0h0M316.4 690.5h0M321.2 675.5h0M317.7 669.9h0M319.5 665.7h0M320.3 652.5h0M322.0 675.3h0M315.3 686.1h0M316.0 670.8h0M325.2 671.7h0M319.3 657.8h0M316.6 693.6h0M323.7 686.3h0M317.8 666.1h0M319.6 677.2h0M307.4 683.2h0M317.6 678.5h0M314.6 679.1h0M325.8 682.8h0M323.1 676.6h0M318.1 692.9h0M310.4 693.4h0M322.4 683.9h0M329.8 672.7h0M315.6 676.4h0M330.0 660.0h0M319.2 675.5h0M326.2 676.2h0M322.4 672.9h0M310.7 664.5h0M311.3 670.8h0M327.7 658.8h0M316.8 662.2h0M321.2 668.4h0M325.4 657.9h0M327.0 654.8h0M319.1 673.0h0M315.4 688.0h0M309.7 664.4h0M331.4 638.1h0M315.5 679.6h0M305.7 666.5h0M312.8 698.6h0M305.4 671.9h0M325.6 659.8h0M322.2 665.6h0M330.8 671.3h0M327.4 664.6h0M317.4 665.0h0M320.0 661.8h0M320.5 676.7h0M323.2 670.6h0M322.5 682.0h0M327.2 683.3h0M316.4 680.3h0M315.3 685.9h0M318.3 657.8h0M315.2 670.4h0M319.7 665.1h0M320.8 666.6h0M323.7 647.6h0M312.4 669.4h0M310.5 694.3h0M320.9 687.3h0M318.8 681.8h0M317.8 670.5h0M312.1 668.9h0M321.5 668.4h0M316.5 669.6h0"/>
<path d="M314.8 677.1h0M321.0 684.9h0M328.2 666.5h0M316.1 671.9h0M329.9 668.4h0M313.5 661.3h0M324.2 664.0h0M319.1 667.0h0M328.1 680.8h0M324.6 656.2h0M298.6 681.4h0M320.2 678.8h0M330.4 664.2h0M318.1 690.9h0M320.7 670.2h0M315.3 673.7h0M322.3 664.4h0M325.5 678.1h0M316.9 678.5h0M316.3 672.2h0M304.2 669.5h0M324.8 665.1h0M312.9 672.5h0M315.3 670.0h0M327.4 675.6h0M327.5 670.4h0M323.8 690.9h0M312.8 697.9h0M315.1 679.7h0M321.4 665.7h0M317.6 655.8h0M307.5 684.1h0M319.6 678.7h0M324.9 654.7h0M316.4 682.4h0M319.2 674.8h0M318.3 682.8h0M322.9 679.9h0M317.3 666.9h0M321.5 652.8h0M317.5 673.1h0M326.0 672.4h0M315.0 677.2h0M312.0 678.4h0M318.2 682.9h0M326.2 665.3h0M325.5 669.7h0M311.4 668.5h0M309.9 669.2h0M316.3 675.8h0M314.5 675.5h0M311.7 689.4h0M315.3 674.9h0M323.9 669.9h0M318.6 689.8h0M312.2 685.7h0M323.2 664.1h0M314.3 686.6h0M321.3 665.5h0M319.9 682.9h0M313.7 658.9h0M315.4 662.8h0M314.5 683.2h0M321.6 695.5h0M315.4 682.5h0M326.2 676.1h0M331.7 667.6h0M327.7 665.3h0M311.9 695.6h0M312.9 652.7h0M316.4 681.7h0M328.7 657.4h0M324.9 659.9h0M316.8 670.4h0M304.9 688.1h0M327.4 680.9h0M322.1 674.7h0M316.4 673.5h0M306.2 661.8h0M335.4 670.0h0M326.7 681.8h0M319.6 674.4h0M323.6 672.1h0M317.3 675.5h0M316.0 673.9h0M324.9 684.9h0M310.8 686.4h0M307.6 688.4h0M321.7 670.7h0M314.5 667.5h0M324.6 654.0h0M316.9 656.3h0M310.6 700.8h0M311.2 689.9h0M318.7 664.3h0M306.9 672.2h0M315.1 682.1h0M324.5 648.9h0M320.4 673.5h0M328.2 658.6h0M316.1 659.7h0M313.7 673.1h0M326.8 684.5h0M317.6 669.7h0M319.7 674.4h0M316.1 674.6h0M325.1 668.9h0M314.1 689.8h0M319.6 674.3h0M321.8 664.7h0M316.2 672.5h0M324.2 656.4h0M321.6 677.4h0M317.4 679.8h0M324.8 685.0h0M326.5 672.3h0M319.2 697.8h0M314.9 670.3h0M332.6 657.3h0M322.8 664.5h0M314.0 668.5h0M327.8 656.3h0M316.2 681.9h0M322.3 658.8h0M316.8 681.2h0M332.6 662.0h0M321.4 663.8h0M329.3 672.8h0M318.4 680.7h0M316.8 680.7h0M323.8 679.1h0M325.6 665.4h0M323.4 662.1h0M313.1 668.6h0M314.4 696.3h0M321.3 672.1h0M319.1 669.3h0M318.6 659.1h0M317.7 685.8h0M325.0 680.7h0M320.5 681.7h0M316.8 667.4h0M319.0 678.1h0M312.1 691.3h0M316.3 674.7h0M313.5 694.8h0M329.3 660.6h0M310.1 678.8h0M317.6 670.6h0M325.0 685.0h0"/>
<path d="M328.5 670.8h0M320.5 662.6h0M317.5 677.8h0M312.0 662.3h0M315.6 671.5h0M326.1 663.9h0M325.3 669.1h0M317.2 682.8h0M315.3 691.6h0M324.6 671.4h0M325.2 674.4h0M322.7 671.6h0M319.7 663.8h0M321.3 674.9h0M328.5 693.4h0M316.0 671.2h0M311.7 666.6h0M313.7 664.2h0M315.3 680.9h0M312.1 666.1h0M328.3 682.5h0M316.6 686.6h0M316.0 681.6h0M311.6 681.7h0M324.9 669.3h0M310.1 681.5h0M313.6 680.8h0M317.6 672.5h0M325.9 673.4h0M335.0 676.9h0M326.5 674.1h0M318.3 671.2h0M308.8 662.8h0M317.1 664.8h0M317.0 688.5h0M316.5 668.7h0M313.3 682.9h0M328.4 673.9h0M325.3 660.5h0M318.0 664.8h0M323.1 659.5h0M310.3 683.4h0M326.8 667.4h0M320.4 661.4h0M321.1 677.2h0M330.4 663.1h0M316.8 679.6h0M321.4 670.5h0M313.6 662.9h0M305.4 681.3h0M326.9 672.0h0M315.4 672.8h0M321.3 657.1h0M308.3 680.7h0M322.3 665.1h0M329.9 655.5h0M322.2 665.1h0M317.2 676.3h0M316.3 684.5h0M325.8 679.8h0M314.4 659.2h0M314.4 668.8h0M319.4 680.9h0M327.9 653.0h0M323.1 680.5h0M318.1 678.5h0M320.9 649.5h0M317.0 677.0h0M320.6 663.7h0M306.8 671.4h0M323.5 677.7h0M313.4 681.5h0M310.0 687.3h0M315.3 680.2h0M314.5 689.4h0M317.2 675.9h0M320.1 669.4h0M313.3 674.6h0M319.6 666.5h0M318.2 684.6h0M317.4 676.0h0M327.7 689.4h0M330.2 680.8h0M326.6 666.3h0M318.1 659.0h0M313.5 672.9h0M317.6 690.9h0M319.3 694.2h0M315.0 664.8h0M320.6 673.1h0M334.4 664.2h0M319.7 679.4h0M315.5 683.9h0M331.4 683.7h0M317.3 685.7h0M330.3 656.5h0M323.0 658.5h0M319.5 667.1h0M326.2 673.1h0M324.4 657.6h0M311.6 667.1h0M314.2 667.6h0M318.6 674.5h0M319.9 676.6h0M332.4 673.0h0M320.4 685.4h0M320.4 665.2h0M315.1 681.4h0M323.1 688.1h0M309.4 664.4h0M319.7 677.8h0M317.1 651.0h0M318.9 670.6h0M322.8 682.2h0M318.5 685.0h0M315.3 659.3h0M317.5 658.5h0M323.1 665.6h0M325.8 667.8h0M315.1 665.7h0M323.8 672.3h0M317.6 676.5h0M323.2 661.6h0M317.8 681.8h0M315.5 663.2h0M313.0 683.1h0M326.3 686.9h0M326.3 669.7h0M323.4 676.1h0M318.8 668.4h0M327.4 660.0h0M323.4 690.1h0M320.0 681.2h0M315.0 691.6h0M315.3 668.2h0M325.5 671.1h0M329.4 669.4h0M321.8 686.2h0M315.7 662.7h0M316.1 665.8h0M325.2 667.2h0M315.7 674.0h0M310.2 666.9h0M323.9 680.5h0M321.2 663.1h0M313.1 675.0h0M327.3 666.4h0M318.9 675.3h0M329.6 660.9h0M327.4 654.2h0"/>
<path d="M324.7 668.4h0M308.5 670.3h0M328.5 660.9h0M318.5 657.0h0M323.3 669.2h0M320.6 657.8h0M315.0 678.6h0M316.0 662.4h0M322.3 673.2h0M321.3 650.2h0M330.0 667.9h0M321.3 668.4h0M321.3 682.8h0M322.6 669.8h0M313.1 667.1h0M322.8 663.2h0M330.9 653.8h0M325.3 659.1h0M312.3 684.8h0M306.4 690.3h0M317.5 664.5h0M322.5 664.0h0M321.2 659.4h0M324.0 677.2h0M307.0 658.3h0M318.1 690.3h0M320.1 669.7h0M320.8 682.9h0M327.5 659.9h0M330.8 676.2h0M321.6 685.9h0M328.5 670.0h0M324.6 666.8h0M328.1 668.7h0M318.1 687.2h0M327.4 663.1h0M325.8 677.0h0M312.8 695.3h0M324.8 666.3h0M312.1 670.5h0M323.0 668.5h0M324.5 662.9h0M310.7 670.6h0M314.1 667.5h0M312.2 676.2h0M321.0 656.7h0M323.1 672.7h0M312.9 675.4h0M312.1 684.0h0M319.1 660.3h0M318.1 684.0h0M329.5 666.3h0M321.4 693.8h0M326.4 664.5h0M310.9 670.6h0M320.1 679.1h0M314.1 676.3h0M324.1 680.0h0M312.6 673.8h0M318.0 680.0h0M331.8 671.5h0M316.1 662.2h0M321.9 667.4h0M321.2 673.0h0M323.1 651.8h0M325.8 674.3h0M323.4 665.6h0M322.1 659.1h0M317.5 689.1h0M320.5 666.8h0M318.7 679.2h0M313.1 678.5h0M324.2 680.9h0M324.7 671.2h0M316.0 684.0h0M322.0 681.4h0M314.5 672.0h0M313.3 666.0h0M319.2 666.9h0M312.9 673.7h0M316.4 682.8h0M321.3 669.0h0M315.4 677.8h0M322.5 678.7h0M315.9 684.0h0M325.0 668.8h0M330.1 657.0h0M329.8 666.5h0M311.4 689.8h0M322.4 672.2h0M315.6 688.9h0M313.1 677.2h0M329.1 674.1h0M313.7 685.8h0M329.8 674.9h0M314.9 668.0h0M323.7 673.8h0M312.6 688.4h0M316.6 675.7h0M318.6 671.3h0M322.8 670.3h0M317.2 664.7h0M322.9 679.5h0M322.6 690.3h0M325.7 666.3h0M312.0 678.9h0M316.1 681.2h0M320.8 662.1h0M315.1 669.4h0M316.9 681.2h0M311.8 678.3h0M315.9 678.2h0M317.8 683.6h0M315.3 671.8h0M312.9 677.9h0M317.5 673.1h0M329.3 663.7h0M314.5 669.7h0M327.8 645.9h0M310.2 667.8h0M323.9 656.3h0M317.8 668.4h0M318.0 674.4h0M320.2 680.1h0M323.0 674.9h0M325.9 682.4h0M314.0 650.6h0M328.8 687.6h0M319.5 659.2h0M327.1 670.8h0M328.8 678.3h0M316.7 670.1h0M309.8 670.0h0M305.6 661.4h0M316.5 688.1h0M319.3 675.1h0M323.1 673.2h0M321.6 674.2h0M321.6 681.4h0M320.4 665.3h0M335.9 669.1h0M324.6 662.6h0M315.6 659.1h0M320.8 676.8h0M322.1 664.5h0M328.8 657.2h0M314.1 667.1h0M311.8 672.0h0M326.6 679.8h0M326.0 659.4h0"/>
<path d="M334.6 650.5h0M318.8 676.7h0M323.0 668.8h0M324.3 681.5h0M318.3 670.7h0M320.2 664.4h0M313.7 660.0h0M322.9 680.7h0M330.9 644.9h0M329.7 652.8h0M323.3 662.3h0M324.5 666.6h0M328.1 669.7h0M320.6 666.7h0M314.8 669.4h0M324.4 672.9h0M316.2 686.5h0M323.5 667.1h0M301.3 662.5h0M312.6 680.1h0M325.6 670.4h0M322.8 680.3h0M315.6 692.5h0M311.7 668.6h0M318.8 679.0h0M316.3 674.7h0M322.6 659.1h0M327.7 670.7h0M316.9 664.2h0M323.8 672.8h0M329.9 679.3h0M315.5 665.5h0M327.3 673.2h0M322.8 688.9h0M312.3 669.5h0M316.6 671.7h0M318.4 673.5h0M326.5 678.2h0M320.1 662.1h0M316.5 674.5h0M316.3 672.9h0M317.0 674.5h0M330.4 660.7h0M325.3 675.1h0M326.9 678.8h0M307.8 698.2h0M313.1 671.2h0M314.4 680.1h0M324.5 685.0h0M327.5 667.0h0M325.3 688.1h0M309.7 667.6h0M314.9 673.4h0M308.7 671.2h0M333.1 661.4h0M333.5 663.1h0M319.7 687.5h0M323.7 665.8h0M323.3 682.8h0M310.4 689.5h0M328.2 683.8h0M329.7 671.4h0M328.3 664.5h0M305.9 670.2h0M321.3 654.4h0M330.8 672.5h0M322.2 655.6h0M321.4 669.9h0M329.9 663.8h0M316.3 659.7h0M328.6 661.5h0M319.1 654.1h0M313.4 673.2h0M306.4 676.5h0M320.3 683.1h0M308.3 672.1h0M322.0 680.6h0M310.7 671.3h0M328.1 651.6h0M311.0 681.0h0M311.2 674.8h0M332.3 666.8h0M317.0 660.9h0M318.1 675.9h0M328.1 668.4h0M313.5 671.4h0M321.3 699.5h0M318.6 664.0h0M311.1 682.7h0M312.3 683.1h0M323.1 680.8h0M315.8 668.0h0M310.9 673.3h0M318.7 683.7h0M320.6 663.8h0M322.4 671.2h0M320.6 677.0h0M325.2 660.5h0M331.2 661.1h0M323.2 674.4h0M317.6 678.3h0M317.4 689.0h0M308.3 680.9h0M324.5 671.5h0M316.8 664.1h0M315.2 670.7h0M318.3 670.3h0M319.9 673.1h0M315.9 673.8h0M319.9 688.3h0M312.0 669.4h0M319.1 673.6h0M322.2 671.1h0M319.9 678.9h0M311.7 678.1h0M318.8 667.7h0M318.5 671.9h0M317.3 675.6h0M316.7 685.9h0M313.2 672.1h0M317.4 679.0h0M332.0 658.7h0M309.2 680.3h0M333.3 675.5h0M323.7 671.5h0M328.3 673.9h0M316.7 669.5h0M324.3 666.7h0M320.2 661.5h0M307.7 668.6h0M308.6 698.5h0M317.4 659.5h0M317.0 671.3h0M324.2 672.5h0M322.0 680.8h0M306.6 672.1h0M323.9 672.9h0M317.4 679.4h0M329.0 659.6h0M320.0 680.0h0M317.6 666.8h0M315.7 680.9h0M317.5 671.0h0M321.0 677.7h0M316.9 676.6h0M305.5 678.2h0M326.3 669.4h0M315.5 684.2h0M317.3 689.5h0M317.3 679.5h0"/>
<path d="M322.8 676.6h0M325.7 664.4h0M317.1 681.5h0M298.2 666.4h0M320.3 676.2h0M337.3 655.6h0M327.0 652.1h0M317.7 674.8h0M310.0 683.8h0M314.5 681.5h0M320.7 687.5h0M329.6 669.1h0M315.4 667.8h0M319.7 669.0h0M315.8 675.9h0M324.6 680.4h0M324.1 655.3h0M319.9 696.3h0M331.1 670.6h0M321.9 666.2h0M321.0 679.1h0M324.1 672.4h0M313.4 677.2h0M310.4 660.6h0M327.4 666.3h0M320.9 653.5h0M324.6 673.1h0M317.3 673.5h0M319.8 673.8h0M318.0 679.8h0M316.0 661.6h0M319.3 684.1h0M310.8 682.3h0M317.4 674.9h0M322.6 676.8h0M318.3 675.3h0M309.1 676.2h0M327.5 655.6h0M319.4 665.6h0M314.6 657.1h0M325.4 675.9h0M317.9 674.8h0M326.6 667.7h0M320.9 677.2h0M321.6 667.2h0M328.2 680.6h0M312.2 673.5h0M317.9 677.3h0M323.8 666.3h0M318.0 660.5h0M307.8 680.5h0M317.0 690.9h0M323.6 682.9h0M321.3 675.0h0M337.4 665.5h0M313.5 675.4h0M309.2 682.2h0M312.5 668.1h0M316.2 677.5h0M322.1 676.9h0M322.9 677.2h0M306.9 667.4h0M322.1 665.7h0M316.6 667.0h0M316.4 670.5h0M313.0 668.1h0M326.6 684.4h0M319.7 675.3h0M321.2 681.8h0M309.9 661.0h0M306.2 686.2h0M323.3 684.2h0M320.5 676.3h0M322.4 670.7h0M319.3 645.4h0M317.7 676.4h0M300.1 686.4h0M330.2 667.9h0M311.3 667.0h0M320.9 668.7h0M307.0 683.6h0M319.1 674.1h0M330.5 682.4h0M320.8 668.0h0M316.4 687.1h0M324.4 661.6h0M314.8 678.7h0M311.3 684.0h0M318.1 668.3h0M321.0 667.0h0M315.8 677.3h0M331.2 676.7h0M319.8 678.3h0M315.5 674.7h0M313.3 679.1h0M317.4 659.1h0M319.2 673.2h0M312.5 683.7h0M317.7 665.8h0M327.0 663.9h0M323.8 684.6h0M308.8 665.2h0M313.3 674.8h0M331.4 671.2h0M318.4 666.8h0M329.2 675.0h0M324.8 677.7h0M318.3 681.2h0M319.5 660.6h0M320.0 674.6h0M335.0 678.9h0M312.6 681.3h0M312.8 677.3h0M318.7 664.2h0M315.8 677.0h0M318.3 682.2h0M324.0 678.8h0M316.4 672.4h0M314.8 686.4h0M316.9 650.4h0M318.4 668.5h0M321.0 666.6h0M327.0 680.9h0M331.1 674.0h0M325.7 675.2h0M319.8 676.4h0M320.9 673.1h0M317.9 665.6h0M320.7 651.2h0M322.4 676.8h0M329.5 658.9h0M317.2 689.4h0M316.4 676.9h0M301.9 676.6h0M306.5 678.1h0M315.4 690.6h0M312.7 679.0h0M313.2 671.7h0M317.9 669.6h0M323.0 684.8h0M313.5 682.5h0M322.1 678.0h0M318.1 677.0h0M324.2 685.0h0M319.2 674.2h0M314.9 665.8h0M317.3 659.3h0M310.3 662.0h0M304.9 681.3h0M311.2 664.4h0"/>
<path d="M320.8 661.3h0M314.2 682.2h0M314.3 664.4h0M320.9 674.2h0M322.0 655.9h0M313.4 684.3h0M322.5 656.8h0M314.3 673.1h0M318.1 664.8h0M316.0 670.9h0M322.7 673.6h0M321.4 665.4h0M311.3 678.1h0M321.5 659.2h0M326.6 658.3h0M327.6 676.7h0M319.3 668.9h0M329.5 677.9h0M314.3 697.5h0M320.1 672.4h0M312.9 684.1h0M316.3 678.6h0M315.5 687.3h0M311.0 660.7h0M319.9 675.4h0M322.6 661.8h0M313.2 691.4h0M321.3 685.2h0M318.2 661.5h0M320.5 671.2h0M313.1 658.5h0M316.0 664.5h0M313.3 678.5h0M322.2 669.6h0M318.7 693.6h0M318.3 677.3h0M321.3 680.8h0M317.2 669.1h0M309.0 677.2h0M316.2 682.8h0M324.8 664.1h0M323.4 666.6h0M323.9 670.1h0M316.5 678.8h0M315.8 678.9h0M309.1 679.5h0M320.0 687.1h0M317.7 680.9h0M325.9 664.2h0M309.3 671.3h0M316.6 665.3h0M320.5 670.0h0M315.1 665.1h0M326.1 675.5h0M318.0 686.6h0M332.0 668.5h0M329.5 682.4h0M316.4 674.3h0M321.2 661.1h0M317.0 674.5h0M314.9 674.0h0M311.1 678.8h0M318.0 671.1h0M320.2 655.2h0M316.1 679.2h0M318.6 671.4h0M331.1 639.9h0M318.7 684.4h0M317.9 663.3h0M323.6 652.9h0M323.8 668.9h0M320.5 658.9h0M318.5 672.6h0M320.8 673.0h0M315.0 660.1h0M319.7 669.7h0M325.6 682.0h0M320.4 693.2h0M311.3 670.8h0M315.6 660.4h0M306.4 668.6h0M322.2 678.5h0M312.1 680.7h0M333.8 663.2h0M318.4 662.4h0M320.9 676.0h0M318.1 671.4h0M318.0 669.9h0M316.7 673.4h0M317.9 676.9h0M323.7 660.6h0M322.3 667.7h0M325.3 681.3h0M315.9 679.0h0M320.4 667.0h0M323.1 671.5h0M325.9 660.7h0M315.5 671.4h0M321.5 659.8h0M324.5 674.6h0M315.8 679.8h0M313.6 670.9h0M315.4 691.0h0M321.6 676.8h0M325.4 676.7h0M317.1 678.7h0M320.5 674.9h0M316.6 698.5h0M321.3 660.1h0M320.6 655.7h0M317.2 691.3h0M313.9 684.1h0M322.7 671.4h0M310.0 688.4h0M312.7 678.2h0M314.0 673.4h0M318.7 684.2h0M314.8 686.9h0M316.3 685.3h0M315.2 686.1h0M320.4 687.5h0M318.2 650.4h0M315.2 669.8h0M314.8 688.7h0M308.4 679.2h0M319.3 667.7h0M322.8 698.5h0M323.8 677.4h0M328.9 688.7h0M321.2 675.5h0M321.3 659.3h0M313.8 673.4h0M325.5 673.8h0M317.7 685.3h0M319.0 680.1h0M323.2 679.3h0M322.6 675.9h0M332.3 656.1h0M328.2 675.8h0M321.9 662.1h0M302.6 678.1h0M321.1 669.7h0M324.6 677.9h0M313.5 679.8h0M314.1 682.2h0M314.0 661.4h0M326.6 680.2h0M327.2 673.3h0M320.1 672.8h0M314.8 691.2h0"/>
<path d="M312.3 673.3h0M326.4 665.1h0M323.2 670.8h0M319.9 676.6h0M312.7 650.1h0M326.1 649.7h0M319.1 671.0h0M326.0 677.9h0M328.5 674.1h0M306.3 674.6h0M307.8 674.6h0M317.6 675.8h0M328.0 647.1h0M310.8 681.8h0M310.6 659.7h0M324.3 670.2h0M318.8 681.5h0M311.4 680.2h0M326.4 682.0h0M316.7 675.2h0M306.3 693.6h0M330.4 670.3h0M319.1 668.9h0M318.3 677.7h0M326.1 669.6h0M328.2 685.9h0M324.7 682.3h0M320.2 690.7h0M318.9 668.9h0M310.9 673.6h0M331.0 666.7h0M325.5 671.5h0M327.4 691.2h0M327.5 678.2h0M320.1 675.9h0M320.4 677.5h0M320.4 669.1h0M326.7 658.9h0M319.1 681.1h0M311.2 682.3h0M317.7 662.5h0M332.1 660.9h0M309.8 673.0h0M315.7 661.7h0M328.1 670.0h0M322.0 672.8h0M328.0 676.1h0M318.5 673.2h0M317.1 662.3h0M309.9 681.3h0M319.8 661.2h0M324.3 683.3h0M313.0 686.2h0M322.4 651.8h0M317.8 677.3h0M321.1 689.9h0M317.0 667.2h0M318.9 684.1h0M306.1 659.4h0M315.2 680.3h0M315.6 675.0h0M326.0 660.6h0M315.3 677.0h0M324.0 678.7h0M314.5 691.9h0M323.3 675.0h0M323.1 675.1h0M322.9 670.6h0M314.1 676.3h0M323.9 663.1h0M316.6 700.5h0M324.0 660.9h0M325.2 666.2h0M310.5 653.0h0M324.6 675.4h0M320.9 648.4h0M321.5 678.2h0M315.6 665.1h0M319.1 660.4h0M314.6 686.5h0M321.0 669.1h0M316.1 673.4h0M310.0 687.0h0M329.6 679.0h0M318.7 679.9h0M315.6 679.9h0M317.8 673.6h0M318.5 680.0h0M325.0 676.3h0M320.0 671.7h0M318.2 671.3h0M321.9 670.2h0M328.3 660.3h0M318.8 684.0h0M316.7 689.2h0M315.4 674.9h0M312.0 668.6h0M307.3 676.6h0M322.1 679.2h0M319.4 661.4h0M323.7 662.0h0M325.5 677.4h0M322.7 671.4h0M317.4 663.4h0M318.7 668.1h0M319.3 683.7h0M329.8 667.3h0M326.3 661.6h0M317.5 671.4h0M322.9 660.8h0M328.1 678.1h0M320.7 668.8h0M328.2 650.9h0M326.0 664.0h0M320.2 667.3h0M322.4 671.8h0M313.9 681.9h0M320.0 669.7h0M323.0 667.5h0M316.2 673.1h0M305.9 692.9h0M324.2 668.0h0M313.1 669.8h0M314.6 683.4h0M324.0 671.3h0M329.2 686.6h0M316.4 671.2h0M315.9 684.5h0M322.9 664.6h0M314.4 674.8h0M318.5 675.0h0M326.6 675.4h0M325.6 680.5h0M308.1 672.8h0M316.9 685.6h0M323.4 670.1h0M318.4 690.8h0M316.4 661.8h0M319.5 679.6h0M314.2 679.7h0M311.3 674.4h0M316.4 669.6h0M320.8 677.5h0M328.8 682.0h0M313.1 683.8h0M327.9 681.3h0M321.4 679.7h0M309.8 690.0h0M324.5 667.0h0M325.9 661.6h0"/>
<path d="M319.8 660.8h0M321.2 685.2h0M317.6 672.1h0M323.8 679.3h0M324.1 681.6h0M320.8 680.6h0M316.6 652.9h0M320.2 670.0h0M311.9 670.0h0M320.9 679.2h0M312.0 683.9h0M319.8 667.4h0M306.5 692.4h0M321.3 663.7h0M326.7 683.8h0M323.5 663.5h0M316.4 672.0h0M320.2 672.5h0M317.2 680.7h0M320.1 663.2h0M309.7 671.1h0M315.3 678.4h0M312.1 673.7h0M323.4 671.2h0M312.5 686.6h0M319.3 657.3h0M310.3 674.0h0M314.0 680.5h0M323.2 668.8h0M323.3 666.9h0M320.4 674.9h0M319.5 694.2h0M319.2 680.4h0M325.9 671.2h0M316.1 690.9h0M327.9 661.6h0M314.4 674.8h0M317.6 688.4h0M321.2 662.7h0M322.2 667.6h0M316.0 670.5h0M316.1 693.4h0M332.3 666.4h0M315.1 676.8h0M327.4 666.9h0M321.3 663.5h0M325.2 672.9h0M315.9 675.7h0M326.7 679.5h0M324.5 664.4h0M305.5 669.5h0M314.5 688.6h0M324.8 649.3h0M333.1 667.7h0M312.9 663.3h0M306.0 657.0h0M316.3 677.3h0M318.8 691.0h0M323.1 672.5h0M311.1 686.0h0M315.0 687.3h0M323.2 668.7h0M327.5 687.9h0M321.6 668.9h0M323.1 683.0h0M329.9 676.7h0M301.2 673.7h0M320.4 683.4h0M315.4 663.2h0M323.0 674.3h0M316.5 662.3h0M318.5 677.0h0M316.0 670.0h0M322.8 666.4h0M319.2 676.9h0M337.1 673.1h0M316.7 673.1h0M322.3 660.2h0M321.4 684.2h0M317.3 685.6h0M316.8 665.2h0M330.4 683.4h0M319.2 670.6h0M307.5 680.4h0M328.7 664.7h0M323.4 680.8h0M324.0 663.7h0M325.1 670.8h0M319.5 660.2h0M324.1 681.4h0M317.7 667.2h0M322.1 663.4h0M325.4 653.9h0M324.4 675.0h0M325.5 671.1h0M324.2 656.7h0M325.7 667.3h0M326.3 665.6h0M314.6 666.7h0M322.9 674.6h0M320.1 663.8h0M322.3 673.8h0M327.8 668.9h0M320.2 669.7h0M302.0 674.5h0M316.5 678.9h0M321.8 676.2h0M304.5 691.2h0M317.9 687.9h0M317.1 696.6h0M328.4 666.9h0M328.5 665.5h0M334.6 665.0h0M328.5 668.8h0M314.6 663.6h0M324.8 686.1h0M315.7 681.4h0M321.2 671.8h0M314.7 673.3h0M314.7 667.7h0M320.4 663.2h0M312.9 690.8h0M317.3 679.5h0M322.9 662.6h0M328.2 664.8h0M319.4 670.7h0M322.4 654.5h0M316.6 693.0h0M318.3 683.2h0M312.7 668.4h0M323.1 663.5h0M320.8 669.2h0M315.9 677.1h0M325.8 677.7h0M315.6 661.9h0M329.5 667.5h0M315.5 676.3h0M326.9 668.2h0M317.3 671.9h0M330.2 665.0h0M319.0 660.9h0M324.4 684.2h0M314.6 666.0h0M313.4 678.3h0M316.7 663.1h0M311.3 675.4h0M299.6 676.0h0M328.5 680.3h0M318.2 684.6h0M320.2 673.9h0"/>
<path d="M312.7 680.9h0M321.1 671.4h0M322.2 667.9h0M330.1 668.6h0M327.2 671.0h0M311.8 682.4h0M318.6 672.7h0M309.6 680.0h0M324.6 688.0h0M317.9 676.1h0M315.3 678.6h0M312.7 676.6h0M310.0 680.6h0M318.5 664.0h0M310.6 661.7h0M318.5 681.6h0M328.9 652.0h0M328.2 653.4h0M323.0 655.9h0M311.6 668.3h0M315.4 682.4h0M311.7 678.7h0M324.7 677.7h0M315.2 674.7h0M322.0 675.7h0M320.5 674.3h0M316.1 680.5h0M330.4 681.3h0M326.7 672.3h0M321.7 670.8h0M332.3 662.5h0M312.0 678.4h0M321.5 680.4h0M317.5 670.7h0M324.9 675.1h0M329.6 664.7h0M320.3 684.4h0M323.4 667.8h0M315.8 650.9h0M321.3 665.1h0M316.6 681.1h0M333.9 667.4h0M322.8 668.3h0M320.0 683.1h0M326.8 660.4h0M318.5 662.5h0M336.3 680.9h0M308.5 703.2h0M316.4 671.0h0M309.4 672.9h0M317.6 691.4h0M324.5 675.0h0M306.0 666.1h0M324.6 667.2h0M314.8 677.1h0M325.1 678.4h0M320.6 676.0h0M325.8 665.6h0M311.0 670.1h0M322.8 691.6h0M324.2 670.0h0M326.5 683.5h0M328.2 667.7h0M319.5 668.5h0M324.1 679.8h0M328.5 662.0h0M319.1 687.2h0M324.7 683.9h0M318.6 683.3h0M324.3 682.9h0M316.4 678.9h0M314.6 658.6h0M316.2 675.2h0M321.6 668.9h0M320.3 667.0h0M324.4 664.7h0M322.4 661.4h0M321.2 682.8h0M325.7 688.9h0M314.3 674.3h0M316.7 657.9h0M322.1 674.5h0M326.8 670.2h0M325.6 678.3h0M322.7 668.7h0M325.0 656.8h0M322.5 665.3h0M318.4 674.6h0M308.9 695.3h0M317.6 673.7h0M312.0 680.3h0M319.0 669.5h0M320.3 662.4h0M319.2 670.2h0M320.8 684.8h0M309.9 667.0h0M331.1 638.3h0M318.6 690.2h0M310.3 677.1h0M324.2 670.6h0M318.0 677.6h0M333.9 656.2h0M315.0 673.0h0M314.2 676.3h0M321.3 678.6h0M318.2 673.7h0M311.1 658.1h0M321.0 673.2h0M329.4 679.3h0M311.9 677.2h0M318.6 665.0h0M325.6 671.5h0M312.5 659.0h0M322.3 684.2h0M317.1 678.1h0M317.4 676.2h0M315.4 670.5h0M309.8 675.2h0M326.5 670.0h0M318.6 659.6h0M322.8 671.0h0M317.1 667.0h0M319.3 663.1h0M314.6 672.5h0M323.5 659.2h0M316.4 657.9h0M324.6 665.5h0M325.2 687.3h0M324.2 665.5h0M314.3 667.7h0M319.2 664.1h0M318.7 673.4h0M317.2 680.2h0M314.0 672.6h0M310.0 689.1h0M311.4 682.7h0M321.0 662.8h0M312.3 664.8h0M319.2 668.4h0M313.9 687.7h0M313.5 686.6h0M330.5 658.6h0M322.9 676.4h0M321.0 674.6h0M319.0 663.4h0M316.7 684.7h0M320.4 673.6h0M306.8 679.3h0M318.7 663.2h0M321.3 665.3h0"/>
<path d="M325.5 664.7h0M306.4 690.8h0M323.9 674.8h0M324.5 654.9h0M326.3 669.6h0M316.0 664.5h0M313.8 674.4h0M322.1 681.9h0M307.6 680.4h0M322.3 665.9h0M313.7 693.8h0M320.7 678.3h0M312.1 684.1h0M332.4 653.4h0M320.8 683.9h0M319.7 678.1h0M317.7 679.2h0M321.9 674.0h0M323.5 670.2h0M320.5 686.9h0M324.4 675.0h0M317.7 683.6h0M311.1 692.2h0M323.0 668.6h0M311.4 676.2h0M323.9 668.2h0M327.9 650.6h0M321.5 663.4h0M307.8 676.0h0M313.1 666.8h0M327.1 673.3h0M308.5 674.9h0M303.6 676.0h0M317.4 658.0h0M309.6 680.9h0M323.6 673.1h0M319.6 668.3h0M330.8 655.8h0M312.7 688.2h0M317.0 664.2h0M322.0 679.3h0M318.3 663.1h0M318.6 676.5h0M309.1 675.1h0M320.6 662.3h0M317.4 677.6h0M335.6 670.1h0M315.2 675.6h0M319.5 674.7h0M312.7 677.0h0M314.7 663.2h0M304.7 680.6h0M310.0 680.7h0M318.3 673.8h0M315.2 655.2h0M310.7 681.7h0M323.1 660.8h0M324.8 642.3h0M316.9 670.5h0M319.2 672.2h0M309.0 684.0h0M321.3 679.3h0M328.4 673.4h0M326.4 675.1h0M319.2 692.2h0M316.9 680.8h0M314.5 677.3h0M319.1 675.3h0M324.2 669.8h0M314.9 665.9h0M315.6 670.7h0M318.4 672.7h0M318.0 669.2h0M318.2 685.7h0M330.5 670.3h0M321.7 690.8h0M314.7 676.6h0M313.0 670.6h0M326.0 669.9h0M316.7 671.7h0M321.3 679.7h0M318.1 683.1h0M318.0 682.2h0M314.2 677.7h0M326.2 672.7h0M324.7 676.3h0M322.6 674.8h0M331.8 648.5h0M313.5 660.7h0M312.9 674.3h0M320.9 683.4h0M311.0 692.5h0M308.7 686.2h0M319.4 680.2h0M321.6 674.4h0M314.1 645.7h0M315.0 670.5h0M324.7 684.6h0M312.5 669.7h0M317.8 677.4h0M309.1 668.8h0M312.4 675.6h0M317.2 674.4h0M318.2 667.8h0M300.8 657.7h0M318.5 667.5h0M320.3 681.1h0M313.6 661.7h0M329.0 666.3h0M321.2 673.5h0M323.0 659.4h0M319.4 682.7h0M324.7 676.4h0M316.5 666.8h0M318.7 675.0h0M301.6 677.2h0M328.5 658.5h0M329.5 673.8h0M315.3 706.8h0M318.0 656.8h0M326.1 661.4h0M313.6 684.7h0M323.8 678.8h0M321.4 684.4h0M319.3 667.5h0M315.3 669.7h0M311.0 668.9h0M315.8 666.1h0M327.4 677.9h0M317.7 672.1h0M321.6 678.3h0M323.5 672.0h0M317.4 672.1h0M310.7 689.6h0M324.1 664.1h0M326.7 671.5h0M312.8 682.5h0M326.2 676.9h0M317.9 676.8h0M318.5 679.4h0M316.0 674.0h0M317.8 673.3h0M331.9 665.4h0M306.2 686.4h0M316.4 673.0h0M314.5 690.6h0M315.9 676.7h0M314.1 672.6h0M322.8 670.7h0M328.2 665.7h0"/>
<path d="M314.9 667.5h0M323.1 672.3h0M328.2 681.3h0M318.4 661.3h0M318.5 658.2h0M317.1 669.2h0M325.2 663.5h0M331.4 671.6h0M317.3 657.6h0M315.2 693.7h0M312.6 677.5h0M327.3 667.3h0M324.5 673.1h0M330.4 661.4h0M326.2 673.0h0M313.5 689.6h0M312.3 670.7h0M315.3 692.4h0M327.8 683.1h0M329.0 672.8h0M323.1 676.6h0M320.2 683.5h0M317.9 663.2h0M319.8 669.8h0M308.6 657.4h0M312.0 674.6h0M319.5 671.7h0M315.0 673.3h0M310.5 686.3h0M314.9 672.2h0M318.7 654.6h0M323.4 683.0h0M321.5 677.2h0M321.9 680.4h0M316.7 678.3h0M317.7 654.9h0M318.9 668.8h0M322.2 669.8h0M328.6 676.6h0M322.2 685.0h0M320.2 683.1h0M326.4 671.8h0M322.3 693.3h0M321.8 662.7h0M323.5 677.0h0M314.7 672.4h0M321.9 682.2h0M316.4 669.4h0M324.4 671.3h0M320.3 668.1h0M307.1 674.2h0M327.7 666.6h0M320.6 691.5h0M329.1 683.8h0M322.4 670.1h0M319.7 675.0h0M312.3 663.7h0M328.0 673.6h0M319.2 694.9h0M320.6 672.9h0M324.9 670.1h0M319.4 669.3h0M330.5 656.2h0M331.6 664.4h0M313.0 680.2h0M320.0 678.9h0M319.3 676.9h0M332.2 668.3h0M331.6 661.4h0M317.0 666.9h0M321.2 668.0h0M314.1 667.5h0M327.6 672.1h0M312.2 675.5h0M318.1 659.7h0M329.9 669.2h0M311.5 676.5h0M329.2 658.9h0M329.8 675.2h0M323.9 652.0h0M323.9 670.9h0M316.5 675.5h0M317.7 681.9h0M312.4 666.3h0M321.0 663.2h0M325.2 662.7h0M314.9 676.3h0M312.6 680.4h0M326.3 656.2h0M322.4 680.2h0M319.1 666.9h0M324.3 663.6h0M319.2 682.6h0M320.2 675.5h0M309.9 660.7h0M315.7 685.3h0M321.1 685.3h0M323.2 683.0h0M316.8 667.3h0M322.2 678.5h0M314.5 675.9h0M320.6 670.2h0M324.5 669.8h0M308.7 675.8h0M320.4 662.8h0M320.1 682.2h0M320.7 667.5h0M308.2 702.2h0M328.0 669.0h0M319.4 667.6h0M316.3 678.7h0M322.1 671.8h0M318.1 673.1h0M308.9 680.4h0M327.3 666.8h0M323.6 660.6h0M312.3 681.6h0M326.6 663.6h0M309.8 674.7h0M321.0 656.4h0M324.6 661.0h0M319.0 669.2h0M315.1 671.4h0M319.4 690.7h0M313.2 662.7h0M319.3 663.3h0M322.9 680.4h0M309.1 684.8h0M323.4 669.2h0M314.9 685.7h0M319.8 683.7h0M325.1 652.8h0M329.6 667.2h0M316.9 686.2h0M326.2 669.0h0M321.9 681.5h0M323.7 673.1h0M324.3 670.8h0M320.8 686.1h0M325.4 661.2h0M317.4 681.0h0M318.2 662.9h0M313.4 677.8h0M309.9 697.2h0M324.2 678.8h0M319.5 665.6h0M315.0 668.5h0M309.8 693.7h0M315.9 679.7h0M324.4 654.6h0"/>
<path d="M334.3 671.3h0M316.3 661.8h0M324.4 668.6h0M327.7 691.9h0M314.5 669.1h0M310.8 697.8h0M320.8 661.2h0M325.1 660.0h0M318.6 658.5h0M314.6 687.1h0M335.5 668.9h0M307.6 677.0h0M324.8 671.9h0M322.5 670.0h0M324.1 675.1h0M316.5 679.0h0M311.9 678.5h0M312.1 677.1h0M315.8 669.2h0M325.7 672.2h0M319.2 654.2h0M334.2 665.0h0M320.3 666.5h0M316.1 674.7h0M317.9 669.3h0M313.6 693.0h0M325.6 670.0h0M321.3 669.7h0M328.4 669.1h0M317.9 684.9h0M325.4 663.5h0M311.7 684.9h0M314.9 683.5h0M319.6 668.4h0M325.2 663.6h0M329.4 661.8h0M318.1 652.6h0M322.6 669.2h0M321.3 677.9h0M315.3 686.2h0M320.1 682.1h0M314.2 679.0h0M319.3 671.3h0M321.0 668.5h0M313.7 668.3h0M316.9 674.3h0M320.6 675.6h0M321.8 667.0h0M321.7 657.3h0M319.6 682.6h0M317.7 674.7h0M333.4 667.7h0M324.2 672.0h0M323.1 690.9h0M317.6 667.6h0M314.4 670.6h0M311.0 675.5h0M321.9 655.3h0M314.5 676.4h0M318.7 662.4h0M311.5 680.5h0M312.2 679.2h0M328.5 663.4h0M328.3 663.8h0M319.5 670.9h0M321.0 666.5h0M317.2 682.9h0M330.2 677.6h0M319.6 660.8h0M323.6 670.4h0M320.1 672.2h0M323.7 670.1h0M317.2 685.4h0M312.8 676.0h0M315.6 674.3h0M312.1 677.3h0M310.6 678.2h0M315.3 676.7h0M330.3 666.6h0M323.8 677.7h0M326.5 674.4h0M316.8 668.4h0M319.5 680.8h0M318.1 675.5h0M317.6 670.8h0M324.8 674.3h0M315.2 667.0h0M320.4 684.4h0M324.0 680.2h0M320.5 671.9h0M310.8 677.4h0M310.7 669.7h0M309.9 665.3h0M319.2 672.4h0M307.8 656.0h0M317.4 683.7h0M318.3 663.6h0M309.2 669.2h0M324.4 686.3h0M330.9 662.3h0M314.9 678.4h0M314.3 662.5h0M319.0 682.9h0M330.0 677.2h0M318.1 669.0h0M315.8 670.9h0M315.6 682.5h0M329.1 663.8h0M320.8 675.1h0M331.6 648.6h0M316.3 677.6h0M318.7 675.4h0M320.5 668.5h0M322.2 680.4h0M321.3 680.5h0M327.7 651.5h0M317.8 669.6h0M310.3 670.0h0M322.7 661.5h0M322.9 680.6h0M320.7 678.2h0M310.7 666.8h0M318.2 656.6h0M324.3 664.2h0M320.7 676.5h0M307.8 684.1h0M327.5 674.7h0M313.3 689.8h0M320.1 667.1h0M317.0 689.2h0M323.9 674.6h0M324.3 665.9h0M310.1 678.0h0M324.3 662.8h0M318.9 659.9h0M328.7 675.2h0M310.4 674.6h0M324.9 683.3h0M324.4 670.2h0M317.1 668.5h0M326.2 678.2h0M331.7 681.4h0M316.6 665.6h0M323.2 670.5h0M322.4 669.3h0M318.9 667.7h0M311.8 677.4h0M315.2 677.4h0M314.7 665.4h0M321.8 673.4h0"/>
</g>
<g fill="none" stroke="#000" stroke-opacity="0.5" stroke-width="1.3" stroke-linecap="round">
<path d="M327.5 689.8h0M324.5 707.9h0M329.0 701.6h0M323.2 704.0h0M325.5 695.0h0M326.4 702.0h0M324.5 716.6h0M311.6 697.0h0M318.2 707.7h0M326.5 704.1h0M315.1 700.5h0M319.1 715.7h0M319.7 699.8h0M315.4 703.7h0M318.2 700.5h0M328.0 697.7h0M320.3 702.9h0M310.9 707.7h0M321.8 701.0h0M319.3 706.3h0M322.5 700.9h0M318.3 710.1h0M318.0 693.8h0M325.7 706.2h0M322.7 706.1h0M324.8 694.5h0M319.4 704.9h0M321.3 705.1h0M320.7 708.3h0M325.0 705.7h0M319.6 702.7h0M323.0 692.8h0M319.0 700.1h0M315.7 700.0h0M325.1 707.5h0M318.9 709.0h0M320.6 704.4h0M314.2 697.9h0M326.5 705.6h0M318.2 702.9h0M319.2 707.2h0M313.0 701.8h0M319.5 709.2h0M319.6 709.6h0M314.1 709.8h0M317.6 712.2h0M319.9 708.4h0M320.5 709.2h0M316.7 700.1h0M328.1 696.1h0M309.0 715.7h0M320.7 714.1h0M328.3 710.7h0M330.3 701.8h0M326.8 710.4h0M317.7 704.5h0M328.1 698.5h0M324.2 699.5h0M322.0 697.1h0M321.7 709.7h0M323.9 701.6h0M327.7 706.5h0M320.0 696.2h0M315.2 703.2h0M329.1 700.0h0M319.3 704.1h0M326.3 704.7h0M326.0 700.7h0M315.6 709.7h0M322.9 708.0h0M316.6 699.9h0M325.2 703.0h0M325.3 706.0h0M316.9 697.1h0M322.0 706.1h0M316.5 704.4h0M321.6 714.2h0M318.8 703.9h0M330.6 710.9h0M316.6 709.3h0M324.2 699.2h0M324.9 714.2h0M322.8 696.8h0M314.0 698.0h0M315.6 704.5h0M328.2 700.6h0M324.5 700.0h0M325.8 707.6h0M309.4 706.8h0M319.1 698.4h0M322.9 701.9h0M325.4 704.4h0M322.8 702.5h0M322.6 704.4h0M323.8 705.8h0M328.8 701.7h0M315.3 703.3h0M321.3 711.9h0M320.6 694.9h0M315.9 702.2h0M321.2 707.1h0M321.9 713.6h0M313.5 706.6h0M320.1 701.2h0M325.2 701.1h0M317.9 706.6h0M321.9 705.4h0M321.8 703.4h0M314.9 697.9h0M319.0 711.4h0M322.3 708.6h0M325.7 698.6h0M323.8 708.7h0M322.6 713.7h0M318.5 696.2h0M327.4 698.0h0M324.8 696.3h0M323.3 701.6h0M326.6 694.6h0M318.2 694.4h0M316.8 709.2h0M311.8 707.8h0M315.4 702.8h0M324.0 703.1h0M317.0 701.6h0M314.8 708.1h0M318.7 703.9h0M319.9 700.6h0M327.0 699.8h0M323.3 703.4h0M319.1 694.4h0M323.1 698.9h0M322.9 704.3h0M320.9 710.5h0M328.0 705.7h0M330.6 711.7h0M319.5 706.4h0M328.6 710.7h0M312.8 710.7h0M316.3 708.2h0M321.9 703.0h0M328.0 703.6h0M321.7 708.8h0M321.9 705.6h0M324.5 702.6h0M322.9 701.1h0M324.1 702.0h0M312.1 705.3h0M325.0 708.8h0M327.8 704.2h0M314.6 706.1h0M319.5 712.4h0M327.5 698.2h0M326.9 707.6h0M325.0 708.8h0"/>
<path d="M323.8 707.9h0M315.9 699.4h0M313.9 704.7h0M318.1 702.4h0M324.1 704.6h0M324.5 699.7h0M317.6 706.0h0M325.8 696.5h0M327.3 712.3h0M318.0 705.8h0M324.9 701.3h0M325.0 707.3h0M322.6 702.0h0M324.3 704.4h0M321.5 703.8h0M319.3 712.2h0M323.6 690.0h0M322.1 700.6h0M325.7 698.0h0M320.0 702.2h0M316.3 710.6h0M320.8 703.3h0M325.0 708.8h0M318.7 705.9h0M328.6 703.6h0M319.3 710.6h0M319.6 701.2h0M321.7 703.6h0M312.8 710.7h0M319.5 699.3h0M324.3 703.1h0M325.9 706.2h0M323.5 707.9h0M320.1 715.8h0M320.6 697.1h0M318.2 707.5h0M326.5 701.7h0M321.6 711.2h0M319.8 700.8h0M319.8 696.9h0M320.6 708.4h0M314.5 704.4h0M321.9 706.8h0M315.2 706.4h0M321.7 712.7h0M328.5 699.5h0M317.5 699.4h0M322.2 695.3h0M320.1 691.7h0M318.9 703.2h0M319.8 696.0h0M315.7 707.2h0M322.0 714.6h0M327.6 706.2h0M316.7 705.8h0M335.6 699.2h0M313.7 700.5h0M327.0 703.4h0M323.2 698.9h0M315.6 703.7h0M326.7 707.2h0M324.9 701.5h0M321.5 705.4h0M327.6 704.7h0M328.4 701.3h0M320.1 705.6h0M311.5 706.2h0M318.9 699.4h0M320.8 700.8h0M322.9 705.4h0M324.2 719.6h0M319.4 706.7h0M324.3 697.9h0M316.7 710.4h0M315.7 708.8h0M319.4 705.1h0M319.1 711.2h0M328.7 707.9h0M316.2 702.2h0M314.5 712.0h0M323.5 712.0h0M319.9 706.6h0M317.5 713.4h0M318.7 697.4h0M321.0 703.9h0M321.0 705.0h0M325.8 713.2h0M315.5 699.0h0M321.9 700.9h0M316.4 700.5h0M315.0 698.7h0M326.4 701.3h0M312.2 701.7h0M321.7 711.8h0M320.0 707.1h0M319.3 700.0h0M323.2 703.7h0M322.8 704.1h0M319.0 704.5h0M325.4 712.4h0M321.2 710.1h0M322.7 695.6h0M321.9 702.8h0M322.6 702.3h0M312.9 705.5h0M326.7 703.9h0M324.0 704.3h0M329.5 696.7h0M319.5 699.5h0M323.2 708.4h0M329.7 703.4h0M326.9 701.5h0M312.8 698.5h0M328.2 698.6h0M324.4 718.7h0M330.7 708.6h0M320.3 698.4h0M316.6 702.9h0M324.9 705.1h0M321.3 707.6h0M318.6 701.2h0M324.3 716.0h0M319.7 716.5h0M319.8 713.0h0M320.2 707.2h0M323.1 707.6h0M320.6 697.9h0M328.2 700.9h0M318.5 707.1h0M318.7 703.3h0M324.2 696.5h0M325.0 696.7h0M323.8 699.8h0M308.3 706.4h0M321.7 709.9h0M318.0 709.2h0M320.3 706.2h0M325.7 703.4h0M317.6 702.4h0M322.7 704.1h0M320.5 701.0h0M317.5 712.4h0M314.2 704.9h0M322.9 693.4h0M319.3 706.8h0M324.3 709.2h0M321.6 711.9h0M325.9 699.7h0M323.8 705.7h0M323.0 702.5h0M313.6 708.1h0M322.8 705.9h0M330.2 700.4h0M319.1 702.6h0M314.5 700.0h0"/>
<path d="M320.1 710.9h0M322.0 711.2h0M317.9 700.5h0M311.5 716.1h0M318.8 705.1h0M321.9 704.0h0M312.5 707.5h0M321.2 705.6h0M312.1 713.9h0M323.4 701.0h0M323.9 712.2h0M316.5 709.1h0M321.8 703.6h0M326.1 703.8h0M326.0 718.0h0M331.7 699.5h0M315.5 701.5h0M325.6 713.8h0M326.1 703.8h0M321.6 707.4h0M329.6 701.2h0M317.3 706.4h0M320.9 701.8h0M326.7 697.7h0M323.1 707.6h0M325.1 704.1h0M315.9 696.3h0M320.4 696.7h0M318.5 711.8h0M327.0 702.5h0M320.0 707.4h0M319.3 699.8h0M320.3 703.4h0M324.0 702.5h0M329.5 700.6h0M323.6 703.8h0M316.7 705.6h0M328.6 698.8h0M317.7 698.4h0M306.4 704.5h0M330.0 704.2h0M320.2 707.9h0M325.3 705.1h0M324.7 699.4h0M324.5 705.7h0M323.7 712.6h0M317.3 705.8h0M323.2 709.4h0M330.5 705.0h0M318.0 711.3h0M323.2 706.3h0M317.3 713.6h0M317.6 699.6h0M322.0 704.2h0M316.6 702.6h0M314.1 707.7h0M322.8 708.9h0M317.1 701.1h0M309.3 695.4h0M317.2 705.6h0M319.3 712.9h0M321.0 710.0h0M319.0 699.0h0M322.0 693.7h0M323.6 703.1h0M317.1 705.7h0M322.8 699.0h0M312.5 702.9h0M311.9 711.8h0M317.0 695.5h0M323.5 703.5h0M326.3 708.7h0M326.4 700.2h0M319.8 718.6h0M325.1 698.0h0M319.2 707.8h0M320.7 712.6h0M317.5 695.5h0M323.8 704.1h0M318.5 701.6h0M320.0 704.9h0M323.3 708.4h0M318.4 706.7h0M321.9 698.4h0M322.6 709.2h0M313.7 713.7h0M318.5 700.8h0M322.6 707.6h0M322.1 700.5h0M314.6 707.2h0M321.8 703.4h0M319.0 707.9h0M319.7 712.3h0M325.9 708.1h0M333.0 704.9h0M328.2 704.0h0M321.4 704.0h0M326.0 697.3h0M322.9 701.7h0M320.8 703.4h0M324.3 704.8h0M320.0 705.3h0M323.8 706.6h0M322.9 708.5h0M308.5 708.8h0M317.3 705.5h0M324.9 699.3h0M324.1 697.5h0M322.5 707.8h0M318.2 702.5h0M316.2 703.8h0M317.9 702.6h0M314.0 702.0h0M319.1 694.4h0M325.5 701.8h0M321.8 707.9h0M323.3 708.8h0M319.1 707.2h0M327.3 697.8h0M326.0 703.4h0M319.5 704.8h0M317.4 708.0h0M312.1 702.1h0M326.5 696.8h0M327.7 701.7h0M314.6 705.5h0M320.7 696.2h0M310.9 707.1h0M318.3 704.7h0M325.6 706.6h0M316.0 704.5h0M325.4 706.4h0M318.3 712.9h0M318.6 712.7h0M319.9 704.0h0M316.8 704.5h0M327.8 708.7h0M324.3 710.8h0M329.9 703.1h0M319.1 699.5h0M319.1 702.3h0M325.3 699.9h0M326.1 703.8h0M316.8 706.5h0M316.1 703.9h0M319.0 704.5h0M315.3 701.9h0M321.9 696.2h0M323.5 710.1h0M320.6 699.5h0M326.5 710.3h0M314.2 709.4h0M319.6 700.5h0M319.6 704.7h0M324.0 693.4h0"/>
<path d="M330.9 707.4h0M321.3 692.0h0M319.2 697.4h0M319.4 702.7h0M323.1 706.8h0M321.7 708.0h0M323.1 699.7h0M316.4 695.8h0M313.1 712.2h0M323.3 699.4h0M322.8 704.5h0M327.0 707.2h0M324.2 708.4h0M324.4 705.9h0M323.2 711.2h0M320.8 696.0h0M320.0 711.6h0M323.5 698.0h0M329.9 700.1h0M316.1 702.1h0M326.5 705.3h0M310.3 707.8h0M314.0 707.1h0M322.6 709.2h0M320.7 698.2h0M316.1 700.9h0M320.3 705.0h0M328.8 702.3h0M326.5 697.4h0M329.8 697.1h0M312.2 711.4h0M315.8 706.0h0M327.6 703.8h0M322.6 704.9h0M324.7 706.1h0M313.8 698.2h0M322.0 706.2h0M321.2 701.5h0M319.0 705.6h0M323.6 701.5h0M319.1 702.1h0M317.5 696.1h0M315.6 706.5h0M313.2 705.2h0M322.3 698.0h0M321.9 710.2h0M315.5 709.1h0M327.3 711.8h0M322.7 699.4h0M323.2 709.4h0M323.3 715.0h0M328.5 698.5h0M318.5 700.7h0M325.1 706.8h0M323.2 697.3h0M315.7 700.1h0M317.3 709.3h0M315.0 697.3h0M321.6 706.6h0M318.7 688.5h0M328.6 695.2h0M319.9 710.0h0M321.8 706.8h0M318.4 697.5h0M321.6 711.3h0M323.4 709.0h0M323.0 705.0h0M315.1 702.3h0M312.9 698.5h0M321.4 708.8h0M327.2 702.6h0M322.5 701.8h0M312.6 705.5h0M318.2 707.4h0M324.2 705.2h0M317.0 716.7h0M320.4 698.5h0M316.2 705.5h0M325.4 701.0h0M323.1 706.0h0M320.2 708.7h0M319.5 704.2h0M321.1 708.5h0M323.5 702.7h0M324.5 697.8h0M314.9 706.9h0M320.7 702.1h0M330.9 706.1h0M321.9 699.6h0M324.8 708.1h0M315.9 698.9h0M324.5 696.9h0M324.3 698.7h0M318.5 701.9h0M313.9 705.9h0M321.3 701.9h0M324.1 696.8h0M311.5 699.1h0M326.6 694.8h0M326.0 695.9h0M319.5 707.6h0M326.9 706.6h0M332.4 703.8h0M327.0 698.1h0M324.1 697.5h0M317.7 690.8h0M323.5 698.5h0M316.6 703.4h0M321.9 705.1h0M326.8 703.0h0M320.9 702.0h0M315.6 706.1h0M318.2 705.1h0M312.5 695.7h0M313.4 708.9h0M322.6 704.9h0M320.2 706.6h0M319.0 702.2h0M326.3 699.2h0M329.4 700.6h0M323.9 702.3h0M324.2 699.1h0M323.8 708.9h0M327.5 707.1h0M320.3 713.2h0M322.5 708.3h0M318.5 713.4h0M325.0 698.9h0M315.0 707.9h0M324.1 695.0h0M316.5 705.8h0M313.0 707.0h0M320.4 698.2h0M328.4 700.2h0M326.4 706.2h0M316.8 702.4h0M319.9 695.6h0M317.3 708.4h0M318.7 705.9h0M313.8 710.1h0M320.7 694.7h0M316.8 703.8h0M316.5 705.7h0M324.2 704.2h0M324.9 698.4h0M325.3 709.4h0M320.5 694.6h0M314.7 704.7h0M319.1 704.1h0M320.8 700.2h0M322.5 703.7h0M318.4 706.7h0M320.0 714.0h0M319.8 701.5h0M318.9 703.4h0"/>
<path d="M325.0 710.5h0M326.0 703.3h0M312.4 715.1h0M322.5 706.8h0M326.5 703.3h0M319.2 702.5h0M317.3 703.5h0M328.3 700.3h0M321.2 705.8h0M322.5 700.7h0M318.5 710.6h0M333.3 695.6h0M317.4 698.1h0M318.6 711.1h0M320.3 705.8h0M317.5 699.8h0M332.5 705.9h0M314.6 698.6h0M319.4 699.8h0M314.8 706.7h0M318.3 699.9h0M312.0 709.4h0M318.0 707.4h0M318.0 711.0h0M314.5 703.6h0M321.6 710.4h0M324.1 699.4h0M326.8 695.2h0M321.0 707.4h0M319.7 700.8h0M323.3 699.8h0M322.0 704.8h0M323.6 698.2h0M319.3 703.7h0M319.7 713.6h0M316.3 698.0h0M319.8 705.0h0M311.6 708.8h0M318.7 712.6h0M323.5 707.6h0M324.1 701.2h0M318.8 704.9h0M318.2 692.1h0M319.9 705.2h0M321.1 705.7h0M318.7 702.8h0M320.0 708.9h0M323.2 703.4h0M322.3 704.0h0M320.0 708.7h0M317.5 705.9h0M324.7 703.4h0M329.7 703.3h0M323.0 707.2h0M323.7 703.0h0M319.7 704.4h0M318.9 701.6h0M326.4 707.8h0M319.2 696.7h0M325.4 700.0h0M311.0 701.8h0M321.1 703.8h0M314.9 704.1h0M313.2 706.7h0M318.2 708.5h0M317.3 709.0h0M313.1 707.5h0M321.9 704.8h0M324.8 697.1h0M316.9 696.2h0M313.8 699.8h0M319.0 697.4h0M323.1 700.2h0M322.7 702.6h0M320.2 704.5h0M324.8 700.3h0M316.3 701.2h0M317.7 700.0h0M313.7 708.0h0M323.6 696.1h0M311.9 713.3h0M330.3 706.6h0M322.9 706.0h0M318.8 707.7h0M325.2 698.5h0M315.8 705.4h0M312.2 693.1h0M319.8 701.8h0M324.4 705.5h0M317.8 700.6h0M317.4 704.1h0M326.7 709.3h0M316.4 702.3h0M326.0 698.2h0M329.8 709.0h0M317.2 709.2h0M318.6 706.2h0M327.5 707.7h0M320.2 701.6h0M318.1 700.2h0M318.2 709.1h0M320.0 697.7h0M317.9 701.8h0M319.8 698.6h0M323.9 700.3h0M321.9 695.1h0M326.1 708.4h0M317.4 713.5h0M317.0 701.2h0M321.2 711.2h0M324.2 707.1h0M326.4 695.8h0M319.8 710.5h0M325.1 702.6h0M326.3 697.8h0M316.8 702.4h0M320.4 713.5h0M329.5 705.3h0M322.6 701.9h0M321.2 701.4h0M328.8 700.4h0M322.5 699.8h0M327.3 698.5h0M327.2 705.6h0M335.6 711.4h0M323.0 700.8h0M321.0 702.0h0M324.5 696.9h0M313.9 705.5h0M317.8 700.8h0M319.5 714.3h0M312.4 707.9h0M323.7 699.4h0M321.1 709.1h0M326.2 702.1h0M313.3 704.7h0M320.9 705.0h0M324.0 703.4h0M330.3 703.7h0M320.6 704.5h0M321.8 704.0h0M324.8 696.7h0M322.4 699.1h0M322.4 710.5h0M327.9 702.5h0M323.1 705.5h0M316.2 710.3h0M324.7 707.6h0M316.9 703.5h0M326.5 702.3h0M319.5 718.2h0M316.7 706.4h0M322.2 698.5h0M321.8 703.9h0M323.1 708.5h0"/>
<path d="M323.3 710.1h0M319.2 698.2h0M320.7 699.2h0M322.9 700.3h0M321.2 716.5h0M315.2 703.9h0M320.2 712.3h0M323.6 699.8h0M316.9 709.3h0M331.0 709.0h0M314.6 699.0h0M316.3 703.2h0M328.6 699.6h0M322.9 708.0h0M318.8 702.0h0M320.8 697.8h0M323.1 707.3h0M316.6 710.3h0M315.5 705.9h0M317.3 700.5h0M319.9 701.8h0M314.1 708.2h0M325.9 703.6h0M320.8 709.7h0M326.4 708.5h0M323.5 703.2h0M317.9 710.8h0M323.7 697.5h0M317.6 700.5h0M329.7 709.4h0M320.5 710.4h0M329.1 691.8h0M318.5 693.4h0M320.1 707.9h0M324.4 703.6h0M325.2 699.1h0M318.7 707.2h0M319.6 711.2h0M323.0 701.5h0M324.4 695.0h0M325.7 705.0h0M321.7 704.8h0M320.0 707.0h0M322.7 708.2h0M325.9 705.8h0M325.5 702.9h0M319.7 708.5h0M321.7 698.2h0M321.8 696.5h0M320.7 703.4h0M322.0 700.4h0M313.9 699.5h0M321.1 705.9h0M317.4 701.1h0M320.2 706.9h0M321.6 705.2h0M319.9 712.5h0M316.8 702.1h0M320.4 708.6h0M316.2 696.7h0M323.2 708.3h0M323.7 707.9h0M323.7 689.5h0M325.0 699.6h0M320.0 703.9h0M329.9 707.0h0M331.0 711.8h0M323.1 701.7h0M323.5 703.5h0M318.7 706.0h0M327.4 694.5h0M321.5 703.7h0M313.6 698.8h0M325.0 699.0h0M332.3 699.3h0M316.8 703.5h0M324.0 705.6h0M324.6 702.1h0M327.0 695.4h0M317.2 706.2h0M323.7 702.6h0M318.5 708.5h0M326.7 705.1h0M323.4 704.5h0M323.1 704.4h0M325.1 706.3h0M315.5 701.6h0M318.2 697.9h0M314.8 701.3h0M322.5 701.5h0M323.3 708.3h0M325.9 699.8h0M322.3 700.0h0M325.8 696.7h0M319.0 706.0h0M317.9 701.8h0M321.4 698.6h0M322.0 702.6h0M321.2 702.6h0M312.0 690.3h0M326.3 708.1h0M321.4 703.3h0M324.5 713.4h0M326.9 699.0h0M327.0 699.5h0M318.4 704.6h0M320.3 701.5h0M320.9 700.1h0M322.8 706.4h0M326.2 704.3h0M325.1 705.7h0M323.0 706.5h0M318.4 700.6h0M314.7 701.2h0M325.2 694.5h0M319.8 709.4h0M321.8 705.0h0M317.3 710.4h0M310.6 704.9h0M319.4 702.9h0M319.3 703.4h0M316.2 697.2h0M324.9 689.2h0M313.3 703.0h0M322.1 702.1h0M326.4 710.4h0M328.4 704.8h0M322.4 703.0h0M324.5 700.2h0M318.8 698.8h0M315.7 700.4h0M313.9 704.5h0M321.7 709.9h0M322.9 704.6h0M329.5 696.2h0M317.0 700.5h0M326.4 704.7h0M330.0 699.9h0M318.1 705.8h0M323.0 708.2h0M323.4 698.3h0M326.8 701.7h0M327.6 700.9h0M320.0 700.6h0M321.3 701.9h0M323.8 702.4h0M323.9 703.3h0M326.9 699.5h0M317.7 700.4h0M324.7 710.3h0M326.8 706.6h0M323.8 696.3h0M320.7 705.4h0M319.6 708.9h0M322.5 699.7h0"/>
<path d="M324.0 700.1h0M326.8 704.7h0M324.1 710.6h0M313.6 703.9h0M316.3 703.1h0M319.0 708.8h0M320.1 703.3h0M322.9 697.0h0M324.4 700.7h0M322.5 697.0h0M321.2 696.4h0M316.8 704.7h0M314.1 694.9h0M316.3 698.9h0M327.4 705.6h0M325.5 703.2h0M328.2 698.1h0M322.6 703.6h0M316.4 706.1h0M324.2 703.5h0M319.7 703.4h0M332.6 701.2h0M311.5 700.2h0M325.5 704.8h0M328.7 707.8h0M322.3 707.8h0M323.1 708.3h0M315.3 706.0h0M319.8 707.9h0M319.0 694.3h0M323.8 694.5h0M318.0 700.4h0M315.1 706.6h0M328.4 710.0h0M319.4 699.3h0M315.7 702.1h0M318.3 701.2h0M322.6 701.1h0M321.1 711.5h0M328.1 707.6h0M325.4 700.7h0M326.8 701.6h0M321.9 704.0h0M328.5 705.5h0M324.6 707.3h0M322.1 704.6h0M316.8 699.1h0M324.8 707.4h0M320.9 694.5h0M322.7 705.9h0M322.6 710.3h0M321.8 706.6h0M328.6 704.1h0M316.8 702.8h0M317.6 695.8h0M320.7 709.7h0M322.1 705.4h0M328.4 699.4h0M320.9 696.4h0M316.3 697.8h0M324.1 703.4h0M329.1 701.2h0M322.7 712.4h0M318.3 706.4h0M318.0 705.3h0M324.4 691.2h0M316.1 697.8h0M321.0 709.9h0M320.0 698.6h0M325.1 701.8h0M314.7 708.9h0M328.7 704.2h0M320.5 690.9h0M320.9 697.9h0M319.7 704.6h0M319.1 699.9h0M321.8 709.4h0M319.5 705.3h0M312.7 702.6h0M323.0 703.3h0M322.6 709.7h0M321.7 712.0h0M313.6 701.6h0M319.7 704.0h0M329.0 702.7h0M317.5 701.2h0M323.4 701.2h0M315.5 701.9h0M324.5 705.8h0M319.9 702.6h0M319.6 711.4h0M326.9 706.0h0M323.2 696.7h0M330.8 709.1h0M314.7 707.9h0M313.8 699.3h0M320.0 700.6h0M320.4 705.9h0M327.4 703.2h0M319.4 708.7h0M315.5 706.8h0M327.2 707.9h0M324.0 706.4h0M327.3 700.7h0M317.5 701.1h0M319.5 702.9h0M321.1 706.8h0M331.5 698.7h0M320.7 706.5h0M329.5 695.4h0M322.3 698.6h0M324.0 706.7h0M317.5 702.7h0M318.9 700.8h0M315.5 705.1h0M323.3 705.7h0M323.7 708.9h0M319.7 700.2h0M323.0 708.1h0M318.3 702.3h0M322.1 711.2h0M320.4 699.0h0M320.3 708.4h0M310.4 698.2h0M324.3 705.2h0M327.4 699.5h0M324.1 700.7h0M322.7 706.0h0M314.1 698.3h0M324.4 709.1h0M323.9 704.3h0M320.0 695.7h0M327.3 712.8h0M326.1 697.0h0M315.4 707.8h0M312.8 705.8h0M334.6 701.4h0M317.2 704.7h0M315.9 701.4h0M330.2 702.3h0M317.3 708.8h0M325.3 703.1h0M316.9 705.4h0M328.4 706.7h0M324.2 701.6h0M323.1 702.7h0M327.5 698.6h0M320.7 708.3h0M312.4 704.7h0M326.0 700.1h0M322.8 709.4h0M322.8 699.3h0M325.7 701.9h0M326.1 700.7h0"/>
<path d="M316.4 710.6h0M323.1 705.6h0M313.2 702.6h0M317.6 701.5h0M319.6 708.1h0M324.4 699.9h0M320.5 695.8h0M314.9 699.3h0M318.4 708.7h0M315.6 708.2h0M325.8 700.2h0M323.7 703.6h0M321.1 700.6h0M320.4 699.9h0M323.3 699.6h0M320.1 708.8h0M319.0 705.0h0M325.2 703.6h0M318.3 709.7h0M323.1 703.0h0M316.0 709.0h0M315.9 714.5h0M327.5 704.6h0M319.9 700.7h0M318.2 696.7h0M313.2 699.7h0M318.6 700.5h0M325.9 710.4h0M325.4 701.3h0M326.5 704.0h0M316.6 705.4h0M325.6 702.2h0M327.0 702.0h0M319.9 707.0h0M315.5 707.6h0M320.9 695.5h0M326.6 699.5h0M318.2 703.4h0M313.6 706.1h0M324.9 703.6h0M317.0 700.7h0M320.4 699.8h0M329.2 704.5h0M314.4 708.3h0M319.0 706.0h0M316.8 712.3h0M324.1 701.0h0M323.0 700.0h0M320.5 699.6h0M323.9 702.7h0M317.4 706.8h0M319.6 705.7h0M319.6 705.6h0M320.4 702.2h0M321.4 700.3h0M325.1 700.8h0M314.4 705.5h0M322.2 706.3h0M323.2 702.6h0M320.5 704.6h0M325.5 706.9h0M328.8 699.2h0M315.4 711.2h0M325.2 698.1h0M312.3 703.6h0M327.3 713.0h0M321.5 705.4h0M320.6 704.2h0M318.2 705.7h0M315.8 704.2h0M321.9 710.1h0M324.6 710.3h0M325.9 708.5h0M311.2 705.4h0M320.4 694.6h0M327.6 708.2h0M328.8 697.9h0M327.9 704.8h0M312.7 707.2h0M327.3 702.4h0M323.0 707.3h0M314.0 705.4h0M327.9 708.8h0M312.6 695.0h0M320.9 702.7h0M325.6 703.3h0M322.2 711.0h0M321.8 700.1h0M322.0 698.2h0M314.1 711.3h0M324.5 711.1h0M325.4 703.3h0M322.8 709.8h0M318.9 702.0h0M317.4 701.8h0M319.0 701.8h0M321.3 695.6h0M317.4 708.2h0M317.0 716.9h0M324.2 709.9h0M322.9 708.1h0M314.9 692.9h0M322.4 701.6h0M325.9 700.7h0M322.4 698.6h0M328.3 708.0h0M314.5 699.7h0M319.5 703.0h0M320.0 698.0h0M320.8 701.1h0M319.6 699.7h0M323.0 701.3h0M321.8 701.4h0M327.5 693.5h0M315.0 708.2h0M320.7 710.2h0M324.3 703.5h0M324.1 696.7h0M318.6 698.6h0M322.6 704.5h0M331.6 701.2h0M312.2 706.5h0M324.5 696.6h0M318.2 710.7h0M317.7 711.2h0M323.7 699.1h0M326.2 701.7h0M318.2 708.5h0M312.5 714.2h0M329.6 700.3h0M323.3 702.2h0M312.7 707.6h0M326.8 706.9h0M329.0 705.8h0M320.4 705.7h0M330.6 701.7h0M324.8 699.4h0M318.8 711.7h0M319.0 707.9h0M324.5 695.5h0M318.2 707.1h0M323.8 707.3h0M318.6 703.6h0M320.9 700.8h0M322.7 710.6h0M320.1 692.5h0M330.2 702.9h0M316.8 703.1h0M326.0 688.3h0M328.9 693.5h0M312.6 709.4h0M327.0 705.3h0M322.2 719.0h0M331.1 704.9h0"/>
<path d="M324.0 700.2h0M323.3 708.1h0M322.6 699.5h0M321.3 705.2h0M326.4 696.5h0M323.3 710.5h0M319.0 697.2h0M318.4 701.0h0M326.0 707.4h0M320.6 705.6h0M323.7 702.1h0M321.7 706.0h0M312.8 700.0h0M324.1 705.7h0M329.1 702.1h0M320.0 697.7h0M322.6 694.0h0M321.4 699.6h0M309.5 707.4h0M323.1 704.1h0M316.0 699.0h0M319.2 698.4h0M327.7 691.6h0M322.0 704.9h0M318.9 702.8h0M321.4 710.2h0M315.9 709.6h0M327.3 701.8h0M325.0 711.1h0M316.1 696.8h0M329.4 707.0h0M317.0 705.6h0M315.9 705.1h0M318.0 698.8h0M319.3 701.9h0M324.1 707.4h0M321.3 706.9h0M323.3 701.3h0M333.4 707.7h0M321.3 701.2h0M323.1 699.8h0M318.6 709.6h0M325.5 705.2h0M323.1 704.6h0M320.5 697.9h0M320.9 702.6h0M326.3 700.1h0M324.3 701.0h0M318.6 702.7h0M314.5 703.2h0M325.9 706.8h0M322.7 705.3h0M327.1 702.3h0M323.8 698.9h0M320.4 698.5h0M320.3 697.2h0M322.5 712.0h0M320.3 703.0h0M320.3 704.2h0M320.8 705.7h0M319.2 705.0h0M317.3 693.0h0M319.9 707.1h0M326.5 708.1h0M325.8 707.7h0M326.8 705.9h0M315.2 700.9h0M310.1 699.5h0M316.7 707.7h0M324.3 703.3h0M316.4 700.7h0M312.6 701.5h0M320.4 709.5h0M315.9 697.8h0M324.2 708.3h0M316.2 707.4h0M325.9 715.4h0M324.4 704.0h0M316.0 708.4h0M325.6 709.1h0M326.9 704.3h0M325.9 697.0h0M320.3 696.1h0M318.3 705.1h0M325.3 705.2h0M321.9 708.8h0M335.0 707.0h0M321.4 702.7h0M318.3 705.2h0M314.9 696.8h0M317.4 707.4h0M319.4 700.7h0M309.5 705.2h0M312.2 704.8h0M318.8 700.7h0M314.5 701.7h0M314.0 697.5h0M316.9 711.1h0M321.4 703.1h0M309.0 704.5h0M314.2 701.7h0M319.4 705.5h0M321.6 697.8h0M320.3 704.7h0M331.4 701.0h0M328.1 704.3h0M325.5 702.4h0M317.7 707.3h0M322.4 701.5h0M327.6 710.9h0M322.5 703.1h0M325.0 705.0h0M317.1 697.6h0M319.1 705.2h0M327.3 703.4h0M310.5 700.7h0M321.5 706.5h0M321.0 706.8h0M324.4 701.9h0M316.8 707.1h0M320.6 707.3h0M313.8 708.3h0M317.6 693.6h0M321.5 705.1h0M332.7 698.4h0M320.5 707.9h0M325.2 706.8h0M319.0 704.8h0M312.5 698.3h0M320.8 704.5h0M325.6 705.3h0M319.1 709.9h0M323.9 705.4h0M308.3 701.1h0M322.0 703.7h0M321.2 698.8h0M317.2 703.5h0M314.0 698.5h0M319.3 707.0h0M319.7 700.8h0M318.4 698.4h0M327.4 699.9h0M322.7 702.0h0M328.9 702.1h0M327.3 695.9h0M313.5 707.1h0M318.8 710.1h0M321.5 704.1h0M327.2 703.3h0M327.8 690.5h0M318.7 692.5h0M321.6 719.5h0M320.8 704.7h0M326.9 713.0h0"/>
<path d="M321.4 711.5h0M329.2 697.6h0M323.4 697.3h0M327.2 702.5h0M326.9 697.2h0M320.3 698.0h0M321.9 692.5h0M319.7 706.4h0M319.5 704.2h0M314.0 697.0h0M320.1 704.2h0M324.8 700.1h0M316.4 709.6h0M326.9 706.3h0M318.2 704.2h0M321.4 715.1h0M323.2 695.5h0M318.4 704.4h0M321.4 703.9h0M316.1 705.6h0M325.4 707.3h0M327.0 688.6h0M320.7 703.1h0M327.7 702.7h0M317.8 709.1h0M326.2 699.3h0M316.0 695.6h0M324.8 700.4h0M325.4 699.7h0M323.1 702.7h0M320.4 707.1h0M323.2 712.1h0M326.5 702.6h0M321.7 707.1h0M323.6 702.0h0M318.6 708.4h0M319.9 708.8h0M334.0 703.6h0M317.2 705.1h0M323.2 708.5h0M324.4 693.2h0M323.0 690.5h0M328.8 701.3h0M328.6 704.6h0M314.6 709.1h0M319.5 704.7h0M323.8 699.7h0M327.1 700.4h0M325.2 709.9h0M309.1 703.9h0M314.0 706.3h0M315.9 705.3h0M327.8 704.9h0M320.2 708.6h0M317.1 699.2h0M324.2 702.6h0M317.3 700.8h0M319.7 704.6h0M323.7 703.0h0M317.4 707.3h0M325.9 700.1h0M325.0 710.9h0M320.5 698.2h0M321.3 698.3h0M313.9 699.1h0M325.0 718.8h0M327.5 704.5h0M326.2 698.9h0M322.3 706.6h0M325.8 700.8h0M319.6 697.7h0M320.1 704.6h0M320.4 698.1h0M323.9 702.8h0M329.2 700.1h0M321.3 707.9h0M318.4 701.3h0M328.4 696.8h0M319.7 704.9h0M322.9 702.8h0M324.7 711.3h0M318.0 706.9h0M318.1 715.1h0M329.4 705.2h0M320.2 708.5h0M310.0 706.7h0M317.0 709.7h0M320.4 702.0h0M322.7 703.8h0M324.9 698.1h0M326.2 694.5h0M318.6 708.8h0M322.4 706.1h0M326.6 706.5h0M328.8 710.5h0M320.7 690.9h0M320.6 716.4h0M319.7 699.4h0M325.1 700.4h0M327.1 698.8h0M320.9 711.0h0M316.9 701.8h0M324.6 706.0h0M321.7 703.2h0M329.2 701.7h0M322.3 712.8h0M315.5 693.4h0M326.5 696.7h0M313.5 708.8h0M319.0 704.7h0M321.0 706.5h0M324.6 705.0h0M321.9 701.0h0M323.2 692.8h0M323.3 711.4h0M325.4 701.4h0M323.9 701.8h0M324.6 701.1h0M325.9 710.5h0M317.8 706.7h0M320.8 708.4h0M322.4 699.8h0M318.0 697.5h0M324.6 699.1h0M317.7 701.8h0M314.8 718.8h0M329.1 708.2h0M327.7 698.5h0M322.8 704.1h0M321.2 699.7h0M327.4 696.3h0M321.1 718.3h0M321.2 715.9h0M321.2 716.2h0M316.9 706.7h0M319.7 700.4h0M322.7 707.9h0M323.1 708.1h0M326.9 711.8h0M318.7 710.5h0M314.9 701.8h0M330.2 696.7h0M324.3 705.5h0M317.9 711.2h0M327.7 701.1h0M325.0 706.2h0M323.9 705.0h0M325.4 705.9h0M318.3 706.0h0M317.2 704.1h0M326.3 699.6h0M325.1 701.7h0M315.9 709.5h0M314.9 707.4h0"/>
<path d="M313.4 700.2h0M320.9 701.7h0M318.2 703.7h0M313.3 707.9h0M333.3 699.1h0M332.6 705.6h0M316.1 705.9h0M318.8 709.1h0M325.6 707.8h0M321.8 702.8h0M312.2 699.4h0M318.2 710.5h0M322.3 703.8h0M316.0 709.4h0M324.3 707.4h0M321.7 706.6h0M324.8 707.9h0M315.9 713.1h0M318.3 713.3h0M319.6 702.8h0M327.9 703.9h0M314.4 697.9h0M313.7 701.4h0M322.9 712.5h0M317.6 707.3h0M321.3 700.1h0M317.8 710.8h0M318.7 705.4h0M317.4 705.8h0M321.9 705.9h0M321.4 702.4h0M322.5 701.6h0M325.5 703.2h0M321.0 708.3h0M324.3 700.4h0M314.2 702.0h0M318.7 709.5h0M316.1 705.0h0M320.2 718.3h0M318.7 708.4h0M318.3 703.5h0M326.8 693.3h0M326.7 712.7h0M319.8 706.6h0M328.0 710.7h0M317.3 709.1h0M313.6 712.3h0M319.0 702.8h0M321.5 698.5h0M317.6 708.6h0M319.5 710.5h0M323.7 696.1h0M320.5 706.6h0M329.0 703.4h0M315.5 700.5h0M329.9 699.5h0M317.1 701.1h0M314.1 704.9h0M316.8 703.7h0M320.6 706.1h0M318.3 699.9h0M315.8 702.9h0M313.5 716.8h0M323.8 707.1h0M319.4 713.7h0M318.0 702.3h0M326.0 703.3h0M316.3 709.5h0M322.3 706.7h0M325.2 711.9h0M320.1 703.1h0M316.0 708.9h0M324.1 706.5h0M323.0 712.6h0M315.4 708.0h0M318.2 715.3h0M323.1 704.9h0M316.1 701.9h0M324.3 702.6h0M324.7 705.9h0M323.9 700.6h0M321.5 702.5h0M326.8 709.7h0M316.9 702.1h0M330.9 711.3h0M327.1 712.5h0M321.4 705.9h0M322.7 704.0h0M317.6 703.3h0M326.1 705.2h0M325.4 705.6h0M317.9 701.3h0M321.7 703.6h0M320.1 714.4h0M320.0 704.6h0M323.9 702.3h0M325.6 709.6h0M319.9 699.4h0M320.2 708.3h0M315.3 706.3h0M318.5 708.7h0M326.6 707.1h0M322.1 699.5h0M324.3 709.7h0M319.9 700.6h0M318.5 706.0h0M319.3 695.3h0M319.0 702.2h0M322.8 707.2h0M325.2 705.9h0M319.8 709.3h0M320.0 703.7h0M316.8 703.0h0M321.9 697.5h0M323.4 710.0h0M324.1 711.4h0M318.8 703.1h0M319.1 703.8h0M320.3 703.3h0M321.7 694.6h0M316.7 708.8h0M314.3 700.3h0M322.5 700.1h0M326.2 704.5h0M315.6 708.7h0M326.8 699.5h0M321.2 698.6h0M321.6 712.1h0M326.0 710.2h0M324.9 693.1h0M322.5 702.7h0M322.1 713.1h0M321.1 712.9h0M321.6 696.5h0M327.9 699.5h0M314.7 700.8h0M307.3 711.9h0M316.2 711.7h0M313.8 704.9h0M322.0 704.5h0M319.4 698.2h0M323.0 707.6h0M327.1 698.6h0M314.9 704.3h0M323.0 704.7h0M322.1 702.7h0M321.0 695.1h0M319.5 692.6h0M320.3 703.8h0M318.1 693.6h0M323.3 700.0h0M325.3 705.0h0M319.3 713.7h0M325.5 709.8h0"/>
</g>
<g fill="none" stroke="#000" stroke-opacity="0.5" stroke-width="1.3" stroke-linecap="round">
<path d="M315.8 695.6h0M313.7 693.6h0M332.1 691.6h0M311.7 697.4h0M311.8 701.9h0M315.7 690.4h0M321.2 695.5h0M320.2 689.9h0M330.5 693.6h0M323.5 689.0h0M322.9 701.4h0M320.8 699.3h0M323.2 697.0h0M318.5 685.7h0M322.3 697.9h0M318.7 689.3h0M321.9 700.0h0M323.8 700.7h0M324.1 699.6h0M316.4 702.8h0M317.6 696.2h0M319.9 686.5h0M319.3 689.2h0M327.0 696.7h0M324.0 691.5h0M319.6 688.5h0M319.9 690.7h0M322.0 693.7h0M326.6 695.5h0M318.8 689.3h0M323.2 694.5h0M320.0 689.4h0M314.0 697.4h0M317.5 695.7h0M321.5 693.1h0M321.5 695.8h0M321.9 688.3h0M322.7 688.6h0M311.6 690.6h0M330.0 691.8h0M311.7 702.1h0M328.6 680.7h0M320.7 689.6h0M328.5 695.5h0M320.2 686.8h0M332.1 687.8h0M319.8 681.7h0M323.0 678.4h0M323.6 684.3h0M315.6 691.2h0M321.9 693.8h0M315.6 692.0h0M318.6 698.9h0M321.7 687.3h0M322.5 684.4h0M319.8 690.3h0M321.0 693.6h0M323.7 683.4h0M315.7 692.7h0M320.6 679.1h0M327.1 689.0h0M317.1 692.5h0M322.4 692.8h0M320.6 698.6h0M318.3 693.4h0M311.8 693.0h0M314.0 688.4h0M320.2 692.9h0M321.8 688.0h0M323.5 682.3h0M320.5 694.4h0M321.8 696.7h0M316.3 691.1h0M314.8 697.4h0M320.7 689.9h0M321.5 704.9h0M319.0 693.4h0M320.5 694.5h0M321.4 690.3h0M319.3 710.9h0M318.1 702.9h0M316.0 694.0h0M312.4 697.8h0M318.9 698.3h0M325.2 690.9h0M313.2 686.3h0M314.1 695.3h0M324.8 697.0h0M322.6 694.1h0M320.2 693.4h0M317.0 690.0h0M318.1 692.0h0M324.5 697.5h0M309.3 691.2h0M314.6 691.4h0M319.1 695.0h0M319.3 698.6h0M320.3 694.5h0M327.8 700.9h0M321.1 693.2h0M322.2 688.6h0M323.7 697.4h0M307.7 688.0h0M322.1 696.8h0M311.9 689.7h0M323.2 689.3h0M316.5 687.9h0M314.6 695.0h0M315.8 694.5h0M323.8 691.1h0M316.5 693.2h0M319.1 695.0h0M310.5 696.9h0M316.2 698.6h0M321.2 685.3h0M327.1 699.6h0M325.3 690.2h0M316.6 692.9h0M323.6 691.0h0M319.5 692.0h0M313.9 698.9h0M322.1 692.0h0M325.3 685.6h0M325.2 697.2h0M324.5 684.5h0M322.0 691.8h0M319.9 692.3h0M312.8 693.7h0M325.6 698.4h0M326.8 690.1h0M318.4 702.5h0M316.8 693.7h0M320.6 696.8h0M320.5 694.5h0M321.8 692.8h0M319.5 684.6h0M320.2 694.7h0M312.9 688.4h0M329.2 693.8h0M313.5 699.9h0M315.3 690.9h0M312.2 694.5h0M316.3 694.4h0M314.7 693.1h0M318.7 690.2h0M317.7 692.8h0M317.7 689.9h0M310.9 684.9h0M313.8 694.1h0M315.9 700.5h0M319.9 685.2h0M316.1 697.0h0M323.8 698.3h0M318.6 693.2h0M317.6 690.4h0M321.5 687.6h0M314.2 687.4h0M314.6 698.7h0M319.8 700.5h0M322.2 695.7h0M315.9 695.8h0M319.6 685.9h0M326.3 691.5h0M324.2 691.5h0M321.9 688.7h0M315.2 694.5h0M312.8 693.9h0"/>
<path d="M323.5 694.6h0M324.4 687.2h0M319.4 687.3h0M320.5 694.6h0M326.2 685.9h0M325.3 696.1h0M319.9 701.5h0M320.4 691.6h0M320.2 689.7h0M321.1 688.9h0M309.7 696.3h0M317.5 690.4h0M321.2 691.8h0M320.0 694.8h0M321.5 692.4h0M327.4 690.1h0M329.1 686.1h0M322.1 691.8h0M326.9 696.2h0M327.0 692.4h0M323.3 695.2h0M312.6 705.1h0M328.7 683.4h0M321.1 685.9h0M323.8 689.1h0M319.6 689.0h0M318.2 695.5h0M316.2 688.4h0M320.3 692.0h0M319.9 688.6h0M321.7 690.1h0M323.8 691.8h0M315.5 687.5h0M316.1 696.6h0M311.4 695.6h0M324.9 688.3h0M310.9 695.7h0M322.8 692.3h0M318.5 693.6h0M327.4 688.6h0M321.8 696.5h0M326.9 693.9h0M311.0 702.8h0M317.5 692.1h0M313.3 699.4h0M314.0 688.9h0M317.4 693.5h0M312.4 689.4h0M309.3 698.0h0M314.3 687.7h0M318.6 704.8h0M321.9 698.2h0M328.0 689.5h0M314.1 695.7h0M328.6 700.4h0M318.0 695.6h0M317.0 696.4h0M317.9 691.3h0M323.5 692.1h0M323.7 697.5h0M327.2 691.0h0M323.0 691.5h0M323.2 695.6h0M322.5 696.9h0M322.3 692.6h0M317.1 693.5h0M320.2 685.8h0M326.0 684.1h0M318.4 692.7h0M322.6 696.6h0M326.4 693.3h0M321.8 690.2h0M317.7 697.0h0M322.0 699.0h0M318.0 688.3h0M319.7 693.5h0M319.6 696.6h0M319.2 692.0h0M320.3 699.0h0M323.5 693.0h0M322.2 691.5h0M323.0 685.7h0M326.4 701.3h0M322.1 693.3h0M325.8 693.4h0M322.9 682.6h0M314.6 693.8h0M318.3 699.2h0M314.2 696.7h0M315.3 698.3h0M320.8 697.8h0M318.3 698.3h0M317.6 689.9h0M324.2 688.8h0M322.3 688.6h0M318.8 694.2h0M330.7 699.5h0M316.6 684.8h0M314.0 689.3h0M311.7 704.8h0M324.6 699.6h0M324.7 688.4h0M319.6 690.0h0M319.7 691.1h0M323.3 696.8h0M319.9 688.5h0M320.3 696.0h0M321.8 685.3h0M325.5 697.3h0M318.8 703.6h0M328.7 691.5h0M332.6 688.5h0M320.2 683.7h0M317.7 686.2h0M313.9 688.9h0M321.1 692.5h0M320.0 691.7h0M322.5 702.8h0M324.7 695.1h0M315.8 694.3h0M317.8 689.1h0M322.2 693.7h0M324.7 691.5h0M330.1 697.2h0M318.8 691.5h0M324.8 690.6h0M326.0 683.2h0M321.9 692.7h0M319.8 693.1h0M320.3 690.0h0M313.4 697.8h0M320.8 689.2h0M328.1 684.1h0M324.2 694.5h0M325.9 687.0h0M324.3 698.3h0M317.6 688.9h0M318.9 690.1h0M324.8 685.2h0M323.0 693.3h0M318.4 698.9h0M320.4 698.1h0M321.7 692.5h0M319.0 680.9h0M324.8 686.3h0M316.4 690.6h0M322.8 690.9h0M321.8 701.5h0M321.3 695.5h0M315.3 697.1h0M324.4 689.2h0M321.3 696.1h0M329.2 692.9h0M321.6 686.5h0M322.1 688.2h0M326.0 695.9h0M319.4 698.1h0M323.9 690.0h0M321.5 692.5h0M326.4 689.0h0M325.7 701.3h0M317.5 695.2h0M328.7 695.2h0M320.6 698.4h0M319.5 695.5h0M324.8 694.2h0M327.8 691.0h0"/>
<path d="M321.3 693.6h0M322.7 696.3h0M315.2 685.6h0M312.7 683.9h0M321.1 693.9h0M325.1 694.3h0M321.8 695.7h0M316.7 697.5h0M313.4 696.9h0M327.7 693.1h0M322.0 691.6h0M329.3 697.4h0M320.1 694.9h0M320.2 696.7h0M323.7 697.4h0M322.7 690.8h0M313.8 677.6h0M324.9 688.3h0M318.4 692.0h0M320.5 694.5h0M321.1 681.0h0M318.4 692.6h0M323.1 690.1h0M324.6 697.6h0M321.9 694.9h0M314.8 698.9h0M319.1 689.9h0M327.1 691.2h0M328.7 689.2h0M321.2 686.9h0M327.0 702.3h0M321.4 696.2h0M318.7 700.5h0M322.2 698.6h0M324.5 693.7h0M320.3 695.3h0M324.2 701.0h0M317.3 686.4h0M320.7 694.2h0M317.0 690.9h0M329.1 694.4h0M317.9 698.7h0M307.7 694.7h0M317.5 694.6h0M314.2 688.1h0M324.3 688.9h0M320.7 700.2h0M319.0 693.3h0M315.4 681.7h0M325.4 686.9h0M313.6 706.4h0M323.9 690.8h0M326.5 695.1h0M306.5 691.8h0M315.1 692.9h0M328.8 692.5h0M318.0 688.3h0M319.8 685.4h0M319.4 688.9h0M320.4 688.2h0M316.7 692.3h0M318.2 693.1h0M321.9 696.4h0M319.5 686.1h0M327.8 685.9h0M323.8 706.0h0M316.8 699.7h0M321.1 692.7h0M324.1 689.1h0M316.0 692.0h0M319.4 692.2h0M318.9 689.3h0M314.7 693.9h0M323.2 687.8h0M319.0 693.6h0M320.1 691.8h0M322.6 688.6h0M320.1 696.0h0M315.9 696.6h0M320.0 685.8h0M320.5 693.2h0M319.4 680.1h0M314.3 693.2h0M323.4 690.6h0M321.6 687.5h0M327.0 690.8h0M319.3 698.8h0M320.2 693.6h0M313.0 696.0h0M319.8 697.1h0M314.2 690.9h0M323.9 692.8h0M323.8 702.7h0M324.7 693.7h0M323.3 694.2h0M315.8 700.2h0M320.4 693.8h0M322.1 693.1h0M324.2 698.2h0M317.2 696.0h0M320.3 693.7h0M316.1 690.8h0M316.5 697.6h0M316.4 694.6h0M320.2 687.6h0M329.2 699.2h0M326.5 692.1h0M319.3 691.7h0M316.3 690.6h0M308.3 691.1h0M319.1 693.9h0M319.5 692.8h0M319.2 693.9h0M324.3 692.0h0M319.8 692.4h0M329.6 692.4h0M317.2 695.1h0M311.4 694.3h0M322.8 690.8h0M315.5 689.1h0M324.3 690.6h0M310.2 701.0h0M321.0 699.0h0M317.6 687.2h0M317.1 699.8h0M326.2 702.1h0M314.5 688.7h0M320.4 697.3h0M327.5 694.2h0M320.4 695.0h0M315.3 694.9h0M314.7 690.2h0M322.7 690.5h0M320.4 700.4h0M316.0 700.3h0M316.8 687.2h0M322.9 695.2h0M321.4 695.3h0M317.1 698.2h0M319.8 687.5h0M315.6 690.5h0M329.5 694.5h0M315.3 695.0h0M323.3 702.6h0M320.5 694.0h0M323.5 688.5h0M316.4 694.9h0M318.1 694.7h0M316.9 702.4h0M326.7 702.5h0M315.3 690.7h0M324.5 690.7h0M319.2 688.7h0M318.5 692.2h0M322.7 687.7h0M326.8 688.4h0M323.8 695.8h0M308.4 690.4h0M328.0 699.5h0M322.4 690.8h0M324.2 698.0h0M317.7 702.3h0M328.3 691.4h0M329.6 692.7h0M314.6 691.6h0M319.2 688.4h0"/>
</g>
<g fill="none" stroke="#000" stroke-opacity="0.3" stroke-width="1.3" stroke-linecap="round">
<path d="M321.5 678.5h0M322.1 682.9h0M325.7 673.6h0M322.3 673.2h0M317.8 698.5h0M321.1 663.2h0M328.3 682.0h0M311.8 685.7h0M321.3 678.1h0M322.9 684.1h0M327.5 703.8h0M314.6 671.6h0M296.2 683.8h0M315.7 688.8h0M320.5 703.3h0M331.4 683.1h0M325.6 663.9h0M333.3 685.6h0M325.9 691.9h0M313.8 686.8h0M321.5 690.2h0M322.4 667.1h0M323.9 689.9h0M315.3 683.3h0M317.6 691.4h0M327.5 672.9h0M312.5 678.1h0M311.1 656.1h0M315.5 671.9h0M310.9 690.2h0M333.5 658.2h0M312.3 695.1h0M336.0 675.4h0M312.0 685.8h0M319.3 680.4h0M317.5 702.5h0M316.8 698.0h0M317.4 685.2h0M303.9 683.5h0M314.5 671.4h0M322.7 686.2h0M325.0 669.0h0M317.6 673.3h0M324.3 702.7h0M313.2 677.6h0M316.2 677.4h0M319.3 683.8h0M324.2 688.3h0M326.8 674.2h0M320.4 656.9h0M316.7 671.0h0M323.4 677.8h0M336.8 688.6h0M332.2 677.8h0M335.8 673.3h0M320.8 680.0h0M305.6 705.4h0M320.6 680.4h0M322.5 662.1h0M318.4 688.9h0M329.1 683.5h0M330.6 686.2h0M327.4 665.8h0M323.0 687.9h0M313.8 680.6h0M332.8 683.9h0M315.2 663.3h0M350.4 704.1h0M326.9 666.2h0M307.1 691.9h0M333.7 693.9h0M317.5 670.0h0M315.4 692.9h0M320.1 711.3h0M314.0 682.7h0M312.8 690.6h0M325.3 697.6h0M333.1 680.7h0M318.4 686.8h0M318.6 693.5h0M330.4 700.1h0M334.5 679.6h0M327.3 685.9h0M327.7 683.6h0M326.4 683.5h0M326.0 674.6h0M336.4 679.7h0M319.6 662.1h0M321.4 686.4h0M327.9 703.4h0M318.8 657.3h0M331.3 673.7h0M332.0 679.1h0M322.7 671.2h0M312.7 678.7h0M324.9 669.5h0M318.2 701.1h0M320.7 699.1h0M301.7 668.2h0M331.0 684.6h0M339.6 677.4h0M323.9 678.7h0M311.5 671.5h0M328.7 688.1h0M319.4 662.8h0M322.0 660.5h0M330.4 671.0h0M296.2 704.8h0M306.2 688.1h0M317.3 700.2h0M321.1 675.7h0M317.4 698.9h0M333.3 698.1h0M316.9 667.5h0M334.1 661.4h0M321.8 692.8h0M329.4 704.9h0M326.4 684.7h0M331.2 661.9h0M315.8 686.8h0M315.5 663.7h0M320.9 701.1h0M322.8 710.1h0M321.8 682.2h0M330.1 683.6h0M325.7 692.5h0M314.8 693.4h0M326.4 671.9h0M311.5 676.8h0M318.1 694.4h0M319.0 700.1h0M304.9 687.7h0M313.0 669.5h0M320.4 674.1h0M315.0 663.8h0M320.4 718.7h0M318.2 693.3h0M324.5 684.3h0M330.0 698.9h0M328.3 675.1h0M317.8 665.1h0M298.5 703.5h0M317.7 679.0h0M330.4 677.9h0M334.7 698.4h0M313.9 703.0h0M313.3 689.0h0M326.1 674.5h0M332.2 684.9h0M327.9 675.8h0"/>
<path d="M313.4 699.8h0M319.3 694.8h0M329.2 699.8h0M317.2 676.7h0M314.9 691.4h0M316.6 698.3h0M320.1 668.1h0M304.4 680.9h0M315.6 675.7h0M334.0 680.1h0M325.7 660.9h0M330.9 691.4h0M333.3 697.1h0M327.8 645.8h0M318.1 679.7h0M324.6 686.9h0M314.2 704.4h0M314.1 671.9h0M324.9 674.8h0M323.3 697.8h0M318.0 676.1h0M318.6 686.1h0M318.6 683.2h0M313.9 709.5h0M330.9 677.5h0M307.3 691.7h0M317.0 714.0h0M330.7 667.5h0M322.5 676.0h0M325.3 658.4h0M324.1 715.2h0M318.8 695.1h0M327.9 689.0h0M332.5 656.7h0M319.6 671.5h0M310.3 709.3h0M317.2 675.8h0M307.4 679.6h0M323.3 699.2h0M316.2 689.6h0M332.1 668.4h0M305.7 678.0h0M311.2 678.2h0M321.3 699.2h0M332.8 650.2h0M313.4 684.9h0M329.8 676.7h0M313.8 700.8h0M317.2 646.1h0M326.8 714.0h0M320.7 695.0h0M326.3 678.2h0M324.0 697.5h0M326.2 686.1h0M332.7 675.3h0M325.8 691.5h0M329.9 700.5h0M326.1 681.1h0M317.8 673.5h0M318.7 661.3h0M333.7 685.4h0M327.9 678.7h0M315.9 680.8h0M329.4 693.7h0M319.2 697.3h0M322.6 688.5h0M310.8 676.8h0M324.6 669.4h0M314.8 684.6h0M336.0 704.9h0M332.4 680.6h0M322.8 674.1h0M312.4 678.9h0M321.7 685.9h0M311.8 683.8h0M309.7 675.4h0M326.2 720.6h0M322.2 688.0h0M321.6 711.4h0M322.7 665.1h0M318.9 700.4h0M299.0 674.9h0M317.0 687.7h0M336.8 690.2h0M331.2 712.5h0M317.4 699.7h0M328.2 689.9h0M327.3 689.2h0M325.8 698.8h0M325.5 694.5h0M324.8 682.7h0M315.3 682.8h0M322.7 703.8h0M327.5 687.1h0M316.5 707.1h0M312.9 676.8h0M313.5 695.3h0M319.3 665.2h0M334.8 692.2h0M320.6 701.8h0M327.7 686.4h0M327.7 691.4h0M335.8 697.6h0M314.6 647.3h0M305.6 698.5h0M325.3 688.3h0M309.8 660.7h0M324.4 675.4h0M331.8 675.6h0M327.7 671.1h0M328.3 673.6h0M311.4 703.5h0M328.5 690.7h0M328.7 654.4h0M347.9 665.6h0M334.0 697.1h0M316.9 695.4h0M338.3 659.8h0M322.8 676.8h0M316.9 697.6h0M330.3 697.8h0M325.9 661.7h0M309.4 702.9h0M316.8 709.4h0M304.6 686.9h0M315.2 691.2h0M316.3 692.0h0M324.5 680.2h0M315.9 695.2h0M330.0 677.7h0M310.0 664.9h0M312.9 694.0h0M326.8 694.0h0M334.1 673.4h0M333.2 666.0h0M311.4 678.0h0M317.0 664.6h0M319.9 683.5h0M316.6 688.4h0M306.7 689.7h0M328.6 693.6h0M321.8 671.2h0M337.6 690.2h0M314.0 686.0h0M338.1 699.5h0M305.8 691.5h0M318.0 658.3h0M317.9 681.3h0M318.9 665.1h0M318.5 684.1h0"/>
<path d="M327.5 663.9h0M312.7 675.8h0M318.3 661.7h0M325.0 696.2h0M320.1 698.7h0M310.8 690.6h0M320.0 689.2h0M325.4 668.4h0M320.0 702.2h0M329.3 684.1h0M318.1 688.9h0M322.7 676.4h0M329.1 681.1h0M341.8 689.5h0M322.7 680.3h0M328.3 700.5h0M335.7 692.3h0M328.5 679.5h0M318.1 699.0h0M312.7 681.5h0M332.3 678.5h0M322.6 694.9h0M325.0 671.5h0M309.7 695.3h0M307.5 698.1h0M323.2 673.8h0M329.8 667.9h0M320.0 674.5h0M313.5 703.9h0M319.3 691.6h0M325.0 673.1h0M330.1 677.2h0M319.6 679.1h0M311.2 700.2h0M332.8 660.7h0M317.6 693.1h0M304.8 697.7h0M322.1 692.1h0M321.3 670.5h0M331.8 669.0h0M308.7 680.1h0M323.2 693.3h0M311.4 682.8h0M321.1 669.0h0M307.9 698.9h0M329.5 679.9h0M321.4 665.4h0M320.0 667.7h0M326.2 680.4h0M325.4 668.5h0M323.0 678.4h0M311.3 681.3h0M317.0 699.4h0M320.0 686.0h0M325.7 679.7h0M324.9 696.0h0M313.3 691.6h0M319.0 694.4h0M315.3 657.5h0M329.3 681.4h0M310.8 684.9h0M322.0 684.3h0M322.4 715.1h0M315.3 701.4h0M315.3 670.4h0M333.2 672.4h0M324.3 688.6h0M307.9 682.4h0M322.8 669.5h0M331.9 696.6h0M330.6 672.3h0M321.9 671.9h0M323.3 674.0h0M309.1 691.1h0M325.1 703.9h0M323.9 691.3h0M333.1 683.2h0M329.4 685.4h0M326.1 686.6h0M328.9 696.5h0M310.2 676.8h0M300.3 686.9h0M318.8 693.1h0M325.9 685.4h0M336.1 685.7h0M309.6 694.1h0M322.7 679.7h0M326.7 664.1h0M327.1 695.1h0M326.9 705.7h0M317.5 677.1h0M321.9 689.6h0M313.9 691.9h0M331.8 712.4h0M311.7 678.2h0M335.1 698.5h0M318.4 680.0h0M321.7 683.4h0M337.1 687.0h0M327.4 680.3h0M318.2 694.3h0M313.5 678.2h0M330.8 680.4h0M323.4 672.8h0M323.0 710.3h0M297.2 675.8h0M331.3 686.3h0M327.3 676.2h0M320.3 687.8h0M321.8 692.5h0M316.8 694.6h0M316.5 689.4h0M341.6 664.8h0M326.5 700.0h0M324.2 704.5h0M329.1 688.8h0M323.9 682.2h0M320.9 671.2h0M330.5 697.8h0M336.2 688.9h0M323.7 662.0h0M321.4 681.5h0M326.0 674.7h0M328.1 703.0h0M334.4 652.4h0M323.5 689.9h0M315.3 682.9h0M330.1 656.4h0M319.1 704.2h0M328.6 677.7h0M308.0 685.3h0M334.5 685.5h0M311.7 696.1h0M327.7 704.3h0M323.0 679.0h0M327.6 680.4h0M314.7 681.7h0M308.6 685.3h0M317.9 700.1h0M318.1 705.5h0M327.0 671.9h0M337.0 680.4h0M316.8 690.0h0M317.3 691.7h0M333.5 678.0h0M326.2 648.6h0M315.9 664.0h0M316.4 702.1h0M338.3 681.0h0M334.7 698.9h0"/>
<path d="M312.6 703.6h0M327.5 664.8h0M316.7 685.7h0M316.3 681.3h0M316.0 693.3h0M323.7 683.5h0M331.3 693.8h0M321.7 672.8h0M323.5 682.8h0M327.1 707.1h0M321.7 699.1h0M321.7 666.6h0M323.8 676.1h0M320.4 668.8h0M328.3 643.8h0M322.6 689.1h0M339.4 670.6h0M320.4 670.6h0M322.5 689.3h0M320.1 698.8h0M330.6 670.5h0M326.3 696.5h0M330.3 709.4h0M323.0 684.1h0M330.0 667.2h0M323.8 695.5h0M316.4 677.6h0M335.1 660.1h0M317.3 699.1h0M335.0 701.8h0M326.5 678.8h0M297.2 662.2h0M329.8 673.0h0M322.8 669.8h0M323.6 666.3h0M321.8 681.3h0M325.2 676.4h0M332.2 674.7h0M334.3 689.3h0M315.5 692.0h0M324.6 656.2h0M317.0 679.4h0M317.1 669.3h0M323.8 675.6h0M317.9 694.1h0M321.1 640.2h0M333.1 686.3h0M321.3 685.9h0M319.9 700.5h0M320.0 672.3h0M333.3 699.4h0M328.0 686.5h0M321.2 680.7h0M329.7 672.8h0M328.0 684.4h0M336.9 703.2h0M332.7 679.3h0M338.6 672.4h0M318.1 677.5h0M325.4 680.5h0M322.1 676.7h0M305.5 698.1h0M320.8 698.3h0M317.8 689.0h0M323.0 694.7h0M310.5 672.4h0M328.7 671.8h0M321.7 664.5h0M332.6 689.6h0M315.8 705.1h0M316.5 697.3h0M319.8 704.4h0M329.8 680.6h0M329.3 669.9h0M300.8 688.1h0M314.1 665.5h0M322.9 679.8h0M318.5 682.0h0M321.5 673.8h0M320.6 690.0h0M325.0 694.1h0M331.8 659.2h0M313.9 673.8h0M311.7 688.1h0M312.3 693.1h0M337.9 650.8h0M325.3 693.1h0M328.8 674.3h0M313.1 660.9h0M339.3 671.2h0M332.9 671.4h0M317.0 709.3h0M316.6 688.1h0M329.0 690.1h0M315.9 686.6h0M323.2 674.1h0M324.3 676.4h0M324.5 671.9h0M310.1 673.6h0M318.0 685.1h0M330.9 682.0h0M313.3 690.9h0M330.7 682.2h0M329.3 662.7h0M318.0 699.1h0M321.9 654.1h0M337.4 697.2h0M327.0 683.9h0M317.1 661.8h0M321.0 689.7h0M327.1 683.6h0M318.5 690.0h0M317.6 714.0h0M311.9 656.6h0M326.1 699.2h0M311.8 675.0h0M315.1 688.5h0M321.6 656.6h0M323.9 676.4h0M323.4 684.1h0M321.4 673.9h0M315.1 713.2h0M322.4 692.8h0M313.1 695.1h0M329.8 686.0h0M319.1 698.4h0M329.9 670.4h0M321.3 681.2h0M322.4 692.9h0M316.4 703.1h0M325.9 704.9h0M326.8 667.5h0M311.4 685.1h0M328.5 658.9h0M320.9 680.1h0M323.1 693.9h0M316.4 681.4h0M320.3 690.4h0M305.2 716.9h0M320.0 693.7h0M330.6 683.0h0M327.8 684.1h0M309.1 677.2h0M321.5 700.5h0M316.4 702.3h0M309.0 667.1h0M315.8 682.6h0M324.2 680.4h0M304.3 680.5h0M308.7 680.4h0"/>
<path d="M315.3 685.2h0M334.5 677.5h0M332.1 696.9h0M317.1 700.1h0M326.8 697.5h0M328.2 672.9h0M333.3 686.2h0M319.4 687.9h0M325.5 679.3h0M310.1 702.7h0M314.6 677.8h0M325.2 670.8h0M308.6 692.2h0M309.2 732.3h0M307.6 658.2h0M321.2 688.2h0M325.8 674.8h0M324.5 687.0h0M319.8 697.1h0M331.7 685.4h0M320.5 680.6h0M316.8 687.7h0M325.2 677.0h0M313.8 679.7h0M320.9 690.4h0M329.9 687.4h0M317.0 677.8h0M330.0 647.4h0M328.2 672.0h0M318.8 679.9h0M318.4 687.8h0M313.8 673.1h0M317.4 696.2h0M320.1 685.1h0M329.1 678.9h0M326.3 705.4h0M324.7 661.5h0M325.6 681.1h0M319.7 680.8h0M321.3 683.0h0M320.1 673.2h0M307.2 681.0h0M321.7 696.3h0M320.9 689.9h0M321.1 676.5h0M323.7 666.4h0M317.7 666.4h0M322.1 696.0h0M324.6 686.1h0M344.8 685.3h0M308.9 671.4h0M327.3 675.7h0M325.1 676.9h0M314.4 697.4h0M318.9 664.3h0M322.9 669.4h0M325.4 680.8h0M317.1 678.1h0M316.9 668.7h0M315.2 679.4h0M312.5 712.3h0M328.3 670.7h0M328.3 699.5h0M327.3 692.1h0M315.0 692.6h0M316.8 686.6h0M321.7 665.0h0M327.5 695.4h0M338.0 642.8h0M337.0 685.8h0M323.9 672.8h0M313.6 662.5h0M323.6 657.0h0M338.7 671.9h0M326.6 694.5h0M326.3 669.2h0M331.8 665.5h0M324.4 681.7h0M315.7 690.8h0M330.0 654.2h0M311.3 661.8h0M328.2 679.3h0M329.4 690.0h0M322.7 708.1h0M309.2 676.3h0M341.8 653.7h0M311.6 682.1h0M329.6 665.5h0M324.8 685.7h0M327.8 686.9h0M313.5 695.4h0M337.8 664.9h0M306.7 682.5h0M323.6 695.3h0M328.0 671.6h0M307.6 681.5h0M313.7 673.5h0M318.3 712.7h0M324.6 672.1h0M329.6 691.5h0M326.1 721.3h0M329.0 679.5h0M313.5 684.6h0M326.5 677.3h0M323.3 690.4h0M325.6 696.4h0M338.3 691.1h0M328.1 669.7h0M322.2 677.9h0M316.4 702.7h0M323.8 688.7h0M331.3 690.0h0M312.1 690.7h0M315.1 689.8h0M312.1 671.3h0M314.9 678.4h0M306.2 700.7h0M314.3 684.1h0M309.0 679.7h0M326.4 676.4h0M329.3 701.8h0M322.7 685.0h0M311.4 689.8h0M327.8 668.6h0M312.9 687.0h0M328.2 703.6h0M323.2 693.1h0M327.8 674.2h0M317.4 678.4h0M318.2 679.6h0M309.9 689.9h0M316.3 678.5h0M332.4 660.6h0M314.0 676.1h0M313.4 670.5h0M320.8 674.7h0M326.2 682.4h0M316.1 678.1h0M320.0 656.9h0M324.7 685.7h0M323.2 674.7h0M303.6 704.3h0M320.5 674.4h0M309.0 678.9h0M316.2 692.1h0M321.1 680.4h0M315.6 701.1h0M328.1 683.0h0M321.5 685.6h0M341.6 674.2h0"/>
<path d="M314.2 690.2h0M323.5 700.7h0M327.3 674.6h0M329.6 671.3h0M334.5 661.5h0M332.7 675.8h0M316.6 681.0h0M325.7 688.8h0M312.4 667.4h0M317.3 688.2h0M302.5 704.3h0M318.0 689.6h0M330.7 685.8h0M319.4 694.1h0M333.4 692.3h0M315.5 699.4h0M340.3 685.7h0M329.1 670.4h0M328.0 666.0h0M331.3 684.2h0M314.5 696.1h0M313.9 684.2h0M323.9 699.4h0M319.4 677.6h0M303.1 699.1h0M312.0 682.2h0M305.3 703.3h0M329.0 674.9h0M306.8 689.8h0M317.9 687.5h0M325.5 680.2h0M324.0 709.7h0M329.3 702.8h0M312.5 678.4h0M323.3 689.7h0M320.9 683.5h0M314.4 688.2h0M315.5 674.9h0M319.7 686.2h0M320.7 679.5h0M312.7 687.6h0M322.5 675.4h0M327.7 677.8h0M327.4 690.0h0M326.8 672.2h0M319.3 688.3h0M321.3 695.0h0M331.3 711.5h0M306.6 689.6h0M302.7 699.6h0M314.4 682.6h0M326.3 701.8h0M312.9 674.2h0M318.8 682.5h0M329.9 662.1h0M331.2 683.4h0M319.9 703.2h0M312.7 670.9h0M325.1 672.3h0M324.7 666.8h0M321.6 683.9h0M317.9 689.3h0M335.7 688.3h0M326.3 676.2h0M322.2 690.7h0M328.5 672.8h0M314.2 699.4h0M314.1 682.5h0M309.2 696.6h0M326.1 680.9h0M329.6 701.5h0M333.3 691.3h0M326.4 683.8h0M323.0 678.5h0M315.6 686.4h0M325.0 700.4h0M329.2 674.3h0M319.0 701.6h0M310.0 709.2h0M317.8 673.9h0M325.6 687.6h0M329.7 687.7h0M327.0 691.1h0M316.2 684.6h0M317.7 671.0h0M304.3 660.7h0M325.1 687.8h0M314.4 659.5h0M325.8 669.6h0M335.1 647.6h0M334.1 663.5h0M323.3 670.1h0M321.5 685.7h0M333.3 677.4h0M308.4 681.7h0M326.3 690.6h0M312.8 686.8h0M317.5 706.8h0M314.3 671.3h0M317.3 683.2h0M315.0 683.2h0M332.1 674.0h0M320.0 670.9h0M311.5 680.9h0M322.7 698.8h0M325.9 695.8h0M317.5 680.6h0M316.6 710.1h0M316.8 703.8h0M333.6 672.2h0M324.7 670.1h0M312.2 683.0h0M320.6 671.8h0M314.2 699.8h0M318.4 677.3h0M320.8 671.3h0M344.4 698.2h0M317.0 673.0h0M315.0 685.8h0M335.0 704.0h0M325.6 688.9h0M330.5 684.6h0M327.1 671.9h0M315.7 675.8h0M313.6 667.0h0M331.0 664.9h0M321.7 681.5h0M319.3 702.1h0M325.9 695.4h0M328.5 670.6h0M317.7 707.0h0M337.8 675.3h0M322.3 681.7h0M328.9 672.4h0M323.7 674.3h0M311.2 685.7h0M325.6 680.8h0M323.4 718.6h0M324.1 672.1h0M312.1 676.7h0M318.0 676.5h0M312.9 700.5h0M313.9 694.3h0M324.0 676.7h0M317.0 671.2h0M319.1 692.4h0M339.4 685.7h0M329.9 702.7h0M313.2 700.8h0M335.4 686.7h0"/>
<path d="M316.1 677.9h0M321.7 685.9h0M327.9 682.5h0M319.7 686.8h0M321.5 670.4h0M329.9 674.6h0M333.9 682.5h0M316.2 705.3h0M333.3 677.8h0M319.6 678.8h0M327.3 677.3h0M315.0 667.3h0M321.8 695.7h0M316.6 681.0h0M316.3 690.7h0M327.8 687.1h0M325.7 688.6h0M322.3 665.6h0M338.6 695.1h0M323.5 653.7h0M311.5 690.4h0M300.2 688.5h0M332.3 663.7h0M320.2 686.1h0M327.7 693.3h0M303.6 674.1h0M327.1 690.7h0M303.5 688.7h0M327.0 697.7h0M328.5 667.7h0M321.5 669.8h0M327.1 680.4h0M317.1 666.9h0M333.5 685.1h0M324.7 685.5h0M317.5 712.0h0M328.9 681.5h0M321.3 683.9h0M308.1 688.9h0M335.6 693.0h0M330.9 663.1h0M320.7 670.6h0M321.2 669.3h0M328.9 660.5h0M316.9 687.1h0M322.2 692.6h0M339.9 704.1h0M320.9 700.0h0M319.4 697.4h0M325.4 669.0h0M323.1 682.3h0M319.2 677.8h0M326.1 686.9h0M320.5 678.7h0M317.2 708.8h0M328.3 677.9h0M316.2 686.5h0M318.6 694.8h0M304.4 675.2h0M334.1 710.8h0M309.4 694.7h0M327.8 683.0h0M314.6 681.6h0M321.2 696.8h0M307.5 689.1h0M314.0 697.8h0M320.9 709.0h0M310.7 700.1h0M323.7 679.6h0M323.5 679.4h0M328.1 700.0h0M321.6 678.5h0M305.9 691.2h0M318.7 646.0h0M336.8 684.9h0M327.0 662.1h0M307.2 701.0h0M325.5 695.7h0M334.9 661.3h0M321.1 668.1h0M327.9 682.1h0M314.4 694.3h0M330.8 688.9h0M316.7 688.2h0M322.5 679.8h0M313.0 678.9h0M325.0 705.9h0M315.9 700.4h0M323.3 669.5h0M316.9 661.9h0M314.1 671.9h0M319.8 667.9h0M310.3 683.7h0M311.7 668.1h0M325.3 668.4h0M325.2 673.6h0M324.6 682.3h0M312.9 689.5h0M315.9 659.8h0M323.4 678.2h0M326.7 683.0h0M319.6 683.9h0M317.6 676.1h0M320.9 695.6h0M326.2 676.8h0M321.2 695.7h0M330.9 662.7h0M324.5 680.9h0M322.8 673.7h0M310.6 680.5h0M328.7 709.3h0M323.1 708.9h0M314.4 683.1h0M327.2 669.4h0M322.9 679.3h0M318.4 699.9h0M304.9 690.7h0M320.8 676.3h0M334.2 706.0h0M329.9 692.7h0M334.4 703.6h0M311.9 687.2h0M323.6 703.0h0M330.6 685.8h0M325.6 687.7h0M318.1 691.6h0M322.6 673.2h0M317.7 681.0h0M317.4 702.9h0M315.2 683.3h0M325.2 703.8h0M324.6 660.1h0M313.5 696.8h0M328.3 685.7h0M335.7 681.7h0M326.2 685.6h0M316.4 672.1h0M317.0 711.8h0M322.1 685.4h0M322.7 682.6h0M324.8 674.1h0M320.9 672.8h0M317.1 674.3h0M318.5 669.4h0M322.3 671.9h0M339.6 665.9h0M309.6 705.3h0M323.1 675.6h0M326.3 683.0h0M331.6 676.4h0"/>
<path d="M313.6 710.4h0M317.6 691.8h0M314.2 663.2h0M308.3 680.7h0M329.6 699.7h0M324.1 679.3h0M333.0 660.9h0M324.6 675.1h0M334.7 705.8h0M311.6 652.0h0M308.0 699.4h0M330.2 658.9h0M324.6 698.4h0M327.3 669.9h0M307.6 683.5h0M322.0 675.1h0M316.8 685.1h0M324.4 684.4h0M329.4 687.7h0M315.3 671.5h0M305.1 698.1h0M322.6 678.0h0M324.7 673.8h0M318.5 690.9h0M333.9 666.9h0M323.1 690.7h0M322.5 689.5h0M321.0 661.9h0M324.7 688.4h0M320.2 675.9h0M321.3 693.2h0M332.6 678.3h0M330.6 660.8h0M330.8 681.0h0M324.8 687.6h0M331.2 696.4h0M312.0 679.7h0M315.8 721.8h0M316.9 691.3h0M319.1 700.9h0M323.5 680.8h0M314.4 688.8h0M319.4 692.2h0M330.4 669.6h0M312.5 666.1h0M333.5 649.7h0M318.5 678.5h0M301.0 713.9h0M317.8 668.3h0M316.9 684.0h0M322.4 689.6h0M331.7 682.7h0M322.6 693.4h0M307.6 686.4h0M323.9 684.7h0M328.9 667.7h0M326.9 683.9h0M318.3 674.6h0M328.5 698.3h0M304.2 700.6h0M321.2 698.8h0M318.6 690.7h0M333.9 709.3h0M318.6 669.9h0M320.1 687.4h0M330.5 671.8h0M327.3 676.3h0M314.8 670.6h0M312.6 692.9h0M325.8 680.6h0M329.4 694.4h0M324.4 678.3h0M324.5 673.6h0M328.7 652.6h0M338.8 663.3h0M331.8 696.3h0M325.5 687.0h0M315.1 697.3h0M332.0 696.7h0M312.1 689.9h0M311.8 702.3h0M322.1 696.7h0M329.9 672.4h0M308.6 692.2h0M316.5 691.2h0M306.9 685.7h0M330.8 665.2h0M324.2 676.1h0M322.9 683.0h0M333.4 685.2h0M325.3 691.0h0M319.8 688.4h0M329.3 681.0h0M330.2 688.4h0M330.0 668.1h0M326.2 680.8h0M309.4 689.1h0M325.1 695.2h0M325.5 673.4h0M321.3 671.1h0M315.5 679.3h0M323.6 706.0h0M326.3 696.2h0M328.5 699.1h0M321.3 681.3h0M327.7 681.0h0M326.6 677.3h0M314.7 678.8h0M316.4 706.6h0M328.9 685.0h0M325.1 679.7h0M317.9 679.7h0M324.2 690.1h0M328.2 663.1h0M312.6 689.3h0M318.4 658.7h0M315.8 677.0h0M314.3 682.3h0M324.2 684.7h0M318.7 709.0h0M312.7 692.6h0M325.7 685.8h0M324.1 673.1h0M317.0 695.4h0M308.4 681.4h0M330.4 673.7h0M328.5 692.8h0M331.5 655.1h0M320.7 705.7h0M323.3 696.8h0M322.3 698.7h0M318.5 687.2h0M315.0 677.6h0M323.5 683.7h0M333.1 675.0h0M331.2 676.0h0M304.4 695.9h0M314.5 686.3h0M330.3 657.5h0M321.1 694.3h0M321.7 676.7h0M302.5 682.5h0M317.1 676.3h0M336.8 677.6h0M319.4 695.8h0M324.6 683.6h0M338.1 677.0h0M312.5 709.0h0M316.5 661.7h0M322.4 690.5h0"/>
<path d="M341.9 681.9h0M327.4 671.5h0M329.8 661.3h0M323.1 665.9h0M319.8 687.8h0M335.0 667.4h0M318.3 674.8h0M332.5 676.3h0M324.4 693.8h0M339.1 691.5h0M310.9 670.2h0M311.8 671.0h0M318.6 660.7h0M321.4 681.4h0M334.0 689.7h0M314.4 671.0h0M303.8 683.2h0M319.6 697.8h0M322.2 696.7h0M326.2 684.9h0M322.6 699.5h0M318.9 662.2h0M318.6 688.7h0M327.9 675.5h0M329.5 712.3h0M321.6 683.6h0M318.8 657.8h0M324.4 682.2h0M316.5 674.9h0M315.4 678.2h0M322.4 681.0h0M328.6 686.8h0M318.5 681.6h0M317.3 689.0h0M318.1 680.7h0M322.1 658.4h0M330.7 673.5h0M321.6 692.6h0M324.4 668.9h0M336.7 686.0h0M326.8 682.3h0M309.2 686.7h0M327.3 699.3h0M322.0 677.3h0M308.1 698.6h0M309.0 708.1h0M313.7 691.5h0M321.5 700.6h0M319.9 708.9h0M335.6 673.1h0M311.5 657.0h0M312.5 680.6h0M314.8 680.3h0M318.3 667.0h0M323.1 687.1h0M323.5 666.1h0M329.0 656.7h0M321.4 674.2h0M313.2 684.2h0M318.6 692.9h0M335.4 672.4h0M323.2 671.1h0M332.2 713.0h0M302.3 689.5h0M316.8 683.9h0M328.0 680.1h0M316.4 657.9h0M306.3 674.2h0M317.8 703.0h0M309.7 678.7h0M315.5 660.5h0M329.7 677.8h0M313.1 667.1h0M331.8 666.3h0M316.1 685.7h0M317.1 679.3h0M319.5 684.4h0M322.4 680.8h0M331.4 691.2h0M337.0 664.1h0M328.6 685.2h0M338.0 678.0h0M326.6 673.7h0M322.6 687.1h0M316.6 703.4h0M328.9 672.3h0M335.2 671.6h0M333.4 684.3h0M320.7 688.8h0M327.6 688.5h0M333.7 680.5h0M323.5 665.5h0M329.1 691.3h0M326.5 660.0h0M316.8 679.2h0M329.2 685.7h0M329.8 666.6h0M322.0 675.3h0M332.3 703.9h0M315.5 689.6h0M320.2 681.0h0M313.2 694.0h0M331.1 696.6h0M328.2 676.5h0M322.7 687.0h0M322.8 661.7h0M332.3 674.0h0M323.9 667.3h0M328.5 658.5h0M321.5 686.5h0M331.4 690.0h0M315.8 684.9h0M326.8 683.7h0M318.3 688.0h0M310.6 677.4h0M319.6 682.5h0M319.7 700.2h0M322.0 688.0h0M320.7 687.9h0M310.9 677.1h0M312.8 676.5h0M330.8 694.0h0M310.0 664.7h0M317.4 687.8h0M322.8 664.1h0M322.7 688.8h0M336.2 685.0h0M325.7 688.5h0M313.0 682.7h0M321.1 676.7h0M325.3 675.7h0M321.4 681.1h0M313.7 692.4h0M316.3 703.8h0M328.3 674.6h0M324.1 672.3h0M330.5 668.4h0M314.4 703.6h0M325.0 698.3h0M322.3 693.3h0M311.7 687.1h0M313.9 686.3h0M328.1 686.1h0M327.3 672.1h0M320.3 697.2h0M330.3 653.8h0M324.7 697.2h0M324.7 675.0h0M318.1 681.8h0M321.6 682.9h0"/>
<path d="M327.2 690.1h0M327.1 695.3h0M331.7 710.6h0M323.7 684.3h0M332.1 684.2h0M317.2 704.1h0M324.1 673.4h0M337.3 691.2h0M319.4 683.3h0M320.4 660.4h0M306.8 669.2h0M316.2 683.6h0M325.9 694.9h0M325.9 694.6h0M339.4 672.9h0M315.7 698.3h0M314.2 697.3h0M312.2 708.6h0M343.7 678.4h0M313.8 687.5h0M338.6 671.1h0M317.0 677.6h0M326.4 679.4h0M327.9 683.4h0M303.9 683.5h0M306.1 670.5h0M322.6 683.6h0M325.4 663.6h0M347.4 692.2h0M336.4 703.2h0M310.0 701.7h0M306.1 700.6h0M335.7 680.6h0M314.4 690.5h0M319.9 674.6h0M325.7 658.9h0M323.8 689.0h0M319.6 721.4h0M332.5 690.9h0M324.1 676.4h0M316.6 696.5h0M331.0 673.4h0M309.3 706.7h0M312.1 696.9h0M336.5 694.7h0M325.2 672.6h0M315.5 692.6h0M319.8 691.3h0M314.8 702.7h0M315.7 698.1h0M324.2 699.8h0M332.4 686.0h0M335.0 668.0h0M317.5 688.3h0M319.3 689.3h0M338.2 676.8h0M331.3 666.6h0M343.6 699.2h0M326.5 695.1h0M323.5 681.3h0M316.5 700.8h0M319.7 680.1h0M327.6 672.1h0M315.1 686.1h0M304.9 688.2h0M318.2 683.3h0M332.3 694.4h0M308.1 701.4h0M330.7 693.9h0M325.2 685.9h0M319.2 641.1h0M316.8 692.5h0M322.1 684.2h0M317.6 718.5h0M313.6 694.5h0M333.3 685.2h0M316.9 703.4h0M316.7 677.1h0M335.5 670.2h0M335.2 694.0h0M339.8 683.3h0M335.6 679.9h0M312.5 684.2h0M343.6 678.3h0M327.6 677.5h0M323.3 692.6h0M315.5 700.8h0M328.5 687.3h0M318.1 685.0h0M324.5 689.3h0M320.1 676.5h0M305.7 663.0h0M324.0 678.5h0M317.5 664.0h0M337.7 690.8h0M328.4 687.0h0M314.7 698.4h0M322.9 663.7h0M321.5 698.4h0M324.0 679.5h0M322.5 705.4h0M322.8 699.8h0M313.6 694.0h0M318.6 687.2h0M318.7 677.3h0M311.2 700.3h0M316.1 698.3h0M321.6 680.6h0M326.8 676.0h0M310.1 686.4h0M316.0 684.2h0M327.3 669.4h0M322.3 692.1h0M332.7 691.9h0M324.5 671.2h0M319.0 713.5h0M327.7 671.0h0M307.8 681.7h0M320.1 707.5h0M338.9 674.2h0M331.3 667.2h0M326.5 681.4h0M330.3 680.2h0M322.0 673.7h0M331.1 672.9h0M321.7 698.2h0M331.1 676.1h0M324.6 661.1h0M327.6 682.6h0M312.6 683.2h0M329.8 678.8h0M325.8 690.1h0M326.7 701.2h0M323.2 703.9h0M314.6 682.7h0M306.7 695.4h0M314.2 674.3h0M322.8 686.1h0M311.6 696.3h0M322.6 688.7h0M322.9 684.6h0M313.2 695.5h0M310.0 704.4h0M318.2 683.7h0M318.3 689.1h0M309.1 672.8h0M323.3 699.6h0M321.0 669.0h0M312.4 689.7h0M332.9 678.7h0"/>
</g>
<g fill="none" stroke="#000" stroke-opacity="0.26" stroke-width="1.5" stroke-linecap="round">
<path d="M353.1 663.3h0M338.1 671.2h0M336.8 674.3h0M350.9 651.6h0M359.6 668.6h0M323.5 678.6h0M322.9 662.4h0M342.0 680.7h0M341.1 650.9h0M333.3 675.0h0M357.9 688.5h0M366.3 683.2h0M307.9 666.5h0M333.9 682.3h0M328.5 670.1h0M333.9 648.6h0M323.1 670.1h0M345.8 658.2h0M346.8 681.3h0M352.3 682.7h0M339.0 676.3h0M353.2 666.5h0M319.5 689.7h0M322.2 665.9h0M343.4 666.1h0M329.2 687.9h0M334.8 686.9h0M330.8 673.0h0M345.6 654.2h0M331.0 672.8h0M334.0 668.0h0M344.9 682.1h0M335.4 652.7h0M332.7 662.8h0M323.7 685.6h0M334.6 684.4h0M319.4 669.2h0M323.1 662.7h0M308.0 690.9h0M341.7 676.4h0M337.8 674.2h0M337.0 684.9h0M343.4 678.5h0M329.9 664.6h0M331.4 689.4h0M342.3 698.7h0M337.8 673.4h0M338.3 686.8h0M324.8 658.4h0M332.3 657.5h0M342.0 687.8h0M319.7 671.2h0M371.1 689.7h0M332.3 684.8h0M349.0 666.9h0M349.3 657.2h0M326.2 681.2h0M338.6 675.5h0M343.5 679.3h0M336.1 677.5h0M346.6 689.2h0M329.9 689.7h0M340.0 648.3h0M335.8 664.8h0M336.1 651.7h0M337.3 663.2h0M328.2 663.1h0M329.8 664.1h0M321.8 687.8h0M330.9 674.7h0M337.6 674.2h0M351.9 673.9h0M336.6 666.3h0M342.0 672.4h0M334.9 708.7h0M334.1 661.1h0M333.9 650.2h0M359.1 665.9h0M354.2 676.9h0M347.9 669.7h0M327.1 667.6h0M334.7 665.2h0M338.9 678.5h0M346.0 646.4h0M341.5 699.7h0M337.8 651.4h0M347.4 660.0h0M365.1 677.1h0M331.1 666.7h0M358.8 673.7h0M351.7 684.4h0M350.2 671.2h0M356.4 654.9h0M336.7 668.4h0M342.4 695.8h0M340.5 695.1h0M356.0 670.2h0M322.8 649.5h0M322.4 650.2h0M337.9 687.7h0M348.1 697.7h0M339.7 674.2h0M346.3 678.4h0M336.6 664.2h0M358.0 695.9h0M326.2 648.3h0M331.8 664.8h0M327.6 663.7h0M334.2 693.9h0M321.2 673.4h0M332.1 666.4h0M344.5 685.9h0M322.9 657.3h0M342.8 686.2h0M350.7 675.1h0M315.3 679.5h0M362.0 660.9h0M333.9 687.1h0M336.2 654.4h0M351.7 649.1h0M320.0 686.3h0M316.2 635.4h0M328.4 677.3h0M335.4 676.2h0M355.2 674.8h0M327.7 694.1h0M337.6 676.0h0M341.4 673.4h0M343.0 696.7h0M345.0 670.1h0M331.2 663.5h0M341.3 665.0h0M335.2 690.7h0M341.2 688.6h0M334.4 659.8h0M331.1 671.3h0M339.0 670.3h0M318.2 677.1h0M325.0 657.7h0M322.1 673.8h0M342.4 662.2h0M337.3 644.0h0M332.5 669.3h0M333.8 663.9h0M349.2 678.1h0M330.4 666.5h0M332.5 668.5h0M328.9 690.6h0M339.1 673.9h0M352.6 656.0h0"/>
<path d="M333.9 681.5h0M332.1 650.0h0M352.3 659.0h0M333.5 664.6h0M335.9 652.0h0M330.8 665.4h0M340.0 670.1h0M355.6 659.1h0M328.2 671.7h0M334.1 654.0h0M331.5 659.5h0M337.1 664.4h0M332.5 692.4h0M329.2 677.3h0M336.6 663.8h0M340.9 652.2h0M340.2 671.2h0M336.0 681.5h0M349.0 671.7h0M332.2 673.5h0M344.4 673.3h0M348.8 659.6h0M340.2 684.3h0M337.9 649.6h0M354.4 665.3h0M336.7 660.9h0M349.9 672.2h0M337.2 666.7h0M351.3 682.1h0M359.0 677.2h0M363.6 681.8h0M347.6 702.7h0M340.5 656.7h0M347.9 662.6h0M326.0 685.0h0M335.3 702.7h0M350.3 646.8h0M332.1 665.9h0M363.1 678.8h0M327.9 670.1h0M329.9 671.7h0M350.6 642.6h0M322.1 673.4h0M342.0 675.0h0M325.0 673.9h0M323.5 645.3h0M352.9 668.5h0M341.9 671.1h0M333.4 674.8h0M338.5 666.4h0M325.7 680.7h0M324.6 682.1h0M314.4 680.4h0M305.0 653.9h0M331.8 682.9h0M348.6 674.8h0M337.4 668.6h0M330.6 687.2h0M321.2 676.1h0M340.3 640.8h0M342.1 690.2h0M346.4 648.0h0M343.3 685.8h0M332.0 675.9h0M337.0 668.2h0M338.7 650.7h0M331.6 664.6h0M333.9 698.1h0M337.9 677.0h0M354.6 671.0h0M331.3 662.3h0M334.9 689.1h0M343.9 670.0h0M326.1 667.2h0M325.8 681.1h0M355.0 687.6h0M340.1 679.1h0M352.9 702.3h0M330.9 691.9h0M340.6 656.0h0M355.1 693.5h0M341.2 693.3h0M351.5 671.4h0M354.8 676.9h0M331.3 649.9h0M343.4 681.3h0M313.1 673.7h0M335.8 661.7h0M341.9 673.1h0M338.4 667.6h0M338.3 685.2h0M328.8 694.6h0M334.8 686.0h0M334.7 678.2h0M340.1 696.7h0M329.3 666.2h0M344.9 686.9h0M327.9 662.3h0M340.6 697.4h0M348.8 666.4h0M312.5 652.9h0M359.1 692.1h0M332.8 682.0h0M330.7 673.3h0M357.8 688.6h0M334.4 648.5h0M337.4 680.0h0M332.5 669.4h0M316.2 675.7h0M351.5 677.4h0M345.4 686.5h0M316.4 676.1h0M336.4 664.2h0M326.5 675.2h0M336.2 657.3h0M335.6 654.3h0M332.2 651.2h0M343.8 684.7h0M343.2 670.7h0M327.9 676.4h0M336.3 651.5h0M335.7 662.9h0M340.2 657.1h0M328.1 660.7h0M346.0 695.9h0M332.9 668.9h0M355.6 642.1h0M342.5 697.7h0M361.1 671.1h0M332.5 693.2h0M324.6 655.3h0M327.3 666.7h0M332.7 669.9h0M334.0 680.0h0M346.4 683.3h0M345.5 654.7h0M324.6 667.2h0M333.4 658.9h0M339.7 651.4h0M342.5 662.5h0M347.3 666.8h0M349.5 677.8h0M343.2 642.0h0M328.3 674.5h0M354.5 692.7h0M345.8 678.3h0M339.9 630.4h0M346.3 680.7h0M310.6 650.2h0M346.0 676.2h0"/>
<path d="M343.6 684.8h0M332.8 685.8h0M341.7 663.9h0M333.7 664.0h0M322.2 661.3h0M336.0 659.2h0M327.7 693.2h0M348.8 675.1h0M337.1 692.6h0M333.7 673.0h0M337.4 664.0h0M325.3 670.5h0M317.4 684.0h0M347.6 706.4h0M336.8 672.2h0M336.9 685.5h0M332.5 672.1h0M331.0 655.7h0M330.4 692.4h0M327.8 657.8h0M361.6 658.8h0M363.4 691.4h0M338.1 670.3h0M326.8 672.3h0M345.4 690.0h0M357.0 694.6h0M363.9 671.0h0M335.3 654.5h0M334.0 667.4h0M333.7 696.5h0M352.6 681.2h0M325.1 640.6h0M339.1 687.8h0M337.7 670.9h0M343.1 658.3h0M327.1 689.0h0M341.8 657.7h0M331.5 660.9h0M335.2 659.1h0M347.2 676.5h0M339.3 662.4h0M321.6 686.1h0M345.2 678.3h0M353.6 641.5h0M355.2 658.6h0M350.8 665.8h0M350.0 682.9h0M373.8 645.0h0M335.7 703.5h0M332.5 685.0h0M338.4 663.8h0M343.6 678.8h0M340.7 675.1h0M345.4 674.8h0M340.1 648.3h0M345.0 686.2h0M338.2 665.2h0M339.3 656.9h0M333.7 675.7h0M339.0 679.7h0M348.3 665.6h0M325.7 688.2h0M345.8 671.5h0M368.0 707.9h0M335.1 649.1h0M338.5 655.3h0M331.4 663.6h0M349.0 663.8h0M351.8 645.7h0M339.0 671.6h0M333.6 680.7h0M344.7 682.3h0M352.0 659.9h0M325.7 667.3h0M332.7 677.2h0M317.5 670.1h0M338.7 678.5h0M303.8 669.1h0M348.7 650.1h0M344.7 674.5h0M320.6 679.3h0M344.8 659.1h0M339.9 675.6h0M338.5 657.4h0M343.6 672.8h0M287.2 674.6h0M363.8 677.4h0M355.2 654.0h0M320.8 656.2h0M341.8 662.1h0M336.5 666.6h0M336.2 678.8h0M334.9 666.3h0M339.6 696.5h0M337.0 689.6h0M343.2 659.4h0M345.8 662.5h0M329.1 679.0h0M327.6 671.0h0M349.4 673.5h0M322.4 655.3h0M341.9 670.7h0M332.4 671.1h0M336.9 655.3h0M337.1 659.3h0M339.5 675.9h0M334.2 695.5h0M340.6 679.6h0M338.6 653.3h0M337.0 667.6h0M344.2 662.4h0M331.5 673.3h0M332.0 659.6h0M332.5 675.1h0M350.7 693.9h0M357.8 678.7h0M338.4 648.7h0M339.1 681.9h0M328.3 656.5h0M344.7 674.7h0M350.2 670.2h0M340.7 673.5h0M346.7 674.2h0M336.3 658.7h0M354.5 700.1h0M340.2 672.9h0M320.9 654.2h0M338.3 652.6h0M339.8 676.5h0M355.9 672.3h0M334.8 662.2h0M308.8 677.0h0M327.3 700.3h0M326.9 663.6h0M351.8 659.5h0M334.7 685.8h0M345.9 685.5h0M359.1 680.6h0M335.2 678.2h0M341.8 680.3h0M339.8 672.1h0M338.9 679.6h0M328.7 663.2h0M346.4 677.3h0M332.0 660.2h0M339.8 662.2h0M340.3 677.9h0M318.9 682.0h0M333.8 653.0h0M370.3 672.0h0"/>
</g>
<g fill="none" stroke="#000" stroke-opacity="0.26" stroke-width="1.5" stroke-linecap="round">
<path d="M313.7 697.2h0M295.9 705.0h0M312.4 696.3h0M310.8 707.2h0M303.8 703.6h0M304.6 695.7h0M304.7 705.7h0M298.7 676.2h0M308.1 695.0h0M307.5 693.3h0M306.4 699.4h0M301.5 701.1h0M306.2 684.5h0M312.2 711.5h0M305.9 685.7h0M309.5 701.6h0M315.0 697.1h0M302.4 711.2h0M289.1 697.8h0M302.5 679.1h0M297.3 703.9h0M306.0 717.8h0M310.2 688.6h0M309.1 705.4h0M304.5 690.5h0M316.5 718.8h0M305.8 693.7h0M296.0 690.7h0M309.9 685.0h0M311.6 700.0h0M306.2 709.2h0M320.2 709.0h0M302.7 705.4h0M304.8 702.1h0M304.5 692.0h0M306.0 688.5h0M311.6 698.1h0M295.8 708.2h0M308.5 702.8h0M293.5 689.0h0M307.6 723.9h0M305.6 704.7h0M307.9 693.3h0M311.5 695.7h0M304.2 693.9h0M295.6 694.3h0M297.5 697.9h0M314.4 704.7h0M300.0 705.9h0M300.0 712.9h0M309.3 698.4h0M303.6 702.6h0M297.0 690.6h0M303.0 693.1h0M303.8 710.2h0M302.4 707.7h0M316.0 697.7h0M313.8 693.9h0M296.1 703.7h0M302.9 687.6h0M312.8 710.3h0M297.3 700.0h0M303.4 689.9h0M306.2 688.8h0M292.1 716.1h0M299.7 694.6h0M302.5 695.0h0M318.7 706.5h0M309.7 710.7h0M318.6 680.1h0M309.3 703.7h0M304.6 713.5h0M308.3 685.1h0M305.7 700.4h0M311.6 681.6h0M308.4 703.4h0M308.5 705.9h0M289.7 708.8h0M303.8 694.3h0M310.5 701.6h0M315.4 712.6h0M296.4 709.7h0M304.0 701.7h0M303.0 712.0h0M298.5 706.3h0M293.4 705.2h0M295.3 689.5h0M303.7 691.0h0M311.6 691.2h0M315.0 710.0h0M304.7 708.2h0M305.4 725.2h0M307.5 696.2h0M306.7 698.7h0M303.5 696.2h0M300.3 710.3h0M303.7 709.6h0M301.9 701.2h0M300.8 714.7h0M315.3 701.2h0M310.2 687.9h0M295.3 709.3h0M292.1 729.5h0M311.0 719.2h0M303.5 688.8h0M298.0 693.5h0M309.9 691.9h0M298.5 717.6h0M295.7 695.9h0M313.5 726.9h0"/>
</g>
<ellipse cx="319.2" cy="673" rx="10.4" ry="19" transform="rotate(10 319.2 673)" fill="#000"/>
</g>
<path d="M265.4 672.2 Q290 672.3 317 675.5" fill="none" stroke="#d8282c" stroke-width="0.8"/>
<path d="M272.7 683.8 Q290 684.8 303 683" fill="none" stroke="#d8282c" stroke-width="0.8"/>
<path d="M268.5 696.3 Q290 692.5 302.3 687.8" fill="none" stroke="#d8282c" stroke-width="0.8"/>
<circle cx="317.5" cy="675.8" r="1.2" fill="#16cc30"/>
<circle cx="303.5" cy="682.9" r="1.2" fill="#16cc30"/>
<circle cx="302.5" cy="687.3" r="1.2" fill="#16cc30"/>
<rect x="246.30" y="591.90" width="157.30" height="141.30" fill="none" stroke="#000" stroke-width="1.5"/>
<line x1="252" y1="733.2" x2="252" y2="737.0" stroke="#000" stroke-width="1.2" />
<text transform="translate(258 748.4)" font-size="10" text-anchor="middle" fill="#000">1e-03</text>
<line x1="302.9" y1="733.2" x2="302.9" y2="737.0" stroke="#000" stroke-width="1.2" />
<text transform="translate(306.1 748.4)" font-size="10" text-anchor="middle" fill="#000">1e-01</text>
<line x1="328.7" y1="733.2" x2="328.7" y2="737.0" stroke="#000" stroke-width="1.2" />
<text transform="translate(331.2 748.4)" font-size="10" text-anchor="middle" fill="#000">1</text>
<line x1="354" y1="733.2" x2="354" y2="737.0" stroke="#000" stroke-width="1.2" />
<text transform="translate(356.7 748.4)" font-size="10" text-anchor="middle" fill="#000">1e01</text>
<line x1="242.5" y1="622.3" x2="246.3" y2="622.3" stroke="#000" stroke-width="1.2" />
<text transform="translate(242.2 622.9) rotate(-90)" font-size="10" text-anchor="middle" textLength="18" lengthAdjust="spacingAndGlyphs" fill="#000">1e01</text>
<line x1="242.5" y1="657.6" x2="246.3" y2="657.6" stroke="#000" stroke-width="1.2" />
<text transform="translate(242.2 657.6) rotate(-90)" font-size="10" text-anchor="middle" fill="#000">1</text>
<line x1="242.5" y1="692.8" x2="246.3" y2="692.8" stroke="#000" stroke-width="1.2" />
<text transform="translate(242.2 692.8) rotate(-90)" font-size="10" text-anchor="middle" textLength="24" lengthAdjust="spacingAndGlyphs" fill="#000">1e-01</text>
<line x1="242.5" y1="728.1" x2="246.3" y2="728.1" stroke="#000" stroke-width="1.2" />
<text transform="translate(242.2 728.7) rotate(-90)" font-size="10" text-anchor="middle" textLength="25" lengthAdjust="spacingAndGlyphs" fill="#000">1e-03</text>
<text transform="translate(222.3 659.7) rotate(-90)" font-size="12.2" text-anchor="middle" textLength="77.5" lengthAdjust="spacingAndGlyphs" fill="#000">TSS Region Change</text>
<text transform="translate(326.3 761.8)" font-size="12.2" text-anchor="middle" textLength="75.5" lengthAdjust="spacingAndGlyphs" fill="#000">Gene Body Change</text>
<text transform="translate(235.5 582.6)" font-size="10.5" text-anchor="middle" fill="#000">ii</text>
<text transform="translate(331.5 570.5)" font-size="11" text-anchor="middle" textLength="55" lengthAdjust="spacingAndGlyphs" fill="#000">Ser 2 pol II</text>
<text transform="translate(331.5 583.2)" font-size="11" text-anchor="middle" textLength="44.5" lengthAdjust="spacingAndGlyphs" fill="#000">D7 PI &gt;4</text>
<text transform="translate(249 675.4)" font-size="9.2" text-anchor="start" textLength="15.9" lengthAdjust="spacingAndGlyphs" fill="#000">Myc</text>
<text transform="translate(247.9 687.3)" font-size="9.2" text-anchor="start" textLength="23.9" lengthAdjust="spacingAndGlyphs" fill="#000">Rps19</text>
<text transform="translate(249.8 699.8)" font-size="9.2" text-anchor="start" textLength="18.3" lengthAdjust="spacingAndGlyphs" fill="#000">Rps7</text>
</svg>
</body></html>
